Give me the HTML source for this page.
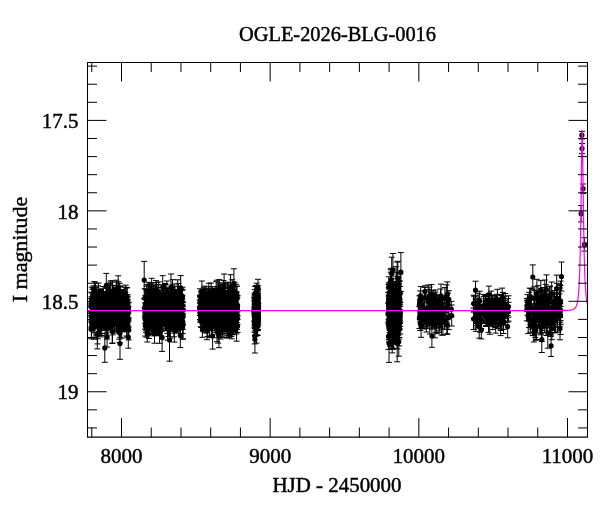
<!DOCTYPE html>
<html><head><meta charset="utf-8"><style>html,body{margin:0;padding:0;background:#fff;}svg{display:block}</style></head>
<body><svg width="600" height="512" viewBox="0 0 600 512">
<rect width="600" height="512" fill="#fff"/>
<g font-family="'Liberation Serif', 'DejaVu Serif', serif" font-size="20.4" fill="#000" stroke="#000" stroke-width="0.45">
<text x="337.5" y="40.6" text-anchor="middle" textLength="197" lengthAdjust="spacingAndGlyphs">OGLE-2026-BLG-0016</text>
<text x="121.5" y="463.1" text-anchor="middle" font-size="21">8000</text><text x="270.2" y="463.1" text-anchor="middle" font-size="21">9000</text><text x="418.8" y="463.1" text-anchor="middle" font-size="21">10000</text><text x="567.5" y="463.1" text-anchor="middle" font-size="21">11000</text>
<text x="78.4" y="128.0" text-anchor="end" font-size="21">17.5</text><text x="78.4" y="218.5" text-anchor="end" font-size="21">18</text><text x="78.4" y="308.9" text-anchor="end" font-size="21">18.5</text><text x="78.4" y="399.4" text-anchor="end" font-size="21">19</text>
<text x="337" y="491.6" text-anchor="middle" textLength="129" lengthAdjust="spacingAndGlyphs">HJD - 2450000</text>
<text transform="translate(26.7 249.5) rotate(-90)" text-anchor="middle" textLength="105.5" lengthAdjust="spacingAndGlyphs">I magnitude</text>
</g>
<defs><clipPath id="c"><rect x="87.5" y="62.5" width="500.0" height="374.5"/></clipPath></defs>
<g clip-path="url(#c)">
<path d="M110.0 303.8V315.8M107.0 303.8h6M107.0 315.8h6M109.1 311.6V325.5M106.1 311.6h6M106.1 325.5h6M98.4 312.5V323.4M95.4 312.5h6M95.4 323.4h6M107.7 301.7V314.5M104.7 301.7h6M104.7 314.5h6M109.9 305.9V314.7M106.9 305.9h6M106.9 314.7h6M118.3 305.7V318.4M115.3 305.7h6M115.3 318.4h6M109.9 292.3V307.3M106.9 292.3h6M106.9 307.3h6M124.1 287.1V305.9M121.1 287.1h6M121.1 305.9h6M98.0 309.7V322.8M95.0 309.7h6M95.0 322.8h6M108.3 300.1V316.1M105.3 300.1h6M105.3 316.1h6M93.8 310.0V323.9M90.8 310.0h6M90.8 323.9h6M128.4 302.2V313.7M125.4 302.2h6M125.4 313.7h6M102.0 294.1V310.4M99.0 294.1h6M99.0 310.4h6M124.7 300.0V313.5M121.7 300.0h6M121.7 313.5h6M114.5 314.7V333.1M111.5 314.7h6M111.5 333.1h6M98.6 316.7V331.8M95.6 316.7h6M95.6 331.8h6M95.1 301.0V322.6M92.1 301.0h6M92.1 322.6h6M118.9 293.2V314.7M115.9 293.2h6M115.9 314.7h6M95.7 296.9V310.8M92.7 296.9h6M92.7 310.8h6M115.5 302.2V319.3M112.5 302.2h6M112.5 319.3h6M100.9 305.9V316.3M97.9 305.9h6M97.9 316.3h6M106.2 296.9V313.8M103.2 296.9h6M103.2 313.8h6M120.5 297.9V312.4M117.5 297.9h6M117.5 312.4h6M114.9 305.5V322.3M111.9 305.5h6M111.9 322.3h6M119.4 294.5V309.4M116.4 294.5h6M116.4 309.4h6M104.0 312.9V326.8M101.0 312.9h6M101.0 326.8h6M111.4 303.5V319.0M108.4 303.5h6M108.4 319.0h6M94.1 314.8V332.7M91.1 314.8h6M91.1 332.7h6M103.1 286.6V306.5M100.1 286.6h6M100.1 306.5h6M106.5 314.3V330.2M103.5 314.3h6M103.5 330.2h6M92.9 287.9V305.1M89.9 287.9h6M89.9 305.1h6M114.0 304.4V320.2M111.0 304.4h6M111.0 320.2h6M128.4 311.3V327.3M125.4 311.3h6M125.4 327.3h6M106.5 303.1V315.8M103.5 303.1h6M103.5 315.8h6M99.9 299.2V316.5M96.9 299.2h6M96.9 316.5h6M91.4 307.0V327.1M88.4 307.0h6M88.4 327.1h6M98.5 294.0V307.9M95.5 294.0h6M95.5 307.9h6M125.7 306.7V322.0M122.7 306.7h6M122.7 322.0h6M118.4 292.8V317.2M115.4 292.8h6M115.4 317.2h6M119.9 291.5V323.2M116.9 291.5h6M116.9 323.2h6M121.6 320.2V338.1M118.6 320.2h6M118.6 338.1h6M121.8 305.5V321.6M118.8 305.5h6M118.8 321.6h6M114.4 294.9V312.9M111.4 294.9h6M111.4 312.9h6M107.4 301.9V315.9M104.4 301.9h6M104.4 315.9h6M127.8 308.8V322.1M124.8 308.8h6M124.8 322.1h6M110.1 312.5V329.4M107.1 312.5h6M107.1 329.4h6M102.3 298.5V310.8M99.3 298.5h6M99.3 310.8h6M91.8 287.1V315.2M88.8 287.1h6M88.8 315.2h6M119.4 305.3V328.9M116.4 305.3h6M116.4 328.9h6M97.7 305.7V322.2M94.7 305.7h6M94.7 322.2h6M112.8 297.8V311.5M109.8 297.8h6M109.8 311.5h6M118.8 300.6V321.2M115.8 300.6h6M115.8 321.2h6M100.0 290.0V306.4M97.0 290.0h6M97.0 306.4h6M110.1 310.9V326.0M107.1 310.9h6M107.1 326.0h6M96.9 299.1V315.5M93.9 299.1h6M93.9 315.5h6M96.3 287.3V300.4M93.3 287.3h6M93.3 300.4h6M115.3 295.2V310.5M112.3 295.2h6M112.3 310.5h6M113.9 289.4V306.6M110.9 289.4h6M110.9 306.6h6M117.2 291.0V311.8M114.2 291.0h6M114.2 311.8h6M105.7 301.3V316.8M102.7 301.3h6M102.7 316.8h6M122.4 307.4V331.1M119.4 307.4h6M119.4 331.1h6M108.2 293.5V309.6M105.2 293.5h6M105.2 309.6h6M104.7 313.0V324.8M101.7 313.0h6M101.7 324.8h6M92.5 298.4V308.6M89.5 298.4h6M89.5 308.6h6M119.9 289.5V305.3M116.9 289.5h6M116.9 305.3h6M105.2 299.9V315.2M102.2 299.9h6M102.2 315.2h6M93.8 285.8V307.7M90.8 285.8h6M90.8 307.7h6M119.2 306.8V322.9M116.2 306.8h6M116.2 322.9h6M106.6 287.5V312.9M103.6 287.5h6M103.6 312.9h6M104.4 295.1V312.2M101.4 295.1h6M101.4 312.2h6M115.8 300.4V314.5M112.8 300.4h6M112.8 314.5h6M115.5 295.4V312.3M112.5 295.4h6M112.5 312.3h6M127.2 302.2V322.2M124.2 302.2h6M124.2 322.2h6M104.7 305.9V320.6M101.7 305.9h6M101.7 320.6h6M121.5 301.9V318.7M118.5 301.9h6M118.5 318.7h6M98.4 316.1V327.5M95.4 316.1h6M95.4 327.5h6M119.7 286.5V304.4M116.7 286.5h6M116.7 304.4h6M109.9 283.7V313.8M106.9 283.7h6M106.9 313.8h6M113.3 285.5V301.8M110.3 285.5h6M110.3 301.8h6M110.1 303.4V322.3M107.1 303.4h6M107.1 322.3h6M117.3 311.4V328.8M114.3 311.4h6M114.3 328.8h6M108.7 298.8V320.6M105.7 298.8h6M105.7 320.6h6M101.1 316.5V328.7M98.1 316.5h6M98.1 328.7h6M105.1 296.1V316.9M102.1 296.1h6M102.1 316.9h6M97.6 315.2V335.8M94.6 315.2h6M94.6 335.8h6M116.3 280.2V298.3M113.3 280.2h6M113.3 298.3h6M121.2 300.9V325.1M118.2 300.9h6M118.2 325.1h6M123.9 307.9V325.6M120.9 307.9h6M120.9 325.6h6M125.7 303.4V327.3M122.7 303.4h6M122.7 327.3h6M127.1 310.5V322.0M124.1 310.5h6M124.1 322.0h6M119.7 283.4V305.0M116.7 283.4h6M116.7 305.0h6M90.9 298.4V313.6M87.9 298.4h6M87.9 313.6h6M119.7 299.5V316.1M116.7 299.5h6M116.7 316.1h6M104.6 299.2V318.1M101.6 299.2h6M101.6 318.1h6M118.2 275.8V298.4M115.2 275.8h6M115.2 298.4h6M121.3 307.5V322.5M118.3 307.5h6M118.3 322.5h6M108.0 296.7V316.2M105.0 296.7h6M105.0 316.2h6M122.6 299.3V319.5M119.6 299.3h6M119.6 319.5h6M102.7 306.2V319.6M99.7 306.2h6M99.7 319.6h6M110.3 302.2V318.3M107.3 302.2h6M107.3 318.3h6M95.4 305.2V318.8M92.4 305.2h6M92.4 318.8h6M92.3 301.0V314.2M89.3 301.0h6M89.3 314.2h6M112.4 303.0V320.8M109.4 303.0h6M109.4 320.8h6M116.7 292.1V307.7M113.7 292.1h6M113.7 307.7h6M97.3 320.3V348.9M94.3 320.3h6M94.3 348.9h6M96.1 297.1V312.2M93.1 297.1h6M93.1 312.2h6M108.4 299.2V316.4M105.4 299.2h6M105.4 316.4h6M110.7 303.4V319.9M107.7 303.4h6M107.7 319.9h6M97.5 305.2V321.5M94.5 305.2h6M94.5 321.5h6M108.9 295.0V307.5M105.9 295.0h6M105.9 307.5h6M104.6 304.4V324.6M101.6 304.4h6M101.6 324.6h6M126.5 309.3V324.8M123.5 309.3h6M123.5 324.8h6M121.0 294.5V313.7M118.0 294.5h6M118.0 313.7h6M93.5 302.8V324.0M90.5 302.8h6M90.5 324.0h6M92.4 299.1V314.8M89.4 299.1h6M89.4 314.8h6M112.8 297.6V310.7M109.8 297.6h6M109.8 310.7h6M115.1 293.8V315.0M112.1 293.8h6M112.1 315.0h6M126.1 301.4V313.8M123.1 301.4h6M123.1 313.8h6M106.4 303.3V322.0M103.4 303.3h6M103.4 322.0h6M107.2 310.8V332.1M104.2 310.8h6M104.2 332.1h6M119.3 296.8V319.8M116.3 296.8h6M116.3 319.8h6M108.5 294.9V306.9M105.5 294.9h6M105.5 306.9h6M103.5 305.2V327.1M100.5 305.2h6M100.5 327.1h6M99.9 313.0V327.5M96.9 313.0h6M96.9 327.5h6M107.7 299.4V317.3M104.7 299.4h6M104.7 317.3h6M115.9 306.1V319.9M112.9 306.1h6M112.9 319.9h6M114.1 295.6V314.0M111.1 295.6h6M111.1 314.0h6M118.6 281.8V302.6M115.6 281.8h6M115.6 302.6h6M123.7 311.6V328.5M120.7 311.6h6M120.7 328.5h6M105.7 298.9V315.4M102.7 298.9h6M102.7 315.4h6M127.1 306.1V329.6M124.1 306.1h6M124.1 329.6h6M92.7 294.7V315.7M89.7 294.7h6M89.7 315.7h6M93.5 303.4V322.3M90.5 303.4h6M90.5 322.3h6M107.5 298.9V315.5M104.5 298.9h6M104.5 315.5h6M98.4 292.2V310.5M95.4 292.2h6M95.4 310.5h6M107.9 293.5V305.9M104.9 293.5h6M104.9 305.9h6M127.6 309.2V324.1M124.6 309.2h6M124.6 324.1h6M118.2 289.7V303.1M115.2 289.7h6M115.2 303.1h6M116.9 312.3V331.4M113.9 312.3h6M113.9 331.4h6M106.9 310.5V329.4M103.9 310.5h6M103.9 329.4h6M91.4 315.6V329.2M88.4 315.6h6M88.4 329.2h6M126.4 307.0V319.7M123.4 307.0h6M123.4 319.7h6M109.0 305.2V328.3M106.0 305.2h6M106.0 328.3h6M125.4 301.8V313.0M122.4 301.8h6M122.4 313.0h6M97.8 306.9V322.1M94.8 306.9h6M94.8 322.1h6M103.8 296.8V318.4M100.8 296.8h6M100.8 318.4h6M121.6 293.2V305.5M118.6 293.2h6M118.6 305.5h6M123.9 300.5V317.3M120.9 300.5h6M120.9 317.3h6M119.7 304.6V328.6M116.7 304.6h6M116.7 328.6h6M115.7 294.4V309.0M112.7 294.4h6M112.7 309.0h6M105.0 303.2V318.3M102.0 303.2h6M102.0 318.3h6M121.1 294.8V310.3M118.1 294.8h6M118.1 310.3h6M110.6 300.7V316.9M107.6 300.7h6M107.6 316.9h6M126.4 310.6V323.9M123.4 310.6h6M123.4 323.9h6M115.1 304.5V321.5M112.1 304.5h6M112.1 321.5h6M119.6 308.0V327.4M116.6 308.0h6M116.6 327.4h6M93.3 296.6V315.3M90.3 296.6h6M90.3 315.3h6M121.7 306.1V318.8M118.7 306.1h6M118.7 318.8h6M117.6 304.7V318.9M114.6 304.7h6M114.6 318.9h6M112.6 306.2V334.9M109.6 306.2h6M109.6 334.9h6M120.0 299.7V315.8M117.0 299.7h6M117.0 315.8h6M102.3 292.5V315.4M99.3 292.5h6M99.3 315.4h6M105.5 300.2V320.6M102.5 300.2h6M102.5 320.6h6M115.9 312.4V325.1M112.9 312.4h6M112.9 325.1h6M124.1 316.9V331.3M121.1 316.9h6M121.1 331.3h6M125.5 303.8V314.9M122.5 303.8h6M122.5 314.9h6M98.3 311.6V328.8M95.3 311.6h6M95.3 328.8h6M107.5 298.4V310.6M104.5 298.4h6M104.5 310.6h6M127.0 287.9V306.8M124.0 287.9h6M124.0 306.8h6M115.6 305.5V318.8M112.6 305.5h6M112.6 318.8h6M107.9 303.2V321.9M104.9 303.2h6M104.9 321.9h6M114.1 306.1V321.7M111.1 306.1h6M111.1 321.7h6M99.3 301.1V322.1M96.3 301.1h6M96.3 322.1h6M98.9 302.1V322.2M95.9 302.1h6M95.9 322.2h6M120.4 297.5V310.4M117.4 297.5h6M117.4 310.4h6M114.2 304.0V318.5M111.2 304.0h6M111.2 318.5h6M117.9 297.0V308.0M114.9 297.0h6M114.9 308.0h6M98.5 300.6V320.7M95.5 300.6h6M95.5 320.7h6M115.0 288.2V300.6M112.0 288.2h6M112.0 300.6h6M101.6 305.9V319.5M98.6 305.9h6M98.6 319.5h6M93.9 311.0V326.5M90.9 311.0h6M90.9 326.5h6M126.5 311.9V336.0M123.5 311.9h6M123.5 336.0h6M101.9 308.4V326.2M98.9 308.4h6M98.9 326.2h6M106.1 308.6V326.6M103.1 308.6h6M103.1 326.6h6M92.5 299.6V312.2M89.5 299.6h6M89.5 312.2h6M103.4 298.5V313.2M100.4 298.5h6M100.4 313.2h6M93.8 308.4V317.4M90.8 308.4h6M90.8 317.4h6M109.4 290.7V311.3M106.4 290.7h6M106.4 311.3h6M104.6 306.6V320.1M101.6 306.6h6M101.6 320.1h6M126.6 303.5V324.0M123.6 303.5h6M123.6 324.0h6M106.0 317.5V333.4M103.0 317.5h6M103.0 333.4h6M121.3 302.9V319.0M118.3 302.9h6M118.3 319.0h6M108.2 287.4V310.1M105.2 287.4h6M105.2 310.1h6M121.4 290.6V303.0M118.4 290.6h6M118.4 303.0h6M99.1 308.9V324.6M96.1 308.9h6M96.1 324.6h6M92.5 289.3V304.9M89.5 289.3h6M89.5 304.9h6M103.8 306.1V319.9M100.8 306.1h6M100.8 319.9h6M102.3 300.2V313.6M99.3 300.2h6M99.3 313.6h6M110.4 293.2V308.4M107.4 293.2h6M107.4 308.4h6M106.6 317.0V329.8M103.6 317.0h6M103.6 329.8h6M108.5 304.0V315.5M105.5 304.0h6M105.5 315.5h6M120.1 300.9V310.6M117.1 300.9h6M117.1 310.6h6M115.7 296.6V316.3M112.7 296.6h6M112.7 316.3h6M99.2 308.2V323.2M96.2 308.2h6M96.2 323.2h6M108.5 301.0V312.1M105.5 301.0h6M105.5 312.1h6M123.5 305.5V317.9M120.5 305.5h6M120.5 317.9h6M100.3 291.3V309.1M97.3 291.3h6M97.3 309.1h6M102.6 301.6V321.3M99.6 301.6h6M99.6 321.3h6M106.7 288.6V306.9M103.7 288.6h6M103.7 306.9h6M125.1 293.9V319.7M122.1 293.9h6M122.1 319.7h6M113.3 297.6V315.5M110.3 297.6h6M110.3 315.5h6M104.9 307.1V324.5M101.9 307.1h6M101.9 324.5h6M110.8 306.4V318.7M107.8 306.4h6M107.8 318.7h6M119.7 305.6V319.1M116.7 305.6h6M116.7 319.1h6M128.2 302.8V322.0M125.2 302.8h6M125.2 322.0h6M103.7 305.2V323.0M100.7 305.2h6M100.7 323.0h6M124.9 310.1V330.0M121.9 310.1h6M121.9 330.0h6M117.5 302.9V317.3M114.5 302.9h6M114.5 317.3h6M92.5 303.1V319.0M89.5 303.1h6M89.5 319.0h6M116.6 303.8V323.6M113.6 303.8h6M113.6 323.6h6M91.8 292.8V308.1M88.8 292.8h6M88.8 308.1h6M102.6 299.9V315.2M99.6 299.9h6M99.6 315.2h6M127.1 313.1V337.2M124.1 313.1h6M124.1 337.2h6M108.8 304.4V321.0M105.8 304.4h6M105.8 321.0h6M115.1 307.6V319.4M112.1 307.6h6M112.1 319.4h6M108.8 307.7V321.9M105.8 307.7h6M105.8 321.9h6M97.7 306.8V318.1M94.7 306.8h6M94.7 318.1h6M119.9 310.0V326.2M116.9 310.0h6M116.9 326.2h6M125.8 287.6V308.7M122.8 287.6h6M122.8 308.7h6M124.3 307.1V323.0M121.3 307.1h6M121.3 323.0h6M119.5 311.4V330.3M116.5 311.4h6M116.5 330.3h6M125.1 315.0V331.7M122.1 315.0h6M122.1 331.7h6M97.5 310.4V334.7M94.5 310.4h6M94.5 334.7h6M98.7 303.5V322.8M95.7 303.5h6M95.7 322.8h6M113.9 285.3V300.0M110.9 285.3h6M110.9 300.0h6M112.7 308.4V324.1M109.7 308.4h6M109.7 324.1h6M94.9 303.2V317.5M91.9 303.2h6M91.9 317.5h6M119.2 300.7V317.7M116.2 300.7h6M116.2 317.7h6M98.7 303.2V320.9M95.7 303.2h6M95.7 320.9h6M108.2 294.6V306.2M105.2 294.6h6M105.2 306.2h6M106.8 300.1V316.0M103.8 300.1h6M103.8 316.0h6M121.7 297.9V311.8M118.7 297.9h6M118.7 311.8h6M98.1 285.9V311.7M95.1 285.9h6M95.1 311.7h6M97.6 325.4V343.9M94.6 325.4h6M94.6 343.9h6M114.9 305.6V323.9M111.9 305.6h6M111.9 323.9h6M116.3 312.9V330.9M113.3 312.9h6M113.3 330.9h6M115.8 288.5V300.7M112.8 288.5h6M112.8 300.7h6M98.4 302.5V313.6M95.4 302.5h6M95.4 313.6h6M103.6 306.7V321.7M100.6 306.7h6M100.6 321.7h6M111.3 295.1V315.2M108.3 295.1h6M108.3 315.2h6M111.0 308.8V322.6M108.0 308.8h6M108.0 322.6h6M97.6 297.5V317.5M94.6 297.5h6M94.6 317.5h6M92.8 292.8V316.0M89.8 292.8h6M89.8 316.0h6M101.5 301.3V317.7M98.5 301.3h6M98.5 317.7h6M120.7 308.7V323.9M117.7 308.7h6M117.7 323.9h6M127.9 296.9V312.8M124.9 296.9h6M124.9 312.8h6M116.3 303.3V317.9M113.3 303.3h6M113.3 317.9h6M97.4 298.0V313.5M94.4 298.0h6M94.4 313.5h6M114.8 306.3V326.6M111.8 306.3h6M111.8 326.6h6M125.4 292.4V316.0M122.4 292.4h6M122.4 316.0h6M103.0 298.9V312.7M100.0 298.9h6M100.0 312.7h6M103.3 301.0V312.4M100.3 301.0h6M100.3 312.4h6M108.2 299.6V311.2M105.2 299.6h6M105.2 311.2h6M96.0 298.7V309.9M93.0 298.7h6M93.0 309.9h6M120.8 300.4V322.6M117.8 300.4h6M117.8 322.6h6M119.6 315.3V333.7M116.6 315.3h6M116.6 333.7h6M120.7 309.1V320.9M117.7 309.1h6M117.7 320.9h6M105.4 301.8V317.0M102.4 301.8h6M102.4 317.0h6M115.4 299.0V313.3M112.4 299.0h6M112.4 313.3h6M116.7 302.7V318.2M113.7 302.7h6M113.7 318.2h6M116.8 306.8V320.7M113.8 306.8h6M113.8 320.7h6M95.2 306.7V326.5M92.2 306.7h6M92.2 326.5h6M106.8 297.9V315.0M103.8 297.9h6M103.8 315.0h6M113.1 308.9V323.8M110.1 308.9h6M110.1 323.8h6M92.3 304.5V321.5M89.3 304.5h6M89.3 321.5h6M112.5 319.8V343.2M109.5 319.8h6M109.5 343.2h6M107.7 292.3V312.7M104.7 292.3h6M104.7 312.7h6M124.9 306.2V329.3M121.9 306.2h6M121.9 329.3h6M94.3 298.0V311.3M91.3 298.0h6M91.3 311.3h6M105.5 308.1V319.2M102.5 308.1h6M102.5 319.2h6M107.7 308.5V322.4M104.7 308.5h6M104.7 322.4h6M112.2 306.9V343.3M109.2 306.9h6M109.2 343.3h6M123.5 291.0V309.0M120.5 291.0h6M120.5 309.0h6M114.6 300.7V319.5M111.6 300.7h6M111.6 319.5h6M91.8 313.0V330.7M88.8 313.0h6M88.8 330.7h6M122.4 293.5V311.7M119.4 293.5h6M119.4 311.7h6M118.5 309.7V323.4M115.5 309.7h6M115.5 323.4h6M112.5 295.9V312.2M109.5 295.9h6M109.5 312.2h6M94.1 293.9V317.4M91.1 293.9h6M91.1 317.4h6M106.3 273.4V297.4M103.3 273.4h6M103.3 297.4h6M117.4 295.8V318.1M114.4 295.8h6M114.4 318.1h6M91.2 292.3V311.5M88.2 292.3h6M88.2 311.5h6M103.0 312.6V329.9M100.0 312.6h6M100.0 329.9h6M101.0 306.8V316.1M98.0 306.8h6M98.0 316.1h6M108.2 295.4V314.6M105.2 295.4h6M105.2 314.6h6M122.2 293.7V309.5M119.2 293.7h6M119.2 309.5h6M106.9 296.4V313.4M103.9 296.4h6M103.9 313.4h6M128.3 326.1V348.2M125.3 326.1h6M125.3 348.2h6M109.7 304.4V319.5M106.7 304.4h6M106.7 319.5h6M96.7 312.3V326.5M93.7 312.3h6M93.7 326.5h6M99.7 298.1V318.1M96.7 298.1h6M96.7 318.1h6M106.1 309.0V327.1M103.1 309.0h6M103.1 327.1h6M109.1 307.6V326.2M106.1 307.6h6M106.1 326.2h6M107.5 302.5V315.4M104.5 302.5h6M104.5 315.4h6M117.1 311.5V323.3M114.1 311.5h6M114.1 323.3h6M96.9 308.2V318.5M93.9 308.2h6M93.9 318.5h6M106.0 296.9V312.0M103.0 296.9h6M103.0 312.0h6M125.0 304.0V315.7M122.0 304.0h6M122.0 315.7h6M98.5 283.0V303.6M95.5 283.0h6M95.5 303.6h6M105.2 298.1V315.3M102.2 298.1h6M102.2 315.3h6M105.2 300.3V317.8M102.2 300.3h6M102.2 317.8h6M109.3 285.6V304.0M106.3 285.6h6M106.3 304.0h6M121.3 315.7V330.0M118.3 315.7h6M118.3 330.0h6M109.8 284.0V307.5M106.8 284.0h6M106.8 307.5h6M105.3 304.3V322.1M102.3 304.3h6M102.3 322.1h6M97.8 298.5V314.4M94.8 298.5h6M94.8 314.4h6M124.8 303.8V316.5M121.8 303.8h6M121.8 316.5h6M104.8 305.2V316.2M101.8 305.2h6M101.8 316.2h6M118.8 300.6V313.4M115.8 300.6h6M115.8 313.4h6M118.4 291.0V307.9M115.4 291.0h6M115.4 307.9h6M127.8 299.7V319.7M124.8 299.7h6M124.8 319.7h6M108.7 304.2V317.3M105.7 304.2h6M105.7 317.3h6M110.6 301.5V321.1M107.6 301.5h6M107.6 321.1h6M117.8 302.4V315.1M114.8 302.4h6M114.8 315.1h6M117.1 296.3V328.9M114.1 296.3h6M114.1 328.9h6M95.9 307.4V319.4M92.9 307.4h6M92.9 319.4h6M102.0 311.2V326.5M99.0 311.2h6M99.0 326.5h6M95.6 293.6V316.4M92.6 293.6h6M92.6 316.4h6M112.7 312.8V330.6M109.7 312.8h6M109.7 330.6h6M106.8 295.3V316.2M103.8 295.3h6M103.8 316.2h6M123.3 298.6V316.7M120.3 298.6h6M120.3 316.7h6M113.8 296.1V311.6M110.8 296.1h6M110.8 311.6h6M108.7 312.4V326.0M105.7 312.4h6M105.7 326.0h6M128.8 320.1V339.9M125.8 320.1h6M125.8 339.9h6M100.8 299.7V315.8M97.8 299.7h6M97.8 315.8h6M103.8 297.7V315.9M100.8 297.7h6M100.8 315.9h6M123.2 305.8V320.3M120.2 305.8h6M120.2 320.3h6M107.6 297.7V313.3M104.6 297.7h6M104.6 313.3h6M97.6 316.8V334.4M94.6 316.8h6M94.6 334.4h6M104.8 310.2V327.9M101.8 310.2h6M101.8 327.9h6M104.7 303.3V315.7M101.7 303.3h6M101.7 315.7h6M104.7 311.2V328.3M101.7 311.2h6M101.7 328.3h6M110.6 310.0V319.1M107.6 310.0h6M107.6 319.1h6M104.4 302.1V315.3M101.4 302.1h6M101.4 315.3h6M107.2 316.7V339.1M104.2 316.7h6M104.2 339.1h6M93.5 292.2V307.3M90.5 292.2h6M90.5 307.3h6M96.3 294.3V307.5M93.3 294.3h6M93.3 307.5h6M115.6 307.3V322.1M112.6 307.3h6M112.6 322.1h6M98.6 300.7V314.7M95.6 300.7h6M95.6 314.7h6M97.8 312.8V338.8M94.8 312.8h6M94.8 338.8h6M110.1 289.3V302.4M107.1 289.3h6M107.1 302.4h6M102.9 291.6V309.0M99.9 291.6h6M99.9 309.0h6M99.9 305.1V324.1M96.9 305.1h6M96.9 324.1h6M94.2 291.7V308.9M91.2 291.7h6M91.2 308.9h6M116.2 292.6V312.5M113.2 292.6h6M113.2 312.5h6M102.7 297.5V320.1M99.7 297.5h6M99.7 320.1h6M124.5 310.2V324.5M121.5 310.2h6M121.5 324.5h6M112.6 302.9V321.9M109.6 302.9h6M109.6 321.9h6M103.1 305.8V320.1M100.1 305.8h6M100.1 320.1h6M117.8 301.9V314.4M114.8 301.9h6M114.8 314.4h6M107.5 295.7V314.2M104.5 295.7h6M104.5 314.2h6M92.6 298.3V314.4M89.6 298.3h6M89.6 314.4h6M125.4 306.8V320.2M122.4 306.8h6M122.4 320.2h6M92.1 311.9V327.5M89.1 311.9h6M89.1 327.5h6M122.5 292.5V315.0M119.5 292.5h6M119.5 315.0h6M113.0 291.1V313.2M110.0 291.1h6M110.0 313.2h6M125.5 297.5V320.0M122.5 297.5h6M122.5 320.0h6M100.9 289.0V303.1M97.9 289.0h6M97.9 303.1h6M128.2 311.0V328.0M125.2 311.0h6M125.2 328.0h6M91.8 301.6V312.9M88.8 301.6h6M88.8 312.9h6M93.4 308.4V320.3M90.4 308.4h6M90.4 320.3h6M119.3 313.6V332.3M116.3 313.6h6M116.3 332.3h6M119.4 309.7V324.3M116.4 309.7h6M116.4 324.3h6M101.0 303.7V323.5M98.0 303.7h6M98.0 323.5h6M107.1 326.1V347.1M104.1 326.1h6M104.1 347.1h6M108.8 312.8V327.8M105.8 312.8h6M105.8 327.8h6M97.3 301.2V318.3M94.3 301.2h6M94.3 318.3h6M126.8 307.5V327.2M123.8 307.5h6M123.8 327.2h6M119.7 323.8V342.5M116.7 323.8h6M116.7 342.5h6M99.9 294.5V311.4M96.9 294.5h6M96.9 311.4h6M116.0 308.0V318.8M113.0 308.0h6M113.0 318.8h6M104.2 300.7V313.6M101.2 300.7h6M101.2 313.6h6M100.0 297.8V333.2M97.0 297.8h6M97.0 333.2h6M110.4 282.2V306.2M107.4 282.2h6M107.4 306.2h6M118.6 295.7V320.3M115.6 295.7h6M115.6 320.3h6M95.0 306.0V321.3M92.0 306.0h6M92.0 321.3h6M93.8 308.7V322.2M90.8 308.7h6M90.8 322.2h6M114.0 302.8V313.5M111.0 302.8h6M111.0 313.5h6M105.8 306.5V321.6M102.8 306.5h6M102.8 321.6h6M111.9 298.0V324.5M108.9 298.0h6M108.9 324.5h6M108.7 290.1V304.1M105.7 290.1h6M105.7 304.1h6M111.6 301.3V312.5M108.6 301.3h6M108.6 312.5h6M99.9 309.4V320.1M96.9 309.4h6M96.9 320.1h6M106.4 292.2V308.1M103.4 292.2h6M103.4 308.1h6M113.7 309.5V320.1M110.7 309.5h6M110.7 320.1h6M112.3 309.1V320.0M109.3 309.1h6M109.3 320.0h6M125.7 285.1V310.5M122.7 285.1h6M122.7 310.5h6M94.4 281.6V305.3M91.4 281.6h6M91.4 305.3h6M102.0 304.6V324.6M99.0 304.6h6M99.0 324.6h6M112.7 300.3V310.8M109.7 300.3h6M109.7 310.8h6M125.0 304.0V322.0M122.0 304.0h6M122.0 322.0h6M93.2 311.2V326.7M90.2 311.2h6M90.2 326.7h6M94.7 291.3V309.2M91.7 291.3h6M91.7 309.2h6M121.7 311.8V327.5M118.7 311.8h6M118.7 327.5h6M104.8 311.2V327.7M101.8 311.2h6M101.8 327.7h6M102.7 305.7V325.4M99.7 305.7h6M99.7 325.4h6M120.2 311.2V337.3M117.2 311.2h6M117.2 337.3h6M121.9 310.8V325.5M118.9 310.8h6M118.9 325.5h6M127.1 287.4V310.3M124.1 287.4h6M124.1 310.3h6M98.5 296.2V309.6M95.5 296.2h6M95.5 309.6h6M124.4 300.9V325.6M121.4 300.9h6M121.4 325.6h6M123.9 304.0V315.2M120.9 304.0h6M120.9 315.2h6M100.9 311.6V336.9M97.9 311.6h6M97.9 336.9h6M105.3 292.6V305.4M102.3 292.6h6M102.3 305.4h6M112.9 296.3V311.5M109.9 296.3h6M109.9 311.5h6M114.1 299.5V321.3M111.1 299.5h6M111.1 321.3h6M101.6 305.6V317.8M98.6 305.6h6M98.6 317.8h6M105.2 292.6V314.8M102.2 292.6h6M102.2 314.8h6M102.6 292.1V313.6M99.6 292.1h6M99.6 313.6h6M102.4 303.5V318.0M99.4 303.5h6M99.4 318.0h6M93.9 303.5V325.8M90.9 303.5h6M90.9 325.8h6M91.1 303.9V321.2M88.1 303.9h6M88.1 321.2h6M100.2 316.9V335.3M97.2 316.9h6M97.2 335.3h6M106.5 306.6V325.8M103.5 306.6h6M103.5 325.8h6M102.2 302.1V312.7M99.2 302.1h6M99.2 312.7h6M107.2 303.6V318.3M104.2 303.6h6M104.2 318.3h6M127.5 295.9V306.1M124.5 295.9h6M124.5 306.1h6M102.9 302.1V315.7M99.9 302.1h6M99.9 315.7h6M118.0 290.4V308.1M115.0 290.4h6M115.0 308.1h6M100.7 312.9V330.5M97.7 312.9h6M97.7 330.5h6M102.9 302.5V317.9M99.9 302.5h6M99.9 317.9h6M118.8 305.0V319.2M115.8 305.0h6M115.8 319.2h6M119.9 298.2V312.1M116.9 298.2h6M116.9 312.1h6M110.6 309.7V329.8M107.6 309.7h6M107.6 329.8h6M93.9 302.4V315.0M90.9 302.4h6M90.9 315.0h6M94.8 305.1V322.0M91.8 305.1h6M91.8 322.0h6M127.5 310.7V325.9M124.5 310.7h6M124.5 325.9h6M117.9 297.7V310.5M114.9 297.7h6M114.9 310.5h6M103.1 295.9V307.5M100.1 295.9h6M100.1 307.5h6M125.0 306.2V321.5M122.0 306.2h6M122.0 321.5h6M102.5 306.7V317.5M99.5 306.7h6M99.5 317.5h6M107.6 302.9V324.0M104.6 302.9h6M104.6 324.0h6M95.4 283.0V302.1M92.4 283.0h6M92.4 302.1h6M111.5 303.1V322.6M108.5 303.1h6M108.5 322.6h6M108.0 304.1V323.4M105.0 304.1h6M105.0 323.4h6M94.0 315.4V339.2M91.0 315.4h6M91.0 339.2h6M101.0 290.5V307.6M98.0 290.5h6M98.0 307.6h6M115.0 307.4V324.3M112.0 307.4h6M112.0 324.3h6M91.3 319.7V338.8M88.3 319.7h6M88.3 338.8h6M125.4 305.2V331.7M122.4 305.2h6M122.4 331.7h6M92.9 297.3V314.7M89.9 297.3h6M89.9 314.7h6M101.0 289.0V308.0M98.0 289.0h6M98.0 308.0h6M110.5 295.0V311.6M107.5 295.0h6M107.5 311.6h6M126.8 300.9V317.0M123.8 300.9h6M123.8 317.0h6M95.9 304.6V322.7M92.9 304.6h6M92.9 322.7h6M116.8 291.3V308.6M113.8 291.3h6M113.8 308.6h6M109.2 304.0V321.7M106.2 304.0h6M106.2 321.7h6M113.4 298.2V312.4M110.4 298.2h6M110.4 312.4h6M128.5 306.7V317.7M125.5 306.7h6M125.5 317.7h6M118.7 298.0V311.2M115.7 298.0h6M115.7 311.2h6M116.6 305.1V322.9M113.6 305.1h6M113.6 322.9h6M125.9 305.0V323.5M122.9 305.0h6M122.9 323.5h6M127.3 294.5V312.4M124.3 294.5h6M124.3 312.4h6M120.2 303.3V319.3M117.2 303.3h6M117.2 319.3h6M121.1 301.4V316.2M118.1 301.4h6M118.1 316.2h6M94.2 308.9V324.8M91.2 308.9h6M91.2 324.8h6M117.8 301.1V320.2M114.8 301.1h6M114.8 320.2h6M97.6 289.9V310.5M94.6 289.9h6M94.6 310.5h6M108.4 291.0V306.9M105.4 291.0h6M105.4 306.9h6M108.8 299.6V319.3M105.8 299.6h6M105.8 319.3h6M120.2 299.1V310.3M117.2 299.1h6M117.2 310.3h6M119.0 306.2V328.1M116.0 306.2h6M116.0 328.1h6M114.3 298.6V315.6M111.3 298.6h6M111.3 315.6h6M102.8 307.6V320.9M99.8 307.6h6M99.8 320.9h6M91.5 296.8V316.7M88.5 296.8h6M88.5 316.7h6M93.3 302.4V315.2M90.3 302.4h6M90.3 315.2h6M94.8 306.1V320.5M91.8 306.1h6M91.8 320.5h6M119.1 297.0V312.5M116.1 297.0h6M116.1 312.5h6M99.6 304.1V316.7M96.6 304.1h6M96.6 316.7h6M121.7 294.1V310.2M118.7 294.1h6M118.7 310.2h6M107.3 300.0V318.6M104.3 300.0h6M104.3 318.6h6M118.2 306.9V324.9M115.2 306.9h6M115.2 324.9h6M108.6 289.6V306.0M105.6 289.6h6M105.6 306.0h6M96.2 310.3V326.6M93.2 310.3h6M93.2 326.6h6M98.8 310.5V331.8M95.8 310.5h6M95.8 331.8h6M109.1 308.6V321.7M106.1 308.6h6M106.1 321.7h6M101.0 307.5V317.8M98.0 307.5h6M98.0 317.8h6M117.9 297.4V313.3M114.9 297.4h6M114.9 313.3h6M109.3 306.7V326.0M106.3 306.7h6M106.3 326.0h6M91.6 315.5V337.7M88.6 315.5h6M88.6 337.7h6M93.8 296.3V313.2M90.8 296.3h6M90.8 313.2h6M121.4 311.4V329.6M118.4 311.4h6M118.4 329.6h6M100.5 289.7V307.6M97.5 289.7h6M97.5 307.6h6M117.1 289.5V313.5M114.1 289.5h6M114.1 313.5h6M124.8 297.8V311.3M121.8 297.8h6M121.8 311.3h6M120.3 298.8V313.8M117.3 298.8h6M117.3 313.8h6M110.2 311.6V328.6M107.2 311.6h6M107.2 328.6h6M94.1 288.6V304.2M91.1 288.6h6M91.1 304.2h6M92.6 302.9V316.2M89.6 302.9h6M89.6 316.2h6M118.0 297.2V320.5M115.0 297.2h6M115.0 320.5h6M120.0 327.9V359.3M117.0 327.9h6M117.0 359.3h6M111.1 293.4V305.1M108.1 293.4h6M108.1 305.1h6M94.2 295.9V312.0M91.2 295.9h6M91.2 312.0h6M102.8 305.0V323.3M99.8 305.0h6M99.8 323.3h6M126.2 303.9V324.5M123.2 303.9h6M123.2 324.5h6M122.5 305.4V326.1M119.5 305.4h6M119.5 326.1h6M119.3 323.3V339.2M116.3 323.3h6M116.3 339.2h6M111.2 298.7V315.0M108.2 298.7h6M108.2 315.0h6M115.7 293.8V313.5M112.7 293.8h6M112.7 313.5h6M122.5 289.5V316.8M119.5 289.5h6M119.5 316.8h6M116.4 282.2V303.4M113.4 282.2h6M113.4 303.4h6M114.8 307.1V325.3M111.8 307.1h6M111.8 325.3h6M124.6 306.2V323.6M121.6 306.2h6M121.6 323.6h6M95.0 293.4V309.6M92.0 293.4h6M92.0 309.6h6M112.5 281.0V303.5M109.5 281.0h6M109.5 303.5h6M93.0 309.9V330.1M90.0 309.9h6M90.0 330.1h6M103.2 305.5V316.5M100.2 305.5h6M100.2 316.5h6M110.1 305.4V316.7M107.1 305.4h6M107.1 316.7h6M104.7 294.1V307.3M101.7 294.1h6M101.7 307.3h6M115.5 290.4V316.6M112.5 290.4h6M112.5 316.6h6M108.2 305.4V321.2M105.2 305.4h6M105.2 321.2h6M100.8 293.3V313.9M97.8 293.3h6M97.8 313.9h6M115.2 303.8V325.2M112.2 303.8h6M112.2 325.2h6M112.9 306.2V320.8M109.9 306.2h6M109.9 320.8h6M93.8 287.3V306.3M90.8 287.3h6M90.8 306.3h6M110.8 280.8V309.3M107.8 280.8h6M107.8 309.3h6M121.4 294.0V310.5M118.4 294.0h6M118.4 310.5h6M112.7 300.0V312.9M109.7 300.0h6M109.7 312.9h6M120.5 285.9V319.1M117.5 285.9h6M117.5 319.1h6M112.8 307.0V327.9M109.8 307.0h6M109.8 327.9h6M128.4 302.7V318.3M125.4 302.7h6M125.4 318.3h6M106.0 303.3V321.4M103.0 303.3h6M103.0 321.4h6M102.9 304.3V314.4M99.9 304.3h6M99.9 314.4h6M104.8 333.5V362.3M101.8 333.5h6M101.8 362.3h6M114.8 298.8V319.8M111.8 298.8h6M111.8 319.8h6M117.3 299.5V317.3M114.3 299.5h6M114.3 317.3h6M115.0 312.2V325.9M112.0 312.2h6M112.0 325.9h6M102.2 299.6V318.3M99.2 299.6h6M99.2 318.3h6M101.3 311.0V335.4M98.3 311.0h6M98.3 335.4h6M124.0 291.9V308.9M121.0 291.9h6M121.0 308.9h6M149.6 314.0V327.9M146.6 314.0h6M146.6 327.9h6M166.0 300.4V315.8M163.0 300.4h6M163.0 315.8h6M182.7 313.8V339.2M179.7 313.8h6M179.7 339.2h6M151.5 307.0V324.8M148.5 307.0h6M148.5 324.8h6M168.8 305.4V322.9M165.8 305.4h6M165.8 322.9h6M144.7 299.0V315.9M141.7 299.0h6M141.7 315.9h6M165.4 284.5V322.7M162.4 284.5h6M162.4 322.7h6M168.7 308.3V323.3M165.7 308.3h6M165.7 323.3h6M151.4 299.7V317.9M148.4 299.7h6M148.4 317.9h6M166.7 309.3V325.8M163.7 309.3h6M163.7 325.8h6M151.9 292.9V310.9M148.9 292.9h6M148.9 310.9h6M160.4 293.0V308.9M157.4 293.0h6M157.4 308.9h6M150.8 300.7V313.0M147.8 300.7h6M147.8 313.0h6M177.4 299.3V315.1M174.4 299.3h6M174.4 315.1h6M170.9 311.3V327.0M167.9 311.3h6M167.9 327.0h6M182.5 289.8V302.5M179.5 289.8h6M179.5 302.5h6M172.8 306.8V321.6M169.8 306.8h6M169.8 321.6h6M158.0 292.7V310.1M155.0 292.7h6M155.0 310.1h6M151.6 316.6V332.1M148.6 316.6h6M148.6 332.1h6M152.6 308.8V322.5M149.6 308.8h6M149.6 322.5h6M179.5 295.7V316.8M176.5 295.7h6M176.5 316.8h6M181.7 296.2V324.4M178.7 296.2h6M178.7 324.4h6M153.1 285.1V308.6M150.1 285.1h6M150.1 308.6h6M174.0 314.5V333.1M171.0 314.5h6M171.0 333.1h6M175.7 297.0V316.5M172.7 297.0h6M172.7 316.5h6M173.5 302.7V315.2M170.5 302.7h6M170.5 315.2h6M177.0 308.4V321.2M174.0 308.4h6M174.0 321.2h6M169.7 299.9V318.8M166.7 299.9h6M166.7 318.8h6M162.8 290.5V311.8M159.8 290.5h6M159.8 311.8h6M179.3 305.0V317.8M176.3 305.0h6M176.3 317.8h6M156.9 295.2V312.1M153.9 295.2h6M153.9 312.1h6M149.8 283.1V302.3M146.8 283.1h6M146.8 302.3h6M175.7 299.8V313.8M172.7 299.8h6M172.7 313.8h6M168.7 307.7V320.7M165.7 307.7h6M165.7 320.7h6M159.9 295.6V310.8M156.9 295.6h6M156.9 310.8h6M160.5 299.0V314.7M157.5 299.0h6M157.5 314.7h6M152.4 313.7V328.3M149.4 313.7h6M149.4 328.3h6M148.5 315.6V331.1M145.5 315.6h6M145.5 331.1h6M168.0 298.6V314.4M165.0 298.6h6M165.0 314.4h6M178.2 303.8V324.6M175.2 303.8h6M175.2 324.6h6M151.6 311.2V328.7M148.6 311.2h6M148.6 328.7h6M172.2 311.8V326.7M169.2 311.8h6M169.2 326.7h6M179.2 313.9V326.8M176.2 313.9h6M176.2 326.8h6M177.4 306.1V326.7M174.4 306.1h6M174.4 326.7h6M165.0 306.8V319.6M162.0 306.8h6M162.0 319.6h6M167.9 316.0V327.7M164.9 316.0h6M164.9 327.7h6M167.5 301.5V319.0M164.5 301.5h6M164.5 319.0h6M160.2 299.3V314.3M157.2 299.3h6M157.2 314.3h6M180.4 295.0V305.6M177.4 295.0h6M177.4 305.6h6M164.3 311.5V324.6M161.3 311.5h6M161.3 324.6h6M176.1 297.6V313.3M173.1 297.6h6M173.1 313.3h6M174.9 286.2V315.6M171.9 286.2h6M171.9 315.6h6M151.4 284.2V301.6M148.4 284.2h6M148.4 301.6h6M164.3 306.7V322.9M161.3 306.7h6M161.3 322.9h6M167.8 310.9V325.7M164.8 310.9h6M164.8 325.7h6M156.1 311.1V324.1M153.1 311.1h6M153.1 324.1h6M149.3 308.8V322.5M146.3 308.8h6M146.3 322.5h6M173.7 302.7V317.3M170.7 302.7h6M170.7 317.3h6M155.3 307.6V325.5M152.3 307.6h6M152.3 325.5h6M150.0 296.8V315.5M147.0 296.8h6M147.0 315.5h6M144.7 288.7V307.9M141.7 288.7h6M141.7 307.9h6M160.4 306.1V317.1M157.4 306.1h6M157.4 317.1h6M149.9 285.8V301.3M146.9 285.8h6M146.9 301.3h6M161.5 305.6V318.8M158.5 305.6h6M158.5 318.8h6M157.8 295.6V320.3M154.8 295.6h6M154.8 320.3h6M178.2 310.2V329.1M175.2 310.2h6M175.2 329.1h6M181.3 290.4V309.1M178.3 290.4h6M178.3 309.1h6M150.3 306.0V319.1M147.3 306.0h6M147.3 319.1h6M155.8 301.5V313.5M152.8 301.5h6M152.8 313.5h6M163.4 303.9V321.0M160.4 303.9h6M160.4 321.0h6M180.5 304.5V319.4M177.5 304.5h6M177.5 319.4h6M179.6 302.5V319.9M176.6 302.5h6M176.6 319.9h6M182.8 316.2V333.6M179.8 316.2h6M179.8 333.6h6M175.7 304.6V318.7M172.7 304.6h6M172.7 318.7h6M176.4 294.1V314.3M173.4 294.1h6M173.4 314.3h6M169.6 303.9V320.7M166.6 303.9h6M166.6 320.7h6M177.6 299.7V315.4M174.6 299.7h6M174.6 315.4h6M150.4 286.3V310.0M147.4 286.3h6M147.4 310.0h6M157.0 304.3V325.7M154.0 304.3h6M154.0 325.7h6M147.4 307.9V322.2M144.4 307.9h6M144.4 322.2h6M174.9 308.9V326.1M171.9 308.9h6M171.9 326.1h6M177.2 312.3V332.0M174.2 312.3h6M174.2 332.0h6M159.6 302.0V322.2M156.6 302.0h6M156.6 322.2h6M170.0 293.3V313.3M167.0 293.3h6M167.0 313.3h6M152.4 301.8V319.1M149.4 301.8h6M149.4 319.1h6M151.5 288.9V314.6M148.5 288.9h6M148.5 314.6h6M153.4 301.1V320.9M150.4 301.1h6M150.4 320.9h6M174.0 302.8V330.6M171.0 302.8h6M171.0 330.6h6M173.0 314.7V327.1M170.0 314.7h6M170.0 327.1h6M156.2 313.8V331.0M153.2 313.8h6M153.2 331.0h6M165.6 306.9V321.5M162.6 306.9h6M162.6 321.5h6M146.9 284.7V312.6M143.9 284.7h6M143.9 312.6h6M151.4 299.0V317.6M148.4 299.0h6M148.4 317.6h6M145.8 289.7V317.7M142.8 289.7h6M142.8 317.7h6M149.4 300.9V321.1M146.4 300.9h6M146.4 321.1h6M149.5 309.3V319.7M146.5 309.3h6M146.5 319.7h6M157.2 302.3V316.9M154.2 302.3h6M154.2 316.9h6M154.5 304.8V323.1M151.5 304.8h6M151.5 323.1h6M159.1 292.0V307.0M156.1 292.0h6M156.1 307.0h6M166.0 303.4V321.2M163.0 303.4h6M163.0 321.2h6M160.0 314.6V332.1M157.0 314.6h6M157.0 332.1h6M170.0 300.9V316.4M167.0 300.9h6M167.0 316.4h6M163.7 288.1V301.9M160.7 288.1h6M160.7 301.9h6M167.7 298.2V316.8M164.7 298.2h6M164.7 316.8h6M173.1 295.1V315.4M170.1 295.1h6M170.1 315.4h6M162.9 303.9V319.5M159.9 303.9h6M159.9 319.5h6M180.0 300.3V311.4M177.0 300.3h6M177.0 311.4h6M178.5 283.5V299.9M175.5 283.5h6M175.5 299.9h6M155.9 317.6V331.3M152.9 317.6h6M152.9 331.3h6M155.7 297.4V330.6M152.7 297.4h6M152.7 330.6h6M157.5 292.6V314.0M154.5 292.6h6M154.5 314.0h6M170.9 307.3V321.9M167.9 307.3h6M167.9 321.9h6M166.1 305.0V317.1M163.1 305.0h6M163.1 317.1h6M169.3 300.0V316.0M166.3 300.0h6M166.3 316.0h6M166.4 304.1V317.8M163.4 304.1h6M163.4 317.8h6M148.2 317.0V333.7M145.2 317.0h6M145.2 333.7h6M177.9 291.8V305.9M174.9 291.8h6M174.9 305.9h6M180.4 298.7V307.2M177.4 298.7h6M177.4 307.2h6M148.6 299.9V318.7M145.6 299.9h6M145.6 318.7h6M151.9 312.2V330.0M148.9 312.2h6M148.9 330.0h6M155.0 293.7V310.4M152.0 293.7h6M152.0 310.4h6M176.6 301.1V320.2M173.6 301.1h6M173.6 320.2h6M158.3 309.8V323.0M155.3 309.8h6M155.3 323.0h6M177.1 304.4V320.0M174.1 304.4h6M174.1 320.0h6M162.0 303.7V317.6M159.0 303.7h6M159.0 317.6h6M158.5 310.2V321.4M155.5 310.2h6M155.5 321.4h6M170.9 302.5V317.9M167.9 302.5h6M167.9 317.9h6M145.3 314.8V336.1M142.3 314.8h6M142.3 336.1h6M167.9 308.9V320.9M164.9 308.9h6M164.9 320.9h6M149.6 290.3V311.0M146.6 290.3h6M146.6 311.0h6M171.0 304.3V316.5M168.0 304.3h6M168.0 316.5h6M170.9 302.5V324.6M167.9 302.5h6M167.9 324.6h6M181.7 299.0V320.1M178.7 299.0h6M178.7 320.1h6M172.9 301.2V314.6M169.9 301.2h6M169.9 314.6h6M180.4 301.9V333.3M177.4 301.9h6M177.4 333.3h6M172.6 279.7V302.0M169.6 279.7h6M169.6 302.0h6M182.5 287.2V305.9M179.5 287.2h6M179.5 305.9h6M154.0 297.4V316.4M151.0 297.4h6M151.0 316.4h6M161.7 302.9V319.9M158.7 302.9h6M158.7 319.9h6M153.8 305.5V325.5M150.8 305.5h6M150.8 325.5h6M176.1 311.6V322.3M173.1 311.6h6M173.1 322.3h6M146.2 315.7V332.4M143.2 315.7h6M143.2 332.4h6M167.6 305.3V323.1M164.6 305.3h6M164.6 323.1h6M162.1 305.4V324.3M159.1 305.4h6M159.1 324.3h6M145.4 295.4V313.4M142.4 295.4h6M142.4 313.4h6M154.6 294.3V324.0M151.6 294.3h6M151.6 324.0h6M176.6 303.3V318.6M173.6 303.3h6M173.6 318.6h6M157.7 306.1V322.7M154.7 306.1h6M154.7 322.7h6M183.0 309.0V338.9M180.0 309.0h6M180.0 338.9h6M149.7 309.3V323.3M146.7 309.3h6M146.7 323.3h6M145.0 308.5V329.2M142.0 308.5h6M142.0 329.2h6M164.6 301.3V318.1M161.6 301.3h6M161.6 318.1h6M165.3 302.1V317.9M162.3 302.1h6M162.3 317.9h6M170.3 308.7V317.8M167.3 308.7h6M167.3 317.8h6M148.3 310.0V333.5M145.3 310.0h6M145.3 333.5h6M178.8 307.3V324.2M175.8 307.3h6M175.8 324.2h6M172.9 302.0V318.3M169.9 302.0h6M169.9 318.3h6M179.0 291.8V313.0M176.0 291.8h6M176.0 313.0h6M177.0 298.7V317.2M174.0 298.7h6M174.0 317.2h6M180.4 296.1V312.3M177.4 296.1h6M177.4 312.3h6M182.1 311.3V321.9M179.1 311.3h6M179.1 321.9h6M161.0 319.0V335.9M158.0 319.0h6M158.0 335.9h6M166.8 297.0V309.8M163.8 297.0h6M163.8 309.8h6M147.8 296.5V312.5M144.8 296.5h6M144.8 312.5h6M164.0 302.1V312.7M161.0 302.1h6M161.0 312.7h6M172.0 292.0V310.5M169.0 292.0h6M169.0 310.5h6M181.7 304.6V318.5M178.7 304.6h6M178.7 318.5h6M176.2 314.2V332.8M173.2 314.2h6M173.2 332.8h6M149.5 295.0V314.3M146.5 295.0h6M146.5 314.3h6M149.9 304.3V316.5M146.9 304.3h6M146.9 316.5h6M152.1 312.8V327.6M149.1 312.8h6M149.1 327.6h6M182.3 289.9V306.2M179.3 289.9h6M179.3 306.2h6M175.5 301.8V317.9M172.5 301.8h6M172.5 317.9h6M150.3 292.7V306.1M147.3 292.7h6M147.3 306.1h6M171.2 295.4V310.5M168.2 295.4h6M168.2 310.5h6M161.2 298.4V319.0M158.2 298.4h6M158.2 319.0h6M166.3 305.8V326.4M163.3 305.8h6M163.3 326.4h6M162.8 304.1V321.7M159.8 304.1h6M159.8 321.7h6M174.7 310.0V328.1M171.7 310.0h6M171.7 328.1h6M171.2 297.2V316.5M168.2 297.2h6M168.2 316.5h6M157.4 308.5V325.7M154.4 308.5h6M154.4 325.7h6M155.5 314.5V328.7M152.5 314.5h6M152.5 328.7h6M155.2 286.1V307.7M152.2 286.1h6M152.2 307.7h6M180.7 275.6V300.2M177.7 275.6h6M177.7 300.2h6M149.0 311.9V328.6M146.0 311.9h6M146.0 328.6h6M153.3 291.8V316.2M150.3 291.8h6M150.3 316.2h6M167.6 311.4V330.3M164.6 311.4h6M164.6 330.3h6M166.6 305.0V316.3M163.6 305.0h6M163.6 316.3h6M156.1 298.3V317.3M153.1 298.3h6M153.1 317.3h6M155.6 297.4V314.1M152.6 297.4h6M152.6 314.1h6M178.7 300.2V322.5M175.7 300.2h6M175.7 322.5h6M171.6 309.5V330.2M168.6 309.5h6M168.6 330.2h6M171.7 309.8V324.7M168.7 309.8h6M168.7 324.7h6M166.4 298.7V322.4M163.4 298.7h6M163.4 322.4h6M147.5 298.6V311.5M144.5 298.6h6M144.5 311.5h6M174.2 306.9V323.7M171.2 306.9h6M171.2 323.7h6M177.5 305.9V319.2M174.5 305.9h6M174.5 319.2h6M161.5 292.5V309.5M158.5 292.5h6M158.5 309.5h6M167.0 304.9V322.5M164.0 304.9h6M164.0 322.5h6M182.7 306.3V324.7M179.7 306.3h6M179.7 324.7h6M170.0 305.0V320.2M167.0 305.0h6M167.0 320.2h6M153.4 285.4V302.8M150.4 285.4h6M150.4 302.8h6M176.3 307.6V322.7M173.3 307.6h6M173.3 322.7h6M166.8 288.2V317.7M163.8 288.2h6M163.8 317.7h6M151.9 307.8V323.6M148.9 307.8h6M148.9 323.6h6M179.8 315.9V329.3M176.8 315.9h6M176.8 329.3h6M168.7 288.9V305.3M165.7 288.9h6M165.7 305.3h6M168.1 304.8V318.0M165.1 304.8h6M165.1 318.0h6M160.3 299.5V314.5M157.3 299.5h6M157.3 314.5h6M179.8 305.7V327.5M176.8 305.7h6M176.8 327.5h6M180.1 304.6V317.9M177.1 304.6h6M177.1 317.9h6M170.4 313.1V330.4M167.4 313.1h6M167.4 330.4h6M154.7 305.3V317.1M151.7 305.3h6M151.7 317.1h6M161.7 302.5V315.7M158.7 302.5h6M158.7 315.7h6M160.1 303.0V319.3M157.1 303.0h6M157.1 319.3h6M173.6 301.8V313.3M170.6 301.8h6M170.6 313.3h6M156.9 298.9V315.2M153.9 298.9h6M153.9 315.2h6M175.5 307.7V323.7M172.5 307.7h6M172.5 323.7h6M168.5 318.2V336.5M165.5 318.2h6M165.5 336.5h6M153.2 282.8V299.5M150.2 282.8h6M150.2 299.5h6M162.0 310.6V330.0M159.0 310.6h6M159.0 330.0h6M158.5 296.8V312.3M155.5 296.8h6M155.5 312.3h6M148.9 300.1V313.8M145.9 300.1h6M145.9 313.8h6M169.9 288.0V304.3M166.9 288.0h6M166.9 304.3h6M164.0 303.1V316.6M161.0 303.1h6M161.0 316.6h6M146.8 290.9V306.7M143.8 290.9h6M143.8 306.7h6M164.5 293.7V308.8M161.5 293.7h6M161.5 308.8h6M181.9 301.1V317.5M178.9 301.1h6M178.9 317.5h6M166.4 306.6V322.3M163.4 306.6h6M163.4 322.3h6M165.3 306.6V320.0M162.3 306.6h6M162.3 320.0h6M146.9 300.1V314.7M143.9 300.1h6M143.9 314.7h6M146.8 296.6V314.4M143.8 296.6h6M143.8 314.4h6M169.2 314.7V327.9M166.2 314.7h6M166.2 327.9h6M181.2 295.6V312.9M178.2 295.6h6M178.2 312.9h6M168.2 302.1V320.8M165.2 302.1h6M165.2 320.8h6M172.8 308.4V325.1M169.8 308.4h6M169.8 325.1h6M165.8 303.3V314.8M162.8 303.3h6M162.8 314.8h6M153.9 308.9V326.9M150.9 308.9h6M150.9 326.9h6M147.6 295.8V310.6M144.6 295.8h6M144.6 310.6h6M151.4 298.7V309.4M148.4 298.7h6M148.4 309.4h6M171.5 298.9V316.6M168.5 298.9h6M168.5 316.6h6M177.5 300.1V314.3M174.5 300.1h6M174.5 314.3h6M171.0 303.0V313.9M168.0 303.0h6M168.0 313.9h6M178.4 298.3V312.7M175.4 298.3h6M175.4 312.7h6M153.6 292.4V305.9M150.6 292.4h6M150.6 305.9h6M149.9 294.9V311.9M146.9 294.9h6M146.9 311.9h6M153.8 292.7V308.9M150.8 292.7h6M150.8 308.9h6M154.5 321.6V343.2M151.5 321.6h6M151.5 343.2h6M180.2 299.7V317.9M177.2 299.7h6M177.2 317.9h6M156.6 306.9V328.0M153.6 306.9h6M153.6 328.0h6M152.1 291.4V334.4M149.1 291.4h6M149.1 334.4h6M182.0 311.0V328.8M179.0 311.0h6M179.0 328.8h6M175.6 293.4V315.5M172.6 293.4h6M172.6 315.5h6M150.7 299.7V317.0M147.7 299.7h6M147.7 317.0h6M179.7 305.3V320.5M176.7 305.3h6M176.7 320.5h6M175.8 307.7V322.6M172.8 307.7h6M172.8 322.6h6M167.0 302.4V315.4M164.0 302.4h6M164.0 315.4h6M156.0 302.1V316.8M153.0 302.1h6M153.0 316.8h6M147.6 296.1V311.6M144.6 296.1h6M144.6 311.6h6M171.4 294.2V306.8M168.4 294.2h6M168.4 306.8h6M151.1 308.7V324.7M148.1 308.7h6M148.1 324.7h6M149.5 296.2V320.7M146.5 296.2h6M146.5 320.7h6M173.9 312.9V336.8M170.9 312.9h6M170.9 336.8h6M178.2 310.8V325.2M175.2 310.8h6M175.2 325.2h6M177.9 300.1V315.1M174.9 300.1h6M174.9 315.1h6M159.6 293.8V308.9M156.6 293.8h6M156.6 308.9h6M156.1 303.5V320.4M153.1 303.5h6M153.1 320.4h6M153.8 306.3V317.9M150.8 306.3h6M150.8 317.9h6M162.9 306.8V325.8M159.9 306.8h6M159.9 325.8h6M147.0 289.4V310.6M144.0 289.4h6M144.0 310.6h6M146.6 286.2V307.5M143.6 286.2h6M143.6 307.5h6M158.9 297.9V316.7M155.9 297.9h6M155.9 316.7h6M182.3 296.0V314.1M179.3 296.0h6M179.3 314.1h6M172.9 299.3V317.6M169.9 299.3h6M169.9 317.6h6M164.9 298.5V314.8M161.9 298.5h6M161.9 314.8h6M173.7 298.3V310.7M170.7 298.3h6M170.7 310.7h6M154.0 303.0V332.7M151.0 303.0h6M151.0 332.7h6M173.6 305.1V321.4M170.6 305.1h6M170.6 321.4h6M159.7 294.2V310.5M156.7 294.2h6M156.7 310.5h6M171.3 291.1V314.0M168.3 291.1h6M168.3 314.0h6M154.5 299.7V319.3M151.5 299.7h6M151.5 319.3h6M164.7 292.6V310.1M161.7 292.6h6M161.7 310.1h6M167.9 297.9V317.5M164.9 297.9h6M164.9 317.5h6M167.3 298.6V313.6M164.3 298.6h6M164.3 313.6h6M161.1 294.3V311.9M158.1 294.3h6M158.1 311.9h6M171.7 287.5V306.5M168.7 287.5h6M168.7 306.5h6M148.0 307.5V319.6M145.0 307.5h6M145.0 319.6h6M147.8 293.0V308.0M144.8 293.0h6M144.8 308.0h6M163.6 303.4V313.5M160.6 303.4h6M160.6 313.5h6M157.0 305.4V321.5M154.0 305.4h6M154.0 321.5h6M160.0 298.2V312.1M157.0 298.2h6M157.0 312.1h6M180.8 297.3V312.7M177.8 297.3h6M177.8 312.7h6M161.8 297.9V315.1M158.8 297.9h6M158.8 315.1h6M151.7 296.0V313.9M148.7 296.0h6M148.7 313.9h6M173.4 304.1V318.0M170.4 304.1h6M170.4 318.0h6M182.8 314.2V329.4M179.8 314.2h6M179.8 329.4h6M157.2 293.7V313.1M154.2 293.7h6M154.2 313.1h6M172.4 305.6V321.0M169.4 305.6h6M169.4 321.0h6M175.4 304.5V317.4M172.4 304.5h6M172.4 317.4h6M170.6 301.1V316.6M167.6 301.1h6M167.6 316.6h6M148.6 298.2V317.3M145.6 298.2h6M145.6 317.3h6M148.9 314.2V338.5M145.9 314.2h6M145.9 338.5h6M182.3 299.0V311.8M179.3 299.0h6M179.3 311.8h6M176.8 312.7V331.2M173.8 312.7h6M173.8 331.2h6M168.4 309.1V322.7M165.4 309.1h6M165.4 322.7h6M149.7 316.2V334.1M146.7 316.2h6M146.7 334.1h6M155.1 296.8V313.0M152.1 296.8h6M152.1 313.0h6M149.1 306.5V320.3M146.1 306.5h6M146.1 320.3h6M172.4 301.2V319.4M169.4 301.2h6M169.4 319.4h6M164.7 292.3V308.0M161.7 292.3h6M161.7 308.0h6M172.5 295.3V316.9M169.5 295.3h6M169.5 316.9h6M158.0 308.0V324.2M155.0 308.0h6M155.0 324.2h6M150.9 309.2V325.2M147.9 309.2h6M147.9 325.2h6M149.2 306.1V317.4M146.2 306.1h6M146.2 317.4h6M151.9 314.5V328.2M148.9 314.5h6M148.9 328.2h6M166.3 297.8V316.5M163.3 297.8h6M163.3 316.5h6M174.8 317.0V331.6M171.8 317.0h6M171.8 331.6h6M146.1 308.6V324.7M143.1 308.6h6M143.1 324.7h6M162.1 304.0V324.6M159.1 304.0h6M159.1 324.6h6M170.4 293.0V311.0M167.4 293.0h6M167.4 311.0h6M159.6 323.8V343.3M156.6 323.8h6M156.6 343.3h6M167.6 305.6V327.1M164.6 305.6h6M164.6 327.1h6M149.8 306.8V323.7M146.8 306.8h6M146.8 323.7h6M165.8 289.0V303.9M162.8 289.0h6M162.8 303.9h6M155.6 309.4V326.7M152.6 309.4h6M152.6 326.7h6M156.5 282.5V301.1M153.5 282.5h6M153.5 301.1h6M175.7 292.4V305.6M172.7 292.4h6M172.7 305.6h6M163.7 301.7V313.2M160.7 301.7h6M160.7 313.2h6M155.9 310.1V326.0M152.9 310.1h6M152.9 326.0h6M168.0 309.4V325.9M165.0 309.4h6M165.0 325.9h6M158.8 296.0V311.4M155.8 296.0h6M155.8 311.4h6M177.7 291.3V312.4M174.7 291.3h6M174.7 312.4h6M162.0 297.1V309.2M159.0 297.1h6M159.0 309.2h6M157.4 315.7V331.8M154.4 315.7h6M154.4 331.8h6M168.5 308.4V324.3M165.5 308.4h6M165.5 324.3h6M158.3 313.4V330.6M155.3 313.4h6M155.3 330.6h6M178.2 304.1V321.6M175.2 304.1h6M175.2 321.6h6M173.2 289.8V306.2M170.2 289.8h6M170.2 306.2h6M182.6 301.9V317.7M179.6 301.9h6M179.6 317.7h6M174.7 298.9V313.9M171.7 298.9h6M171.7 313.9h6M149.3 284.3V304.3M146.3 284.3h6M146.3 304.3h6M179.7 300.1V317.5M176.7 300.1h6M176.7 317.5h6M176.9 302.3V317.3M173.9 302.3h6M173.9 317.3h6M144.9 302.9V317.5M141.9 302.9h6M141.9 317.5h6M152.8 304.0V319.3M149.8 304.0h6M149.8 319.3h6M164.4 309.9V325.3M161.4 309.9h6M161.4 325.3h6M171.7 292.0V305.0M168.7 292.0h6M168.7 305.0h6M146.0 298.1V310.4M143.0 298.1h6M143.0 310.4h6M149.7 286.5V305.3M146.7 286.5h6M146.7 305.3h6M171.0 274.0V299.6M168.0 274.0h6M168.0 299.6h6M163.9 299.4V315.5M160.9 299.4h6M160.9 315.5h6M152.2 301.7V321.5M149.2 301.7h6M149.2 321.5h6M167.3 300.9V315.7M164.3 300.9h6M164.3 315.7h6M169.6 302.1V323.5M166.6 302.1h6M166.6 323.5h6M151.5 299.8V318.0M148.5 299.8h6M148.5 318.0h6M152.3 305.4V319.8M149.3 305.4h6M149.3 319.8h6M160.5 299.0V315.0M157.5 299.0h6M157.5 315.0h6M175.7 300.0V318.3M172.7 300.0h6M172.7 318.3h6M146.0 299.2V328.0M143.0 299.2h6M143.0 328.0h6M154.6 292.5V308.3M151.6 292.5h6M151.6 308.3h6M165.6 305.5V321.5M162.6 305.5h6M162.6 321.5h6M181.8 305.5V317.6M178.8 305.5h6M178.8 317.6h6M160.8 304.3V318.6M157.8 304.3h6M157.8 318.6h6M173.1 300.3V311.3M170.1 300.3h6M170.1 311.3h6M152.0 302.0V320.5M149.0 302.0h6M149.0 320.5h6M173.7 302.9V318.6M170.7 302.9h6M170.7 318.6h6M151.6 295.9V313.3M148.6 295.9h6M148.6 313.3h6M174.2 284.0V302.4M171.2 284.0h6M171.2 302.4h6M182.5 309.7V325.0M179.5 309.7h6M179.5 325.0h6M181.2 288.2V308.4M178.2 288.2h6M178.2 308.4h6M159.6 299.7V314.7M156.6 299.7h6M156.6 314.7h6M168.4 291.5V304.5M165.4 291.5h6M165.4 304.5h6M158.0 300.2V325.8M155.0 300.2h6M155.0 325.8h6M171.6 311.3V323.3M168.6 311.3h6M168.6 323.3h6M156.2 287.3V302.3M153.2 287.3h6M153.2 302.3h6M163.9 304.4V323.6M160.9 304.4h6M160.9 323.6h6M180.3 313.0V327.8M177.3 313.0h6M177.3 327.8h6M156.2 294.7V311.3M153.2 294.7h6M153.2 311.3h6M180.8 310.2V328.2M177.8 310.2h6M177.8 328.2h6M158.8 281.9V301.8M155.8 281.9h6M155.8 301.8h6M180.0 290.9V312.1M177.0 290.9h6M177.0 312.1h6M157.5 297.5V311.3M154.5 297.5h6M154.5 311.3h6M161.6 301.4V313.2M158.6 301.4h6M158.6 313.2h6M180.3 323.4V347.6M177.3 323.4h6M177.3 347.6h6M152.0 310.9V328.7M149.0 310.9h6M149.0 328.7h6M178.3 318.4V328.4M175.3 318.4h6M175.3 328.4h6M147.9 290.2V319.1M144.9 290.2h6M144.9 319.1h6M182.1 301.2V316.3M179.1 301.2h6M179.1 316.3h6M146.5 319.8V337.2M143.5 319.8h6M143.5 337.2h6M151.5 297.9V315.0M148.5 297.9h6M148.5 315.0h6M156.7 295.3V317.4M153.7 295.3h6M153.7 317.4h6M154.4 314.7V328.1M151.4 314.7h6M151.4 328.1h6M160.6 301.0V317.6M157.6 301.0h6M157.6 317.6h6M166.8 281.0V299.7M163.8 281.0h6M163.8 299.7h6M156.1 288.6V308.7M153.1 288.6h6M153.1 308.7h6M156.0 280.6V300.3M153.0 280.6h6M153.0 300.3h6M149.1 299.0V316.6M146.1 299.0h6M146.1 316.6h6M148.1 311.3V322.3M145.1 311.3h6M145.1 322.3h6M148.0 299.2V318.0M145.0 299.2h6M145.0 318.0h6M172.3 302.3V317.0M169.3 302.3h6M169.3 317.0h6M176.3 308.2V318.4M173.3 308.2h6M173.3 318.4h6M153.6 289.6V307.8M150.6 289.6h6M150.6 307.8h6M177.8 296.0V317.4M174.8 296.0h6M174.8 317.4h6M156.1 306.3V319.9M153.1 306.3h6M153.1 319.9h6M159.2 306.1V334.4M156.2 306.1h6M156.2 334.4h6M174.1 292.5V309.7M171.1 292.5h6M171.1 309.7h6M159.3 298.3V321.4M156.3 298.3h6M156.3 321.4h6M147.3 324.1V342.0M144.3 324.1h6M144.3 342.0h6M148.5 319.6V335.7M145.5 319.6h6M145.5 335.7h6M151.9 308.1V321.8M148.9 308.1h6M148.9 321.8h6M176.1 304.0V321.7M173.1 304.0h6M173.1 321.7h6M168.6 301.0V316.3M165.6 301.0h6M165.6 316.3h6M165.3 302.4V312.2M162.3 302.4h6M162.3 312.2h6M175.8 304.4V322.1M172.8 304.4h6M172.8 322.1h6M153.6 300.0V316.3M150.6 300.0h6M150.6 316.3h6M177.4 300.6V314.9M174.4 300.6h6M174.4 314.9h6M148.8 282.3V316.1M145.8 282.3h6M145.8 316.1h6M175.2 305.6V321.3M172.2 305.6h6M172.2 321.3h6M170.0 295.5V317.3M167.0 295.5h6M167.0 317.3h6M151.3 301.2V313.7M148.3 301.2h6M148.3 313.7h6M162.7 275.7V298.0M159.7 275.7h6M159.7 298.0h6M180.3 297.7V315.3M177.3 297.7h6M177.3 315.3h6M151.3 311.1V328.9M148.3 311.1h6M148.3 328.9h6M163.4 299.7V325.0M160.4 299.7h6M160.4 325.0h6M148.4 286.3V327.1M145.4 286.3h6M145.4 327.1h6M178.6 312.4V330.3M175.6 312.4h6M175.6 330.3h6M156.6 299.4V316.9M153.6 299.4h6M153.6 316.9h6M155.2 298.2V318.5M152.2 298.2h6M152.2 318.5h6M158.4 284.5V303.7M155.4 284.5h6M155.4 303.7h6M175.1 294.1V308.5M172.1 294.1h6M172.1 308.5h6M178.4 312.4V327.2M175.4 312.4h6M175.4 327.2h6M148.7 308.6V325.8M145.7 308.6h6M145.7 325.8h6M170.0 301.6V314.8M167.0 301.6h6M167.0 314.8h6M179.3 309.4V324.0M176.3 309.4h6M176.3 324.0h6M168.5 308.0V322.6M165.5 308.0h6M165.5 322.6h6M161.5 296.8V310.0M158.5 296.8h6M158.5 310.0h6M175.0 301.3V321.2M172.0 301.3h6M172.0 321.2h6M155.6 313.3V329.3M152.6 313.3h6M152.6 329.3h6M151.4 292.3V310.5M148.4 292.3h6M148.4 310.5h6M149.3 313.7V330.2M146.3 313.7h6M146.3 330.2h6M147.0 292.9V306.7M144.0 292.9h6M144.0 306.7h6M155.2 320.1V335.5M152.2 320.1h6M152.2 335.5h6M146.4 302.4V321.2M143.4 302.4h6M143.4 321.2h6M170.6 299.8V316.8M167.6 299.8h6M167.6 316.8h6M165.3 283.5V324.7M162.3 283.5h6M162.3 324.7h6M181.0 295.6V312.1M178.0 295.6h6M178.0 312.1h6M177.5 304.7V315.3M174.5 304.7h6M174.5 315.3h6M172.1 315.1V328.5M169.1 315.1h6M169.1 328.5h6M149.1 302.4V327.0M146.1 302.4h6M146.1 327.0h6M146.1 310.9V330.7M143.1 310.9h6M143.1 330.7h6M166.2 297.4V313.8M163.2 297.4h6M163.2 313.8h6M172.9 300.4V314.7M169.9 300.4h6M169.9 314.7h6M155.7 300.9V314.2M152.7 300.9h6M152.7 314.2h6M150.8 300.7V316.4M147.8 300.7h6M147.8 316.4h6M150.6 310.3V326.1M147.6 310.3h6M147.6 326.1h6M145.9 307.5V326.8M142.9 307.5h6M142.9 326.8h6M169.2 311.3V327.8M166.2 311.3h6M166.2 327.8h6M158.6 304.7V322.9M155.6 304.7h6M155.6 322.9h6M170.1 303.6V315.5M167.1 303.6h6M167.1 315.5h6M180.6 302.6V316.2M177.6 302.6h6M177.6 316.2h6M179.2 286.8V305.9M176.2 286.8h6M176.2 305.9h6M154.1 309.4V326.7M151.1 309.4h6M151.1 326.7h6M159.2 297.9V316.0M156.2 297.9h6M156.2 316.0h6M172.7 308.9V323.8M169.7 308.9h6M169.7 323.8h6M162.0 313.7V330.2M159.0 313.7h6M159.0 330.2h6M152.7 308.4V329.3M149.7 308.4h6M149.7 329.3h6M150.5 296.8V312.5M147.5 296.8h6M147.5 312.5h6M145.2 312.2V323.1M142.2 312.2h6M142.2 323.1h6M177.7 279.8V302.4M174.7 279.8h6M174.7 302.4h6M176.5 312.9V329.2M173.5 312.9h6M173.5 329.2h6M147.8 303.3V317.2M144.8 303.3h6M144.8 317.2h6M167.9 296.7V315.7M164.9 296.7h6M164.9 315.7h6M149.1 301.3V314.2M146.1 301.3h6M146.1 314.2h6M176.1 303.9V316.3M173.1 303.9h6M173.1 316.3h6M173.3 293.9V310.5M170.3 293.9h6M170.3 310.5h6M159.1 316.3V328.0M156.1 316.3h6M156.1 328.0h6M158.5 316.2V335.2M155.5 316.2h6M155.5 335.2h6M176.0 298.6V316.3M173.0 298.6h6M173.0 316.3h6M170.4 316.3V338.1M167.4 316.3h6M167.4 338.1h6M149.2 307.9V321.0M146.2 307.9h6M146.2 321.0h6M178.3 306.0V327.0M175.3 306.0h6M175.3 327.0h6M151.7 278.3V301.7M148.7 278.3h6M148.7 301.7h6M150.5 289.8V312.4M147.5 289.8h6M147.5 312.4h6M174.1 302.3V319.8M171.1 302.3h6M171.1 319.8h6M161.7 317.0V331.5M158.7 317.0h6M158.7 331.5h6M165.4 295.1V313.9M162.4 295.1h6M162.4 313.9h6M170.4 304.9V320.8M167.4 304.9h6M167.4 320.8h6M175.2 307.6V323.8M172.2 307.6h6M172.2 323.8h6M165.8 309.6V325.9M162.8 309.6h6M162.8 325.9h6M167.4 309.5V333.4M164.4 309.5h6M164.4 333.4h6M175.9 292.6V309.8M172.9 292.6h6M172.9 309.8h6M172.4 287.9V311.2M169.4 287.9h6M169.4 311.2h6M177.9 309.0V327.1M174.9 309.0h6M174.9 327.1h6M167.5 317.9V340.1M164.5 317.9h6M164.5 340.1h6M174.6 318.3V329.2M171.6 318.3h6M171.6 329.2h6M173.6 299.5V312.0M170.6 299.5h6M170.6 312.0h6M145.6 305.8V322.9M142.6 305.8h6M142.6 322.9h6M176.3 299.0V313.9M173.3 299.0h6M173.3 313.9h6M154.6 301.9V316.4M151.6 301.9h6M151.6 316.4h6M154.1 290.3V314.7M151.1 290.3h6M151.1 314.7h6M183.0 302.4V316.9M180.0 302.4h6M180.0 316.9h6M177.7 289.8V308.2M174.7 289.8h6M174.7 308.2h6M158.6 287.6V310.5M155.6 287.6h6M155.6 310.5h6M161.5 309.4V322.3M158.5 309.4h6M158.5 322.3h6M162.1 308.9V328.7M159.1 308.9h6M159.1 328.7h6M175.1 312.4V325.1M172.1 312.4h6M172.1 325.1h6M154.4 320.8V335.9M151.4 320.8h6M151.4 335.9h6M167.2 297.7V327.6M164.2 297.7h6M164.2 327.6h6M160.1 304.0V323.2M157.1 304.0h6M157.1 323.2h6M160.1 300.2V322.2M157.1 300.2h6M157.1 322.2h6M159.9 312.9V332.1M156.9 312.9h6M156.9 332.1h6M173.4 311.6V324.0M170.4 311.6h6M170.4 324.0h6M169.6 304.7V320.1M166.6 304.7h6M166.6 320.1h6M169.6 310.6V331.1M166.6 310.6h6M166.6 331.1h6M171.8 306.8V324.0M168.8 306.8h6M168.8 324.0h6M175.7 315.1V328.3M172.7 315.1h6M172.7 328.3h6M162.8 305.2V322.6M159.8 305.2h6M159.8 322.6h6M172.1 296.8V310.5M169.1 296.8h6M169.1 310.5h6M153.8 305.1V316.2M150.8 305.1h6M150.8 316.2h6M174.4 318.2V342.1M171.4 318.2h6M171.4 342.1h6M151.0 310.1V322.2M148.0 310.1h6M148.0 322.2h6M181.0 301.8V315.2M178.0 301.8h6M178.0 315.2h6M175.0 311.0V331.0M172.0 311.0h6M172.0 331.0h6M159.7 309.9V325.4M156.7 309.9h6M156.7 325.4h6M152.1 313.9V327.5M149.1 313.9h6M149.1 327.5h6M162.1 323.8V351.4M159.1 323.8h6M159.1 351.4h6M179.7 299.2V312.5M176.7 299.2h6M176.7 312.5h6M176.2 312.7V325.2M173.2 312.7h6M173.2 325.2h6M166.1 300.2V315.7M163.1 300.2h6M163.1 315.7h6M147.6 308.9V329.3M144.6 308.9h6M144.6 329.3h6M163.6 289.6V306.9M160.6 289.6h6M160.6 306.9h6M157.3 307.6V322.5M154.3 307.6h6M154.3 322.5h6M174.1 299.8V313.1M171.1 299.8h6M171.1 313.1h6M180.1 289.4V316.2M177.1 289.4h6M177.1 316.2h6M176.3 305.3V319.9M173.3 305.3h6M173.3 319.9h6M173.8 313.0V329.5M170.8 313.0h6M170.8 329.5h6M182.7 305.0V325.0M179.7 305.0h6M179.7 325.0h6M174.2 300.3V312.3M171.2 300.3h6M171.2 312.3h6M152.2 301.2V317.3M149.2 301.2h6M149.2 317.3h6M174.5 316.6V328.7M171.5 316.6h6M171.5 328.7h6M205.2 300.4V311.0M202.2 300.4h6M202.2 311.0h6M220.7 318.5V331.1M217.7 318.5h6M217.7 331.1h6M237.2 298.1V314.8M234.2 298.1h6M234.2 314.8h6M207.0 303.2V318.8M204.0 303.2h6M204.0 318.8h6M223.4 310.2V327.1M220.4 310.2h6M220.4 327.1h6M200.0 296.9V308.3M197.0 296.9h6M197.0 308.3h6M220.2 303.5V317.0M217.2 303.5h6M217.2 317.0h6M223.3 291.9V307.7M220.3 291.9h6M220.3 307.7h6M207.2 313.6V326.1M204.2 313.6h6M204.2 326.1h6M221.3 300.1V315.9M218.3 300.1h6M218.3 315.9h6M207.7 313.4V336.4M204.7 313.4h6M204.7 336.4h6M215.5 307.1V324.4M212.5 307.1h6M212.5 324.4h6M206.3 305.9V321.5M203.3 305.9h6M203.3 321.5h6M231.5 297.6V316.6M228.5 297.6h6M228.5 316.6h6M225.2 284.0V322.3M222.2 284.0h6M222.2 322.3h6M236.7 308.0V325.4M233.7 308.0h6M233.7 325.4h6M227.0 298.9V318.5M224.0 298.9h6M224.0 318.5h6M213.3 309.4V325.0M210.3 309.4h6M210.3 325.0h6M207.0 294.8V310.8M204.0 294.8h6M204.0 310.8h6M208.1 294.7V309.1M205.1 294.7h6M205.1 309.1h6M233.7 299.4V313.4M230.7 299.4h6M230.7 313.4h6M235.8 297.5V315.9M232.8 297.5h6M232.8 315.9h6M208.6 311.2V325.5M205.6 311.2h6M205.6 325.5h6M228.3 287.9V301.8M225.3 287.9h6M225.3 301.8h6M229.9 306.4V322.7M226.9 306.4h6M226.9 322.7h6M227.7 291.2V310.1M224.7 291.2h6M224.7 310.1h6M231.4 317.3V334.7M228.4 317.3h6M228.4 334.7h6M224.0 308.7V323.0M221.0 308.7h6M221.0 323.0h6M217.7 295.8V316.7M214.7 295.8h6M214.7 316.7h6M233.4 294.3V326.3M230.4 294.3h6M230.4 326.3h6M212.3 286.6V308.7M209.3 286.6h6M209.3 308.7h6M205.4 314.0V330.4M202.4 314.0h6M202.4 330.4h6M229.9 295.6V317.1M226.9 295.6h6M226.9 317.1h6M223.2 302.3V315.3M220.2 302.3h6M220.2 315.3h6M215.4 308.5V320.9M212.4 308.5h6M212.4 320.9h6M215.6 300.2V318.6M212.6 300.2h6M212.6 318.6h6M207.9 292.4V311.7M204.9 292.4h6M204.9 311.7h6M204.1 305.7V316.8M201.1 305.7h6M201.1 316.8h6M222.6 294.7V312.1M219.6 294.7h6M219.6 312.1h6M232.2 279.7V301.2M229.2 279.7h6M229.2 301.2h6M207.0 300.9V313.4M204.0 300.9h6M204.0 313.4h6M226.6 307.5V321.4M223.6 307.5h6M223.6 321.4h6M233.2 293.6V310.9M230.2 293.6h6M230.2 310.9h6M231.5 297.7V315.2M228.5 297.7h6M228.5 315.2h6M219.8 313.7V328.5M216.8 313.7h6M216.8 328.5h6M222.5 315.8V331.8M219.5 315.8h6M219.5 331.8h6M222.1 298.2V314.5M219.1 298.2h6M219.1 314.5h6M215.3 304.0V324.1M212.3 304.0h6M212.3 324.1h6M234.6 311.3V331.4M231.6 311.3h6M231.6 331.4h6M219.1 311.9V326.8M216.1 311.9h6M216.1 326.8h6M230.4 314.3V328.5M227.4 314.3h6M227.4 328.5h6M229.0 305.7V328.3M226.0 305.7h6M226.0 328.3h6M207.2 307.2V318.7M204.2 307.2h6M204.2 318.7h6M219.2 316.0V327.8M216.2 316.0h6M216.2 327.8h6M222.4 301.1V319.3M219.4 301.1h6M219.4 319.3h6M211.3 300.1V314.0M208.3 300.1h6M208.3 314.0h6M205.1 297.0V306.2M202.1 297.0h6M202.1 306.2h6M227.9 311.6V325.8M224.9 311.6h6M224.9 325.8h6M210.7 298.5V313.1M207.7 298.5h6M207.7 313.1h6M205.9 289.1V315.0M202.9 289.1h6M202.9 315.0h6M199.9 288.8V303.2M196.9 288.8h6M196.9 303.2h6M215.6 306.8V322.5M212.6 306.8h6M212.6 322.5h6M205.4 310.8V323.8M202.4 310.8h6M202.4 323.8h6M216.5 311.1V323.8M213.5 311.1h6M213.5 323.8h6M213.1 308.8V321.9M210.1 308.8h6M210.1 321.9h6M232.4 301.7V318.2M229.4 301.7h6M229.4 318.2h6M235.6 307.1V327.8M232.6 307.1h6M232.6 327.8h6M205.8 298.4V314.9M202.8 298.4h6M202.8 314.9h6M211.1 290.3V308.1M208.1 290.3h6M208.1 308.1h6M218.3 306.1V317.1M215.3 306.1h6M215.3 317.1h6M234.6 282.2V299.9M231.6 282.2h6M231.6 299.9h6M233.7 304.9V319.9M230.7 304.9h6M230.7 319.9h6M237.3 297.4V317.6M234.3 297.4h6M234.3 317.6h6M229.9 310.1V331.1M226.9 310.1h6M226.9 331.1h6M230.5 288.2V309.0M227.5 288.2h6M227.5 309.0h6M224.0 305.8V319.5M221.0 305.8h6M221.0 319.5h6M231.8 300.4V313.8M228.8 300.4h6M228.8 313.8h6M205.9 304.7V319.8M202.9 304.7h6M202.9 319.8h6M212.4 304.9V318.9M209.4 304.9h6M209.4 318.9h6M203.1 303.6V318.6M200.1 303.6h6M200.1 318.6h6M229.2 316.8V335.9M226.2 316.8h6M226.2 335.9h6M231.0 303.9V319.6M228.0 303.9h6M228.0 319.6h6M214.7 294.7V314.2M211.7 294.7h6M211.7 314.2h6M224.4 303.5V321.3M221.4 303.5h6M221.4 321.3h6M207.8 300.8V314.9M204.8 300.8h6M204.8 314.9h6M207.1 288.9V310.1M204.1 288.9h6M204.1 310.1h6M209.1 304.8V324.4M206.1 304.8h6M206.1 324.4h6M228.1 307.7V323.2M225.1 307.7h6M225.1 323.2h6M227.4 308.8V327.4M224.4 308.8h6M224.4 327.4h6M211.5 312.1V330.6M208.5 312.1h6M208.5 330.6h6M220.3 301.9V322.4M217.3 301.9h6M217.3 322.4h6M202.4 295.9V312.9M199.4 295.9h6M199.4 312.9h6M206.9 302.8V318.2M203.9 302.8h6M203.9 318.2h6M201.3 292.3V314.0M198.3 292.3h6M198.3 314.0h6M204.8 302.3V319.6M201.8 302.3h6M201.8 319.6h6M205.0 303.8V328.1M202.0 303.8h6M202.0 328.1h6M212.5 314.5V326.1M209.5 314.5h6M209.5 326.1h6M209.9 313.5V329.3M206.9 313.5h6M206.9 329.3h6M214.2 307.0V321.1M211.2 307.0h6M211.2 321.1h6M220.8 284.2V312.7M217.8 284.2h6M217.8 312.7h6M215.1 299.4V317.3M212.1 299.4h6M212.1 317.3h6M224.5 288.6V318.1M221.5 288.6h6M221.5 318.1h6M218.6 300.9V321.1M215.6 300.9h6M215.6 321.1h6M222.1 309.3V320.0M219.1 309.3h6M219.1 320.0h6M227.2 301.7V317.4M224.2 301.7h6M224.2 317.4h6M217.8 304.8V323.0M214.8 304.8h6M214.8 323.0h6M234.1 289.4V306.5M231.1 289.4h6M231.1 306.5h6M232.6 302.4V322.6M229.6 302.4h6M229.6 322.6h6M211.2 314.4V330.6M208.2 314.4h6M208.2 330.6h6M211.1 301.5V316.0M208.1 301.5h6M208.1 316.0h6M212.8 289.3V302.4M209.8 289.3h6M209.8 302.4h6M225.3 297.5V317.2M222.3 297.5h6M222.3 317.2h6M220.7 294.8V315.5M217.7 294.8h6M217.7 315.5h6M223.7 303.6V319.9M220.7 303.6h6M220.7 319.9h6M221.1 300.1V311.4M218.1 300.1h6M218.1 311.4h6M203.8 287.2V301.4M200.8 287.2h6M200.8 301.4h6M231.8 318.4V333.8M228.8 318.4h6M228.8 333.8h6M234.2 297.9V331.1M231.2 297.9h6M231.2 331.1h6M204.4 294.9V313.5M201.4 294.9h6M201.4 313.5h6M207.8 307.6V320.8M204.8 307.6h6M204.8 320.8h6M210.4 305.4V316.6M207.4 305.4h6M207.4 316.6h6M230.5 298.8V316.6M227.5 298.8h6M227.5 316.6h6M213.5 304.4V317.5M210.5 304.4h6M210.5 317.5h6M231.3 317.7V336.4M228.3 317.7h6M228.3 336.4h6M216.9 292.0V305.9M213.9 292.0h6M213.9 305.9h6M213.8 299.2V307.4M210.8 299.2h6M210.8 307.4h6M225.3 299.2V319.2M222.3 299.2h6M222.3 319.2h6M200.7 311.9V326.8M197.7 311.9h6M197.7 326.8h6M222.4 293.1V310.3M219.4 293.1h6M219.4 310.3h6M205.3 302.3V319.0M202.3 302.3h6M202.3 319.0h6M225.4 309.7V323.8M222.4 309.7h6M222.4 323.8h6M225.0 304.1V320.5M222.0 304.1h6M222.0 320.5h6M236.1 302.6V318.7M233.1 302.6h6M233.1 318.7h6M227.0 310.2V322.2M224.0 310.2h6M224.0 322.2h6M234.7 301.3V319.0M231.7 301.3h6M231.7 319.0h6M227.0 315.2V338.1M224.0 315.2h6M224.0 338.1h6M236.9 308.6V322.6M233.9 308.6h6M233.9 322.6h6M209.5 292.0V310.9M206.5 292.0h6M206.5 310.9h6M216.6 304.4V316.4M213.6 304.4h6M213.6 316.4h6M209.5 303.2V323.4M206.5 303.2h6M206.5 323.4h6M230.4 297.8V321.1M227.4 297.8h6M227.4 321.1h6M201.6 302.7V314.0M198.6 302.7h6M198.6 314.0h6M222.2 302.1V333.5M219.2 302.1h6M219.2 333.5h6M217.1 280.2V302.1M214.1 280.2h6M214.1 302.1h6M200.8 291.1V306.7M197.8 291.1h6M197.8 306.7h6M210.2 298.4V316.0M207.2 298.4h6M207.2 316.0h6M230.8 302.0V320.9M227.8 302.0h6M227.8 320.9h6M213.0 305.8V324.8M210.0 305.8h6M210.0 324.8h6M237.5 311.8V324.3M234.5 311.8h6M234.5 324.3h6M205.9 315.1V329.9M202.9 315.1h6M202.9 329.9h6M200.3 306.2V321.0M197.3 306.2h6M197.3 321.0h6M219.4 305.4V324.4M216.4 305.4h6M216.4 324.4h6M220.0 295.2V313.5M217.0 295.2h6M217.0 313.5h6M224.8 293.4V324.8M221.8 293.4h6M221.8 324.8h6M203.8 304.3V317.5M200.8 304.3h6M200.8 317.5h6M232.9 305.6V324.3M229.9 305.6h6M229.9 324.3h6M226.9 316.1V333.8M223.9 316.1h6M223.9 333.8h6M233.0 309.2V325.0M230.0 309.2h6M230.0 325.0h6M231.3 308.3V331.4M228.3 308.3h6M228.3 331.4h6M234.6 300.0V319.2M231.6 300.0h6M231.6 319.2h6M236.3 300.7V319.2M233.3 300.7h6M233.3 319.2h6M216.0 308.7V317.6M213.0 308.7h6M213.0 317.6h6M221.5 310.0V334.1M218.5 310.0h6M218.5 334.1h6M203.3 307.7V322.3M200.3 307.7h6M200.3 322.3h6M218.8 302.0V318.4M215.8 302.0h6M215.8 318.4h6M226.4 290.5V313.2M223.4 290.5h6M223.4 313.2h6M235.8 296.8V318.3M232.8 296.8h6M232.8 318.3h6M230.2 294.5V312.5M227.2 294.5h6M227.2 312.5h6M205.2 311.2V320.5M202.2 311.2h6M202.2 320.5h6M205.5 318.0V332.9M202.5 318.0h6M202.5 332.9h6M208.0 298.3V309.9M205.0 298.3h6M205.0 309.9h6M236.5 294.2V312.8M233.5 294.2h6M233.5 312.8h6M229.8 301.3V313.0M226.8 301.3h6M226.8 313.0h6M206.0 294.1V310.5M203.0 294.1h6M203.0 310.5h6M225.7 304.2V319.0M222.7 304.2h6M222.7 319.0h6M216.2 314.1V332.4M213.2 314.1h6M213.2 332.4h6M221.0 294.7V314.4M218.0 294.7h6M218.0 314.4h6M217.7 304.3V316.4M214.7 304.3h6M214.7 316.4h6M228.8 313.0V329.2M225.8 313.0h6M225.8 329.2h6M236.4 286.5V305.5M233.4 286.5h6M233.4 305.5h6M218.4 301.8V317.9M215.4 301.8h6M215.4 317.9h6M221.8 292.2V306.0M218.8 292.2h6M218.8 306.0h6M230.8 293.7V310.5M227.8 293.7h6M227.8 310.5h6M207.5 299.6V318.2M204.5 299.6h6M204.5 318.2h6M221.9 305.7V326.9M218.9 305.7h6M218.9 326.9h6M227.4 303.6V322.6M224.4 303.6h6M224.4 322.6h6M229.4 309.9V329.9M226.4 309.9h6M226.4 329.9h6M208.3 298.5V315.9M205.3 298.5h6M205.3 315.9h6M224.9 308.4V326.5M221.9 308.4h6M221.9 326.5h6M219.5 314.5V328.8M216.5 314.5h6M216.5 328.8h6M220.5 285.7V307.6M217.5 285.7h6M217.5 307.6h6M201.9 281.0V301.8M198.9 281.0h6M198.9 301.8h6M215.2 311.9V328.1M212.2 311.9h6M212.2 328.1h6M217.6 292.0V316.1M214.6 292.0h6M214.6 316.1h6M226.7 311.5V331.8M223.7 311.5h6M223.7 331.8h6M217.1 305.1V316.2M214.1 305.1h6M214.1 316.2h6M224.3 297.6V317.7M221.3 297.6h6M221.3 317.7h6M202.3 299.4V313.6M199.3 299.4h6M199.3 313.6h6M222.1 299.9V322.9M219.1 299.9h6M219.1 322.9h6M208.4 309.6V328.4M205.4 309.6h6M205.4 328.4h6M200.6 309.9V322.4M197.6 309.9h6M197.6 322.4h6M231.4 297.3V323.8M228.4 297.3h6M228.4 323.8h6M204.0 300.2V311.4M201.0 300.2h6M201.0 311.4h6M205.8 307.3V322.2M202.8 307.3h6M202.8 322.2h6M234.0 305.3V320.4M231.0 305.3h6M231.0 320.4h6M221.5 292.0V309.5M218.5 292.0h6M218.5 309.5h6M210.8 305.3V321.6M207.8 305.3h6M207.8 321.6h6M210.7 306.6V323.7M207.7 306.6h6M207.7 323.7h6M203.9 305.7V318.9M200.9 305.7h6M200.9 318.9h6M222.6 284.4V302.5M219.6 284.4h6M219.6 302.5h6M202.7 308.0V320.9M199.7 308.0h6M199.7 320.9h6M204.1 289.2V318.7M201.1 289.2h6M201.1 318.7h6M228.1 307.5V324.7M225.1 307.5h6M225.1 324.7h6M223.3 316.2V330.1M220.3 316.2h6M220.3 330.1h6M206.8 291.3V305.9M203.8 291.3h6M203.8 305.9h6M220.5 304.7V318.1M217.5 304.7h6M217.5 318.1h6M220.4 299.3V314.6M217.4 299.3h6M217.4 314.6h6M216.4 305.8V327.2M213.4 305.8h6M213.4 327.2h6M208.0 305.2V317.2M205.0 305.2h6M205.0 317.2h6M216.5 313.1V330.0M213.5 313.1h6M213.5 330.0h6M226.0 304.9V317.6M223.0 304.9h6M223.0 317.6h6M230.5 301.6V316.3M227.5 301.6h6M227.5 316.3h6M224.8 302.6V319.8M221.8 302.6h6M221.8 319.8h6M219.5 301.8V313.4M216.5 301.8h6M216.5 313.4h6M209.3 299.9V314.8M206.3 299.9h6M206.3 314.8h6M235.9 307.3V325.8M232.9 307.3h6M232.9 325.8h6M222.5 318.5V337.4M219.5 318.5h6M219.5 337.4h6M218.5 282.8V299.5M215.5 282.8h6M215.5 299.5h6M202.1 310.6V327.0M199.1 310.6h6M199.1 327.0h6M213.0 297.5V312.2M210.0 297.5h6M210.0 312.2h6M231.4 298.9V314.1M228.4 298.9h6M228.4 314.1h6M236.2 284.3V303.2M233.2 284.3h6M233.2 303.2h6M212.8 303.5V316.3M209.8 303.5h6M209.8 316.3h6M215.8 291.4V306.8M212.8 291.4h6M212.8 306.8h6M202.9 296.2V309.0M199.9 296.2h6M199.9 309.0h6M206.4 302.2V316.7M203.4 302.2h6M203.4 316.7h6M216.8 306.6V322.2M213.8 306.6h6M213.8 322.2h6M212.6 306.8V319.5M209.6 306.8h6M209.6 319.5h6M236.9 298.3V315.4M233.9 298.3h6M233.9 315.4h6M232.3 294.9V314.9M229.3 294.9h6M229.3 314.9h6M205.8 314.2V325.9M202.8 314.2h6M202.8 325.9h6M215.4 296.1V312.8M212.4 296.1h6M212.4 312.8h6M204.7 303.1V319.5M201.7 303.1h6M201.7 319.5h6M206.5 308.6V323.5M203.5 308.6h6M203.5 323.5h6M223.5 303.0V315.0M220.5 303.0h6M220.5 315.0h6M229.2 308.7V328.5M226.2 308.7h6M226.2 328.5h6M228.6 294.5V310.6M225.6 294.5h6M225.6 310.6h6M226.1 297.9V309.3M223.1 297.9h6M223.1 309.3h6M217.5 299.1V316.5M214.5 299.1h6M214.5 316.5h6M206.0 301.3V313.8M203.0 301.3h6M203.0 313.8h6M226.9 302.4V314.1M223.9 302.4h6M223.9 314.1h6M228.3 297.2V312.9M225.3 297.2h6M225.3 312.9h6M200.1 295.5V306.7M197.1 295.5h6M197.1 306.7h6M221.4 294.5V311.9M218.4 294.5h6M218.4 311.9h6M223.6 291.9V308.8M220.6 291.9h6M220.6 308.8h6M207.0 320.4V339.7M204.0 320.4h6M204.0 339.7h6M205.5 301.0V317.0M202.5 301.0h6M202.5 317.0h6M222.8 306.8V328.7M219.8 306.8h6M219.8 328.7h6M232.8 291.7V334.7M229.8 291.7h6M229.8 334.7h6M220.6 311.0V329.2M217.6 311.0h6M217.6 329.2h6M226.8 292.1V315.9M223.8 292.1h6M223.8 315.9h6M228.0 298.7V317.5M225.0 298.7h6M225.0 317.5h6M218.8 305.3V320.5M215.8 305.3h6M215.8 320.5h6M214.8 307.8V322.2M211.8 307.8h6M211.8 322.2h6M202.3 303.6V314.7M199.3 303.6h6M199.3 314.7h6M216.2 302.3V316.7M213.2 302.3h6M213.2 316.7h6M215.4 296.6V311.6M212.4 296.6h6M212.4 311.6h6M236.3 291.5V306.2M233.3 291.5h6M233.3 306.2h6M214.3 308.8V324.2M211.3 308.8h6M211.3 324.2h6M222.4 296.1V320.6M219.4 296.1h6M219.4 320.6h6M236.6 313.2V341.2M233.6 313.2h6M233.6 341.2h6M228.0 310.8V326.5M225.0 310.8h6M225.0 326.5h6M211.9 300.7V314.8M208.9 300.7h6M208.9 314.8h6M202.1 296.4V309.2M199.1 296.4h6M199.1 309.2h6M216.4 303.6V320.2M213.4 303.6h6M213.4 320.2h6M207.5 306.8V317.2M204.5 306.8h6M204.5 317.2h6M212.6 307.0V324.9M209.6 307.0h6M209.6 324.9h6M228.7 287.4V310.6M225.7 287.4h6M225.7 310.6h6M206.0 289.0V307.8M203.0 289.0h6M203.0 307.8h6M199.7 300.1V315.6M196.7 300.1h6M196.7 315.6h6M225.7 295.0V314.3M222.7 295.0h6M222.7 314.3h6M209.9 300.2V317.0M206.9 300.2h6M206.9 317.0h6M219.5 298.4V314.8M216.5 298.4h6M216.5 314.8h6M222.4 297.9V310.7M219.4 297.9h6M219.4 310.7h6M221.9 302.8V333.4M218.9 302.8h6M218.9 333.4h6M216.1 305.2V321.1M213.1 305.2h6M213.1 321.1h6M226.1 293.0V310.5M223.1 293.0h6M223.1 310.5h6M203.7 293.7V313.5M200.7 293.7h6M200.7 313.5h6M203.3 301.2V318.1M200.3 301.2h6M200.3 318.1h6M218.5 292.6V310.1M215.5 292.6h6M215.5 310.1h6M212.3 298.7V317.1M209.3 298.7h6M209.3 317.1h6M215.1 299.0V313.5M212.1 299.0h6M212.1 313.5h6M235.2 291.8V312.1M232.2 291.8h6M232.2 312.1h6M216.8 287.9V306.6M213.8 287.9h6M213.8 306.6h6M207.4 307.8V318.6M204.4 307.8h6M204.4 318.6h6M227.7 291.5V307.8M224.7 291.5h6M224.7 307.8h6M223.0 303.2V313.6M220.0 303.2h6M220.0 313.6h6M199.9 306.3V319.6M196.9 306.3h6M196.9 319.6h6M228.6 297.1V312.3M225.6 297.1h6M225.6 312.3h6M202.4 299.3V312.3M199.4 299.3h6M199.4 312.3h6M217.0 298.1V315.1M214.0 298.1h6M214.0 315.1h6M227.6 294.8V314.2M224.6 294.8h6M224.6 314.2h6M226.1 303.7V318.5M223.1 303.7h6M223.1 318.5h6M221.1 314.3V329.9M218.1 314.3h6M218.1 329.9h6M201.2 296.4V312.7M198.2 296.4h6M198.2 312.7h6M215.0 305.7V320.7M212.0 305.7h6M212.0 320.7h6M225.3 304.2V317.8M222.3 304.2h6M222.3 317.8h6M218.2 301.1V316.5M215.2 301.1h6M215.2 316.5h6M233.9 296.4V318.2M230.9 296.4h6M230.9 318.2h6M220.7 314.3V339.0M217.7 314.3h6M217.7 339.0h6M207.0 300.2V311.7M204.0 300.2h6M204.0 311.7h6M215.3 312.6V330.6M212.3 312.6h6M212.3 330.6h6M227.3 308.9V323.7M224.3 308.9h6M224.3 323.7h6M217.7 316.2V333.9M214.7 316.2h6M214.7 333.9h6M228.9 295.5V313.3M225.9 295.5h6M225.9 313.3h6M235.1 305.9V321.7M232.1 305.9h6M232.1 321.7h6M222.2 300.9V319.7M219.2 300.9h6M219.2 319.7h6M213.2 293.3V308.1M210.2 293.3h6M210.2 308.1h6M235.6 292.9V317.9M232.6 292.9h6M232.6 317.9h6M209.4 308.2V323.0M206.4 308.2h6M206.4 323.0h6M215.0 309.2V324.7M212.0 309.2h6M212.0 324.7h6M221.1 306.0V317.6M218.1 306.0h6M218.1 317.6h6M223.4 314.6V329.0M220.4 314.6h6M220.4 329.0h6M215.0 298.2V316.3M212.0 298.2h6M212.0 316.3h6M227.9 317.5V333.4M224.9 317.5h6M224.9 333.4h6M216.8 308.6V324.5M213.8 308.6h6M213.8 324.5h6M234.5 303.1V326.6M231.5 303.1h6M231.5 326.6h6M208.1 294.7V311.0M205.1 294.7h6M205.1 311.0h6M218.1 323.7V343.1M215.1 323.7h6M215.1 343.1h6M213.7 305.8V326.4M210.7 305.8h6M210.7 326.4h6M225.8 306.5V324.5M222.8 306.5h6M222.8 324.5h6M222.2 288.3V303.7M219.2 288.3h6M219.2 303.7h6M212.8 309.5V325.8M209.8 309.5h6M209.8 325.8h6M204.7 286.1V302.3M201.7 286.1h6M201.7 302.3h6M223.8 291.5V305.4M220.8 291.5h6M220.8 305.4h6M219.0 301.6V313.2M216.0 301.6h6M216.0 313.2h6M221.0 310.1V326.4M218.0 310.1h6M218.0 326.4h6M223.3 309.3V326.5M220.3 309.3h6M220.3 326.5h6M216.6 296.3V311.4M213.6 296.3h6M213.6 311.4h6M201.0 294.5V312.1M198.0 294.5h6M198.0 312.1h6M200.5 299.4V309.4M197.5 299.4h6M197.5 309.4h6M229.8 316.2V334.0M226.8 316.2h6M226.8 334.0h6M214.1 308.5V323.7M211.1 308.5h6M211.1 323.7h6M201.1 312.9V327.3M198.1 312.9h6M198.1 327.3h6M233.9 303.2V323.1M230.9 303.2h6M230.9 323.1h6M234.4 286.8V305.6M231.4 286.8h6M231.4 305.6h6M233.4 300.8V318.7M230.4 300.8h6M230.4 318.7h6M207.5 300.1V313.5M204.5 300.1h6M204.5 313.5h6M227.3 282.2V303.8M224.3 282.2h6M224.3 303.8h6M229.8 299.0V318.2M226.8 299.0h6M226.8 318.2h6M223.6 301.9V317.6M220.6 301.9h6M220.6 317.6h6M219.9 302.8V317.6M216.9 302.8h6M216.9 317.6h6M224.4 303.7V319.8M221.4 303.7h6M221.4 319.8h6M215.9 309.9V325.0M212.9 309.9h6M212.9 325.0h6M211.3 293.2V305.4M208.3 293.2h6M208.3 305.4h6M233.0 296.5V310.4M230.0 296.5h6M230.0 310.4h6M220.1 286.2V305.2M217.1 286.2h6M217.1 305.2h6M233.9 268.8V298.1M230.9 268.8h6M230.9 298.1h6M209.2 300.3V315.1M206.2 300.3h6M206.2 315.1h6M233.7 300.4V323.0M230.7 300.4h6M230.7 323.0h6M224.2 300.4V316.0M221.2 300.4h6M221.2 316.0h6M222.6 301.8V324.0M219.6 301.8h6M219.6 324.0h6M206.2 301.0V317.1M203.2 301.0h6M203.2 317.1h6M201.2 306.2V318.3M198.2 306.2h6M198.2 318.3h6M224.4 298.4V315.3M221.4 298.4h6M221.4 315.3h6M222.1 299.6V318.5M219.1 299.6h6M219.1 318.5h6M215.9 299.5V327.6M212.9 299.5h6M212.9 327.6h6M230.0 290.6V308.1M227.0 290.6h6M227.0 308.1h6M215.7 305.6V321.2M212.7 305.6h6M212.7 321.2h6M202.6 306.2V316.6M199.6 306.2h6M199.6 316.6h6M201.8 305.2V317.3M198.8 305.2h6M198.8 317.3h6M202.1 301.8V311.2M199.1 301.8h6M199.1 311.2h6M224.9 301.5V321.1M221.9 301.5h6M221.9 321.1h6M218.8 302.9V318.6M215.8 302.9h6M215.8 318.6h6M216.4 296.2V313.2M213.4 296.2h6M213.4 313.2h6M223.3 282.9V302.0M220.3 282.9h6M220.3 302.0h6M218.6 309.7V325.0M215.6 309.7h6M215.6 325.0h6M221.0 287.7V308.4M218.0 287.7h6M218.0 308.4h6M202.2 301.3V314.1M199.2 301.3h6M199.2 314.1h6M213.2 292.5V304.8M210.2 292.5h6M210.2 304.8h6M204.5 301.6V323.8M201.5 301.6h6M201.5 323.8h6M215.6 311.3V323.0M212.6 311.3h6M212.6 323.0h6M211.7 288.8V302.8M208.7 288.8h6M208.7 302.8h6M221.1 304.2V323.9M218.1 304.2h6M218.1 323.9h6M231.7 313.3V329.9M228.7 313.3h6M228.7 329.9h6M202.3 297.1V311.2M199.3 297.1h6M199.3 311.2h6M211.4 310.2V327.1M208.4 310.2h6M208.4 327.1h6M223.5 280.6V301.4M220.5 280.6h6M220.5 301.4h6M212.8 292.0V312.0M209.8 292.0h6M209.8 312.0h6M217.1 297.6V311.3M214.1 297.6h6M214.1 311.3h6M224.7 300.9V313.3M221.7 300.9h6M221.7 313.3h6M219.0 323.5V347.7M216.0 323.5h6M216.0 347.7h6M212.1 310.9V327.6M209.1 310.9h6M209.1 327.6h6M209.8 317.7V326.9M206.8 317.7h6M206.8 326.9h6M215.7 290.8V318.9M212.7 290.8h6M212.7 318.9h6M221.4 300.9V316.4M218.4 300.9h6M218.4 316.4h6M211.4 319.2V335.5M208.4 319.2h6M208.4 335.5h6M237.6 295.6V315.8M234.6 295.6h6M234.6 315.8h6M236.7 292.8V318.6M233.7 292.8h6M233.7 318.6h6M211.7 314.4V327.0M208.7 314.4h6M208.7 327.0h6M236.5 299.4V318.8M233.5 299.4h6M233.5 318.8h6M211.2 283.0V300.4M208.2 283.0h6M208.2 300.4h6M209.8 290.3V308.8M206.8 290.3h6M206.8 308.8h6M216.2 281.3V300.5M213.2 281.3h6M213.2 300.5h6M215.3 299.3V316.4M212.3 299.3h6M212.3 316.4h6M211.9 311.3V321.5M208.9 311.3h6M208.9 321.5h6M234.8 297.5V319.2M231.8 297.5h6M231.8 319.2h6M202.2 303.6V316.0M199.2 303.6h6M199.2 316.0h6M215.4 308.3V318.2M212.4 308.3h6M212.4 318.2h6M233.7 286.7V307.4M230.7 286.7h6M230.7 307.4h6M234.5 293.9V318.4M231.5 293.9h6M231.5 318.4h6M229.4 305.9V320.8M226.4 305.9h6M226.4 320.8h6M219.1 306.2V334.5M216.1 306.2h6M216.1 334.5h6M212.1 293.6V309.8M209.1 293.6h6M209.1 309.8h6M224.8 297.6V322.0M221.8 297.6h6M221.8 322.0h6M202.4 322.1V337.3M199.4 322.1h6M199.4 337.3h6M231.8 320.8V338.8M228.8 320.8h6M228.8 338.8h6M204.7 308.4V320.3M201.7 308.4h6M201.7 320.3h6M224.2 303.7V322.3M221.2 303.7h6M221.2 322.3h6M220.1 300.8V316.4M217.1 300.8h6M217.1 316.4h6M206.4 303.3V312.0M203.4 303.3h6M203.4 312.0h6M225.1 304.1V322.8M222.1 304.1h6M222.1 322.8h6M235.6 298.3V317.2M232.6 298.3h6M232.6 317.2h6M219.8 300.5V314.9M216.8 300.5h6M216.8 314.9h6M208.8 283.3V317.2M205.8 283.3h6M205.8 317.2h6M223.2 305.3V321.8M220.2 305.3h6M220.2 321.8h6M216.2 295.8V317.2M213.2 295.8h6M213.2 317.2h6M222.0 300.9V313.8M219.0 300.9h6M219.0 313.8h6M224.1 274.0V297.4M221.1 274.0h6M221.1 297.4h6M219.8 297.6V315.3M216.8 297.6h6M216.8 315.3h6M205.0 311.1V326.6M202.0 311.1h6M202.0 326.6h6M234.5 298.1V327.1M231.5 298.1h6M231.5 327.1h6M217.9 286.4V327.1M214.9 286.4h6M214.9 327.1h6M220.6 312.4V330.7M217.6 312.4h6M217.6 330.7h6M215.1 299.7V316.7M212.1 299.7h6M212.1 316.7h6M207.2 299.5V317.7M204.2 299.5h6M204.2 317.7h6M208.6 286.9V304.3M205.6 286.9h6M205.6 304.3h6M206.2 296.0V308.7M203.2 296.0h6M203.2 308.7h6M217.5 312.4V327.0M214.5 312.4h6M214.5 327.0h6M215.7 308.7V325.4M212.7 308.7h6M212.7 325.4h6M226.8 300.9V315.2M223.8 300.9h6M223.8 315.2h6M234.9 309.2V326.0M231.9 309.2h6M231.9 326.0h6M231.6 307.8V324.0M228.6 307.8h6M228.6 324.0h6M227.1 295.7V310.0M224.1 295.7h6M224.1 310.0h6M235.1 299.9V322.9M232.1 299.9h6M232.1 322.9h6M229.6 313.5V331.2M226.6 313.5h6M226.6 331.2h6M210.2 293.7V310.5M207.2 293.7h6M207.2 310.5h6M210.8 313.5V328.8M207.8 313.5h6M207.8 328.8h6M204.1 295.3V307.2M201.1 295.3h6M201.1 307.2h6M206.6 319.1V332.8M203.6 319.1h6M203.6 332.8h6M222.0 302.2V321.6M219.0 302.2h6M219.0 321.6h6M236.3 298.0V317.8M233.3 298.0h6M233.3 317.8h6M228.0 282.9V324.1M225.0 282.9h6M225.0 324.1h6M209.6 296.8V312.0M206.6 296.8h6M206.6 312.0h6M222.6 304.5V315.5M219.6 304.5h6M219.6 315.5h6M227.6 315.5V330.0M224.6 315.5h6M224.6 330.0h6M223.7 302.1V327.8M220.7 302.1h6M220.7 327.8h6M236.4 311.0V334.0M233.4 311.0h6M233.4 334.0h6M223.2 296.8V313.9M220.2 296.8h6M220.2 313.9h6M221.3 300.2V314.8M218.3 300.2h6M218.3 314.8h6M215.7 301.2V314.1M212.7 301.2h6M212.7 314.1h6M209.0 301.6V315.9M206.0 301.6h6M206.0 315.9h6M202.0 310.3V323.8M199.0 310.3h6M199.0 323.8h6M214.6 307.6V326.2M211.6 307.6h6M211.6 326.2h6M213.7 311.3V327.0M210.7 311.3h6M210.7 327.0h6M223.6 304.5V323.5M220.6 304.5h6M220.6 323.5h6M229.4 303.0V316.0M226.4 303.0h6M226.4 316.0h6M210.4 303.2V315.8M207.4 303.2h6M207.4 315.8h6M231.0 284.1V305.3M228.0 284.1h6M228.0 305.3h6M237.0 309.3V329.4M234.0 309.3h6M234.0 329.4h6M225.0 297.1V316.3M222.0 297.1h6M222.0 316.3h6M201.0 309.2V321.6M198.0 309.2h6M198.0 321.6h6M233.5 314.1V332.9M230.5 314.1h6M230.5 332.9h6M210.1 308.6V327.8M207.1 308.6h6M207.1 327.8h6M229.9 295.4V312.7M226.9 295.4h6M226.9 312.7h6M223.3 312.2V323.7M220.3 312.2h6M220.3 323.7h6M219.3 279.6V302.3M216.3 279.6h6M216.3 302.3h6M217.5 312.8V329.0M214.5 312.8h6M214.5 329.0h6M208.0 304.0V316.6M205.0 304.0h6M205.0 316.6h6M217.8 296.8V315.7M214.8 296.8h6M214.8 315.7h6M208.9 302.1V313.9M205.9 302.1h6M205.9 313.9h6M222.3 303.7V316.5M219.3 303.7h6M219.3 316.5h6M214.1 294.6V310.5M211.1 294.6h6M211.1 310.5h6M222.4 316.5V328.6M219.4 316.5h6M219.4 328.6h6M228.3 316.7V337.4M225.3 316.7h6M225.3 337.4h6M219.2 298.5V316.3M216.2 298.5h6M216.2 316.3h6M217.6 316.3V337.8M214.6 316.3h6M214.6 337.8h6M207.1 308.2V319.9M204.1 308.2h6M204.1 319.9h6M230.3 305.5V328.8M227.3 305.5h6M227.3 328.8h6M230.6 274.7V300.7M227.6 274.7h6M227.6 300.7h6M208.0 291.8V312.2M205.0 291.8h6M205.0 312.2h6M221.9 302.0V320.1M218.9 302.0h6M218.9 320.1h6M230.1 317.6V333.7M227.1 317.6h6M227.1 333.7h6M226.8 293.9V314.2M223.8 293.9h6M223.8 314.2h6M232.0 304.1V322.0M229.0 304.1h6M229.0 322.0h6M222.1 307.5V324.2M219.1 307.5h6M219.1 324.2h6M228.7 309.5V327.3M225.7 309.5h6M225.7 327.3h6M227.8 309.4V335.4M224.8 309.4h6M224.8 335.4h6M201.3 295.5V309.9M198.3 295.5h6M198.3 309.9h6M230.4 285.4V311.2M227.4 285.4h6M227.4 311.2h6M210.2 309.1V325.8M207.2 309.1h6M207.2 325.8h6M209.6 317.3V337.6M206.6 317.3h6M206.6 337.6h6M237.6 319.6V332.5M234.6 319.6h6M234.6 332.5h6M231.8 298.1V312.2M228.8 298.1h6M228.8 312.2h6M213.9 306.0V322.3M210.9 306.0h6M210.9 322.3h6M216.5 299.3V313.8M213.5 299.3h6M213.5 313.8h6M217.0 302.1V316.3M214.0 302.1h6M214.0 316.3h6M229.2 288.3V315.1M226.2 288.3h6M226.2 315.1h6M209.8 303.0V316.4M206.8 303.0h6M206.8 316.4h6M221.6 289.2V308.2M218.6 289.2h6M218.6 308.2h6M215.2 288.4V310.5M212.2 288.4h6M212.2 310.5h6M215.2 309.4V321.9M212.2 309.4h6M212.2 321.9h6M215.1 308.9V328.1M212.1 308.9h6M212.1 328.1h6M227.7 312.6V326.3M224.7 312.6h6M224.7 326.3h6M224.0 321.3V337.2M221.0 321.3h6M221.0 337.2h6M224.1 297.1V328.5M221.1 297.1h6M221.1 328.5h6M226.2 303.5V324.1M223.2 303.5h6M223.2 324.1h6M229.8 299.1V323.4M226.8 299.1h6M226.8 323.4h6M217.8 312.9V331.9M214.8 312.9h6M214.8 331.9h6M226.5 311.7V325.0M223.5 311.7h6M223.5 325.0h6M209.5 305.2V319.3M206.5 305.2h6M206.5 319.3h6M228.8 310.6V333.1M225.8 310.6h6M225.8 333.1h6M206.7 307.2V322.5M203.7 307.2h6M203.7 322.5h6M235.3 315.8V331.1M232.3 315.8h6M232.3 331.1h6M229.3 304.6V323.8M226.3 304.6h6M226.3 323.8h6M214.8 297.2V310.5M211.8 297.2h6M211.8 310.5h6M207.8 305.7V315.7M204.8 305.7h6M204.8 315.7h6M217.0 318.1V341.7M214.0 318.1h6M214.0 341.7h6M233.6 310.0V323.8M230.6 310.0h6M230.6 323.8h6M230.4 300.8V315.7M227.4 300.8h6M227.4 315.7h6M220.8 311.0V331.4M217.8 311.0h6M217.8 331.4h6M203.4 310.0V323.4M200.4 310.0h6M200.4 323.4h6M218.5 313.9V327.5M215.5 313.9h6M215.5 327.5h6M212.6 323.0V349.1M209.6 323.0h6M209.6 349.1h6M228.3 298.1V312.7M225.3 298.1h6M225.3 312.7h6M234.4 313.0V327.3M231.4 313.0h6M231.4 327.3h6M230.5 299.1V316.3M227.5 299.1h6M227.5 316.3h6M228.1 308.8V331.0M225.1 308.8h6M225.1 331.0h6M237.0 286.1V306.2M234.0 286.1h6M234.0 306.2h6M228.5 307.3V323.6M225.5 307.3h6M225.5 323.6h6M254.4 300.8V313.6M251.4 300.8h6M251.4 313.6h6M254.9 325.6V353.0M251.9 325.6h6M251.9 353.0h6M254.9 315.3V328.2M251.9 315.3h6M251.9 328.2h6M255.8 294.8V309.7M252.8 294.8h6M252.8 309.7h6M256.8 299.6V312.8M253.8 299.6h6M253.8 312.8h6M257.6 306.5V321.3M254.6 306.5h6M254.6 321.3h6M254.9 289.6V312.0M251.9 289.6h6M251.9 312.0h6M256.5 305.5V317.5M253.5 305.5h6M253.5 317.5h6M255.4 303.7V318.9M252.4 303.7h6M252.4 318.9h6M257.5 315.3V330.6M254.5 315.3h6M254.5 330.6h6M256.8 298.7V312.1M253.8 298.7h6M253.8 312.1h6M255.2 310.0V325.9M252.2 310.0h6M252.2 325.9h6M254.6 297.9V310.0M251.6 297.9h6M251.6 310.0h6M256.3 302.9V315.9M253.3 302.9h6M253.3 315.9h6M255.6 309.7V328.6M252.6 309.7h6M252.6 328.6h6M258.1 303.8V318.9M255.1 303.8h6M255.1 318.9h6M257.4 306.6V315.5M254.4 306.6h6M254.4 315.5h6M257.3 303.0V329.7M254.3 303.0h6M254.3 329.7h6M258.2 307.5V322.6M255.2 307.5h6M255.2 322.6h6M257.3 299.9V313.1M254.3 299.9h6M254.3 313.1h6M257.3 299.7V311.5M254.3 299.7h6M254.3 311.5h6M256.3 292.0V304.8M253.3 292.0h6M253.3 304.8h6M255.9 300.9V323.5M252.9 300.9h6M252.9 323.5h6M254.7 311.6V325.9M251.7 311.6h6M251.7 325.9h6M254.5 306.3V321.1M251.5 306.3h6M251.5 321.1h6M257.4 287.8V303.1M254.4 287.8h6M254.4 303.1h6M257.0 304.0V312.7M254.0 304.0h6M254.0 312.7h6M256.1 316.4V335.9M253.1 316.4h6M253.1 335.9h6M255.2 302.5V320.4M252.2 302.5h6M252.2 320.4h6M257.4 301.5V318.2M254.4 301.5h6M254.4 318.2h6M254.9 304.0V319.5M251.9 304.0h6M251.9 319.5h6M258.0 299.9V308.6M255.0 299.9h6M255.0 308.6h6M257.5 312.6V330.0M254.5 312.6h6M254.5 330.0h6M256.7 297.3V311.1M253.7 297.3h6M253.7 311.1h6M255.7 295.7V316.1M252.7 295.7h6M252.7 316.1h6M256.0 316.9V328.7M253.0 316.9h6M253.0 328.7h6M254.5 309.9V320.9M251.5 309.9h6M251.5 320.9h6M257.7 306.9V325.6M254.7 306.9h6M254.7 325.6h6M257.2 294.9V313.2M254.2 294.9h6M254.2 313.2h6M254.8 313.7V327.8M251.8 313.7h6M251.8 327.8h6M256.4 305.1V316.9M253.4 305.1h6M253.4 316.9h6M255.7 309.9V330.9M252.7 309.9h6M252.7 330.9h6M256.4 301.9V313.8M253.4 301.9h6M253.4 313.8h6M256.7 297.2V318.3M253.7 297.2h6M253.7 318.3h6M256.2 296.2V321.7M253.2 296.2h6M253.2 321.7h6M257.4 305.8V324.4M254.4 305.8h6M254.4 324.4h6M256.6 286.3V305.4M253.6 286.3h6M253.6 305.4h6M256.6 307.8V317.7M253.6 307.8h6M253.6 317.7h6M257.0 308.4V322.9M254.0 308.4h6M254.0 322.9h6M257.3 285.3V308.1M254.3 285.3h6M254.3 308.1h6M255.9 312.6V327.6M252.9 312.6h6M252.9 327.6h6M255.6 302.8V317.6M252.6 302.8h6M252.6 317.6h6M256.7 309.0V322.4M253.7 309.0h6M253.7 322.4h6M257.6 306.6V322.1M254.6 306.6h6M254.6 322.1h6M257.6 293.7V312.5M254.6 293.7h6M254.6 312.5h6M258.1 316.3V324.9M255.1 316.3h6M255.1 324.9h6M255.8 308.4V320.8M252.8 308.4h6M252.8 320.8h6M258.1 305.5V316.8M255.1 305.5h6M255.1 316.8h6M256.6 302.1V324.3M253.6 302.1h6M253.6 324.3h6M254.4 296.1V308.9M251.4 296.1h6M251.4 308.9h6M255.5 306.6V319.7M252.5 306.6h6M252.5 319.7h6M256.1 305.5V318.1M253.1 305.5h6M253.1 318.1h6M256.5 299.5V311.6M253.5 299.5h6M253.5 311.6h6M257.4 304.4V317.5M254.4 304.4h6M254.4 317.5h6M258.1 298.5V320.2M255.1 298.5h6M255.1 320.2h6M256.9 309.4V329.8M253.9 309.4h6M253.9 329.8h6M254.7 293.1V310.9M251.7 293.1h6M251.7 310.9h6M256.2 314.7V324.0M253.2 314.7h6M253.2 324.0h6M255.8 303.6V319.4M252.8 303.6h6M252.8 319.4h6M256.5 305.3V318.8M253.5 305.3h6M253.5 318.8h6M256.4 310.5V326.9M253.4 310.5h6M253.4 326.9h6M255.7 311.9V328.6M252.7 311.9h6M252.7 328.6h6M254.4 297.6V311.5M251.4 297.6h6M251.4 311.5h6M257.1 316.0V334.8M254.1 316.0h6M254.1 334.8h6M256.4 313.7V343.1M253.4 313.7h6M253.4 343.1h6M258.0 279.3V297.9M255.0 279.3h6M255.0 297.9h6M258.0 307.7V320.2M255.0 307.7h6M255.0 320.2h6M257.6 302.5V318.9M254.6 302.5h6M254.6 318.9h6M255.4 306.7V324.7M252.4 306.7h6M252.4 324.7h6M255.2 305.9V319.4M252.2 305.9h6M252.2 319.4h6M255.2 312.3V323.2M252.2 312.3h6M252.2 323.2h6M256.4 308.6V322.3M253.4 308.6h6M253.4 322.3h6M258.0 302.5V322.3M255.0 302.5h6M255.0 322.3h6M256.2 295.1V319.1M253.2 295.1h6M253.2 319.1h6M254.9 299.8V311.7M251.9 299.8h6M251.9 311.7h6M256.5 305.1V324.4M253.5 305.1h6M253.5 324.4h6M256.4 302.5V316.4M253.4 302.5h6M253.4 316.4h6M255.2 310.9V335.5M252.2 310.9h6M252.2 335.5h6M255.8 296.3V312.5M252.8 296.3h6M252.8 312.5h6M254.6 300.3V312.6M251.6 300.3h6M251.6 312.6h6M257.7 297.2V318.2M254.7 297.2h6M254.7 318.2h6M258.1 285.8V305.5M255.1 285.8h6M255.1 305.5h6M254.5 314.1V332.3M251.5 314.1h6M251.5 332.3h6M257.8 293.4V307.4M254.8 293.4h6M254.8 307.4h6M254.9 302.6V324.9M251.9 302.6h6M251.9 324.9h6M258.1 309.8V329.9M255.1 309.8h6M255.1 329.9h6M256.1 307.7V323.6M253.1 307.7h6M253.1 323.6h6M257.7 308.9V318.1M254.7 308.9h6M254.7 318.1h6M256.5 297.7V313.1M253.5 297.7h6M253.5 313.1h6M256.1 308.9V326.7M253.1 308.9h6M253.1 326.7h6M254.8 312.3V324.4M251.8 312.3h6M251.8 324.4h6M258.1 291.0V313.4M255.1 291.0h6M255.1 313.4h6M255.5 300.5V312.2M252.5 300.5h6M252.5 312.2h6M257.6 295.6V312.1M254.6 295.6h6M254.6 312.1h6M255.1 286.4V300.9M252.1 286.4h6M252.1 300.9h6M254.7 327.7V343.9M251.7 327.7h6M251.7 343.9h6M256.6 299.4V317.9M253.6 299.4h6M253.6 317.9h6M255.1 313.5V332.1M252.1 313.5h6M252.1 332.1h6M256.6 296.1V323.7M253.6 296.1h6M253.6 323.7h6M256.6 300.9V321.6M253.6 300.9h6M253.6 321.6h6M257.2 299.0V316.2M254.2 299.0h6M254.2 316.2h6M255.4 305.9V319.1M252.4 305.9h6M252.4 319.1h6M257.4 289.1V304.4M254.4 289.1h6M254.4 304.4h6M254.7 294.9V311.5M251.7 294.9h6M251.7 311.5h6M257.5 301.7V326.9M254.5 301.7h6M254.5 326.9h6M256.2 285.5V314.0M253.2 285.5h6M253.2 314.0h6M256.7 283.2V298.6M253.7 283.2h6M253.7 298.6h6M258.2 289.5V303.5M255.2 289.5h6M255.2 303.5h6M256.4 298.3V314.9M253.4 298.3h6M253.4 314.9h6M255.5 299.2V311.6M252.5 299.2h6M252.5 311.6h6M256.1 301.0V315.7M253.1 301.0h6M253.1 315.7h6M255.1 307.2V320.4M252.1 307.2h6M252.1 320.4h6M257.8 302.9V319.7M254.8 302.9h6M254.8 319.7h6M256.3 299.4V312.4M253.3 299.4h6M253.3 312.4h6M256.8 306.5V329.8M253.8 306.5h6M253.8 329.8h6M254.6 298.4V315.9M251.6 298.4h6M251.6 315.9h6M255.6 309.5V326.3M252.6 309.5h6M252.6 326.3h6M258.0 292.0V313.4M255.0 292.0h6M255.0 313.4h6M255.6 307.3V315.4M252.6 307.3h6M252.6 315.4h6M257.2 312.1V325.0M254.2 312.1h6M254.2 325.0h6M255.4 318.4V336.2M252.4 318.4h6M252.4 336.2h6M257.2 309.2V327.3M254.2 309.2h6M254.2 327.3h6M255.7 300.8V321.0M252.7 300.8h6M252.7 321.0h6M256.7 286.1V310.3M253.7 286.1h6M253.7 310.3h6M256.7 292.1V311.4M253.7 292.1h6M253.7 311.4h6M256.5 300.2V316.2M253.5 300.2h6M253.5 316.2h6M256.0 309.3V325.5M253.0 309.3h6M253.0 325.5h6M254.8 304.4V317.2M251.8 304.4h6M251.8 317.2h6M257.7 309.5V329.5M254.7 309.5h6M254.7 329.5h6M256.0 294.1V312.9M253.0 294.1h6M253.0 312.9h6M257.1 313.7V330.1M254.1 313.7h6M254.1 330.1h6M255.5 301.9V328.9M252.5 301.9h6M252.5 328.9h6M256.2 293.3V310.3M253.2 293.3h6M253.2 310.3h6M256.0 296.8V309.5M253.0 296.8h6M253.0 309.5h6M256.1 302.7V322.4M253.1 302.7h6M253.1 322.4h6M254.8 294.3V307.0M251.8 294.3h6M251.8 307.0h6M254.9 303.6V322.4M251.9 303.6h6M251.9 322.4h6M255.1 303.9V316.7M252.1 303.9h6M252.1 316.7h6M257.6 317.3V335.4M254.6 317.3h6M254.6 335.4h6M255.4 299.7V317.1M252.4 299.7h6M252.4 317.1h6M254.8 310.6V328.4M251.8 310.6h6M251.8 328.4h6M257.2 308.7V325.4M254.2 308.7h6M254.2 325.4h6M254.6 307.7V321.8M251.6 307.7h6M251.6 321.8h6M258.1 311.0V323.9M255.1 311.0h6M255.1 323.9h6M257.1 288.8V304.6M254.1 288.8h6M254.1 304.6h6M257.5 295.0V314.2M254.5 295.0h6M254.5 314.2h6M256.3 286.2V310.2M253.3 286.2h6M253.3 310.2h6M255.5 304.8V315.5M252.5 304.8h6M252.5 315.5h6M257.2 303.5V324.2M254.2 303.5h6M254.2 324.2h6M255.6 315.8V330.4M252.6 315.8h6M252.6 330.4h6M393.0 296.3V313.3M390.0 296.3h6M390.0 313.3h6M394.1 304.3V320.3M391.1 304.3h6M391.1 320.3h6M392.2 324.3V352.9M389.2 324.3h6M389.2 352.9h6M390.4 322.3V346.6M387.4 322.3h6M387.4 346.6h6M392.8 303.6V330.5M389.8 303.6h6M389.8 330.5h6M397.0 283.7V310.9M394.0 283.7h6M394.0 310.9h6M399.0 310.4V329.3M396.0 310.4h6M396.0 329.3h6M394.7 298.8V318.8M391.7 298.8h6M391.7 318.8h6M388.5 323.4V349.4M385.5 323.4h6M385.5 349.4h6M390.3 291.1V316.4M387.3 291.1h6M387.3 316.4h6M399.1 300.3V321.5M396.1 300.3h6M396.1 321.5h6M397.4 283.8V315.4M394.4 283.8h6M394.4 315.4h6M391.4 299.1V322.8M388.4 299.1h6M388.4 322.8h6M398.8 327.4V356.2M395.8 327.4h6M395.8 356.2h6M393.1 296.3V316.5M390.1 296.3h6M390.1 316.5h6M392.9 320.9V349.4M389.9 320.9h6M389.9 349.4h6M389.9 287.3V327.5M386.9 287.3h6M386.9 327.5h6M397.3 311.1V339.7M394.3 311.1h6M394.3 339.7h6M395.2 302.2V343.7M392.2 302.2h6M392.2 343.7h6M389.0 295.2V314.8M386.0 295.2h6M386.0 314.8h6M389.0 314.6V339.4M386.0 314.6h6M386.0 339.4h6M390.8 269.7V299.4M387.8 269.7h6M387.8 299.4h6M390.6 306.5V328.7M387.6 306.5h6M387.6 328.7h6M393.5 298.0V325.3M390.5 298.0h6M390.5 325.3h6M400.2 306.4V334.0M397.2 306.4h6M397.2 334.0h6M396.3 301.8V326.1M393.3 301.8h6M393.3 326.1h6M389.2 289.2V308.9M386.2 289.2h6M386.2 308.9h6M389.6 288.5V320.1M386.6 288.5h6M386.6 320.1h6M392.4 296.3V332.6M389.4 296.3h6M389.4 332.6h6M394.6 297.5V316.3M391.6 297.5h6M391.6 316.3h6M396.1 307.7V332.2M393.1 307.7h6M393.1 332.2h6M398.6 308.9V334.9M395.6 308.9h6M395.6 334.9h6M391.2 312.1V335.2M388.2 312.1h6M388.2 335.2h6M389.1 282.7V311.6M386.1 282.7h6M386.1 311.6h6M394.7 306.7V323.7M391.7 306.7h6M391.7 323.7h6M396.8 310.0V328.4M393.8 310.0h6M393.8 328.4h6M389.0 324.9V362.4M386.0 324.9h6M386.0 362.4h6M399.3 281.4V309.7M396.3 281.4h6M396.3 309.7h6M390.5 304.1V325.8M387.5 304.1h6M387.5 325.8h6M399.6 280.8V309.9M396.6 280.8h6M396.6 309.9h6M389.4 301.9V325.4M386.4 301.9h6M386.4 325.4h6M395.5 296.9V319.6M392.5 296.9h6M392.5 319.6h6M397.7 316.1V340.4M394.7 316.1h6M394.7 340.4h6M392.2 314.6V341.4M389.2 314.6h6M389.2 341.4h6M389.7 287.7V320.8M386.7 287.7h6M386.7 320.8h6M398.4 277.5V299.8M395.4 277.5h6M395.4 299.8h6M393.2 299.2V324.9M390.2 299.2h6M390.2 324.9h6M388.7 292.4V321.3M385.7 292.4h6M385.7 321.3h6M398.0 295.6V314.8M395.0 295.6h6M395.0 314.8h6M388.8 276.8V296.4M385.8 276.8h6M385.8 296.4h6M390.1 293.7V333.1M387.1 293.7h6M387.1 333.1h6M395.0 305.3V343.8M392.0 305.3h6M392.0 343.8h6M392.4 283.7V304.5M389.4 283.7h6M389.4 304.5h6M389.9 307.6V334.3M386.9 307.6h6M386.9 334.3h6M389.9 298.0V324.6M386.9 298.0h6M386.9 324.6h6M391.2 302.4V328.5M388.2 302.4h6M388.2 328.5h6M397.5 286.2V314.4M394.5 286.2h6M394.5 314.4h6M389.5 305.6V342.1M386.5 305.6h6M386.5 342.1h6M397.0 292.7V315.0M394.0 292.7h6M394.0 315.0h6M397.8 300.3V327.6M394.8 300.3h6M394.8 327.6h6M392.0 304.0V329.5M389.0 304.0h6M389.0 329.5h6M395.2 303.7V325.4M392.2 303.7h6M392.2 325.4h6M391.6 289.1V308.9M388.6 289.1h6M388.6 308.9h6M394.8 292.6V317.8M391.8 292.6h6M391.8 317.8h6M396.4 310.4V340.1M393.4 310.4h6M393.4 340.1h6M391.0 268.3V293.5M388.0 268.3h6M388.0 293.5h6M392.9 253.5V286.0M389.9 253.5h6M389.9 286.0h6M390.0 286.9V313.3M387.0 286.9h6M387.0 313.3h6M392.4 304.7V323.1M389.4 304.7h6M389.4 323.1h6M396.2 283.2V305.0M393.2 283.2h6M393.2 305.0h6M394.1 297.8V316.4M391.1 297.8h6M391.1 316.4h6M390.9 289.4V314.3M387.9 289.4h6M387.9 314.3h6M400.2 302.6V326.4M397.2 302.6h6M397.2 326.4h6M389.7 291.6V312.3M386.7 291.6h6M386.7 312.3h6M395.8 308.3V330.7M392.8 308.3h6M392.8 330.7h6M395.0 308.2V335.1M392.0 308.2h6M392.0 335.1h6M396.5 307.2V331.7M393.5 307.2h6M393.5 331.7h6M395.0 285.5V305.0M392.0 285.5h6M392.0 305.0h6M394.0 290.0V301.4M391.0 290.0h6M391.0 301.4h6M390.7 285.3V303.4M387.7 285.3h6M387.7 303.4h6M389.0 287.1V304.2M386.0 287.1h6M386.0 304.2h6M392.2 296.1V316.2M389.2 296.1h6M389.2 316.2h6M393.9 302.8V335.5M390.9 302.8h6M390.9 335.5h6M392.1 289.7V313.4M389.1 289.7h6M389.1 313.4h6M398.3 299.3V319.3M395.3 299.3h6M395.3 319.3h6M393.4 303.6V324.8M390.4 303.6h6M390.4 324.8h6M397.5 315.9V341.6M394.5 315.9h6M394.5 341.6h6M391.5 311.4V337.5M388.5 311.4h6M388.5 337.5h6M394.2 293.0V311.3M391.2 293.0h6M391.2 311.3h6M394.7 308.1V321.3M391.7 308.1h6M391.7 321.3h6M395.1 294.6V318.8M392.1 294.6h6M392.1 318.8h6M396.7 315.2V342.2M393.7 315.2h6M393.7 342.2h6M396.7 300.2V322.7M393.7 300.2h6M393.7 322.7h6M399.2 310.7V330.7M396.2 310.7h6M396.2 330.7h6M396.8 321.4V340.7M393.8 321.4h6M393.8 340.7h6M393.0 282.1V313.9M390.0 282.1h6M390.0 313.9h6M395.2 281.5V300.3M392.2 281.5h6M392.2 300.3h6M388.5 292.7V314.6M385.5 292.7h6M385.5 314.6h6M388.8 312.9V325.3M385.8 312.9h6M385.8 325.3h6M393.0 302.1V318.4M390.0 302.1h6M390.0 318.4h6M390.3 299.3V317.9M387.3 299.3h6M387.3 317.9h6M388.7 287.9V315.5M385.7 287.9h6M385.7 315.5h6M397.5 300.7V319.6M394.5 300.7h6M394.5 319.6h6M392.0 297.5V334.3M389.0 297.5h6M389.0 334.3h6M396.5 307.7V331.6M393.5 307.7h6M393.5 331.6h6M396.1 295.5V323.8M393.1 295.5h6M393.1 323.8h6M397.2 262.1V313.7M394.2 262.1h6M394.2 313.7h6M392.1 293.6V319.9M389.1 293.6h6M389.1 319.9h6M394.4 293.5V323.6M391.4 293.5h6M391.4 323.6h6M399.1 284.0V310.4M396.1 284.0h6M396.1 310.4h6M391.9 291.6V321.1M388.9 291.6h6M388.9 321.1h6M391.5 290.4V311.6M388.5 290.4h6M388.5 311.6h6M391.9 278.7V300.4M388.9 278.7h6M388.9 300.4h6M396.2 284.7V306.0M393.2 284.7h6M393.2 306.0h6M391.7 257.2V289.6M388.7 257.2h6M388.7 289.6h6M391.0 293.9V323.6M388.0 293.9h6M388.0 323.6h6M396.3 298.2V319.4M393.3 298.2h6M393.3 319.4h6M394.1 304.8V327.3M391.1 304.8h6M391.1 327.3h6M391.4 303.8V327.7M388.4 303.8h6M388.4 327.7h6M398.7 301.9V325.3M395.7 301.9h6M395.7 325.3h6M392.0 316.9V348.7M389.0 316.9h6M389.0 348.7h6M399.4 309.2V337.5M396.4 309.2h6M396.4 337.5h6M389.7 302.1V326.7M386.7 302.1h6M386.7 326.7h6M393.0 292.5V314.4M390.0 292.5h6M390.0 314.4h6M397.2 325.0V361.8M394.2 325.0h6M394.2 361.8h6M389.8 291.8V316.1M386.8 291.8h6M386.8 316.1h6M392.7 309.0V331.2M389.7 309.0h6M389.7 331.2h6M391.7 301.5V321.1M388.7 301.5h6M388.7 321.1h6M395.3 299.0V315.8M392.3 299.0h6M392.3 315.8h6M400.1 302.4V322.3M397.1 302.4h6M397.1 322.3h6M397.2 305.2V321.9M394.2 305.2h6M394.2 321.9h6M400.2 304.2V329.0M397.2 304.2h6M397.2 329.0h6M394.0 294.9V330.0M391.0 294.9h6M391.0 330.0h6M399.7 293.5V317.8M396.7 293.5h6M396.7 317.8h6M396.1 266.6V303.5M393.1 266.6h6M393.1 303.5h6M392.8 312.5V341.5M389.8 312.5h6M389.8 341.5h6M398.6 281.0V300.2M395.6 281.0h6M395.6 300.2h6M397.5 307.4V348.9M394.5 307.4h6M394.5 348.9h6M398.6 300.5V322.7M395.6 300.5h6M395.6 322.7h6M395.8 302.6V319.1M392.8 302.6h6M392.8 319.1h6M390.6 296.2V319.5M387.6 296.2h6M387.6 319.5h6M394.1 301.8V320.5M391.1 301.8h6M391.1 320.5h6M388.5 284.2V313.5M385.5 284.2h6M385.5 313.5h6M399.2 310.9V345.9M396.2 310.9h6M396.2 345.9h6M390.5 300.1V328.8M387.5 300.1h6M387.5 328.8h6M388.3 303.5V322.4M385.3 303.5h6M385.3 322.4h6M397.8 295.4V326.7M394.8 295.4h6M394.8 326.7h6M397.1 309.8V327.8M394.1 309.8h6M394.1 327.8h6M399.1 297.5V339.0M396.1 297.5h6M396.1 339.0h6M391.6 318.8V347.0M388.6 318.8h6M388.6 347.0h6M390.8 272.2V301.3M387.8 272.2h6M387.8 301.3h6M399.9 286.5V312.1M396.9 286.5h6M396.9 312.1h6M396.7 276.3V305.5M393.7 276.3h6M393.7 305.5h6M391.5 307.5V319.1M388.5 307.5h6M388.5 319.1h6M398.1 288.8V306.3M395.1 288.8h6M395.1 306.3h6M393.6 305.3V318.5M390.6 305.3h6M390.6 318.5h6M390.1 305.6V327.0M387.1 305.6h6M387.1 327.0h6M397.4 295.1V316.6M394.4 295.1h6M394.4 316.6h6M390.2 282.1V309.1M387.2 282.1h6M387.2 309.1h6M394.3 304.8V341.6M391.3 304.8h6M391.3 341.6h6M399.4 293.0V316.0M396.4 293.0h6M396.4 316.0h6M394.2 303.0V333.3M391.2 303.0h6M391.2 333.3h6M391.8 306.6V328.7M388.8 306.6h6M388.8 328.7h6M393.6 320.7V348.2M390.6 320.7h6M390.6 348.2h6M397.6 304.1V324.6M394.6 304.1h6M394.6 324.6h6M398.5 295.8V316.8M395.5 295.8h6M395.5 316.8h6M398.2 313.3V332.4M395.2 313.3h6M395.2 332.4h6M392.7 297.7V327.5M389.7 297.7h6M389.7 327.5h6M398.3 285.6V324.3M395.3 285.6h6M395.3 324.3h6M394.7 306.2V333.8M391.7 306.2h6M391.7 333.8h6M396.0 283.5V308.1M393.0 283.5h6M393.0 308.1h6M397.6 318.0V333.9M394.6 318.0h6M394.6 333.9h6M391.1 293.1V328.9M388.1 293.1h6M388.1 328.9h6M397.1 285.7V313.4M394.1 285.7h6M394.1 313.4h6M391.9 307.6V333.2M388.9 307.6h6M388.9 333.2h6M391.5 289.4V304.7M388.5 289.4h6M388.5 304.7h6M389.7 284.0V313.6M386.7 284.0h6M386.7 313.6h6M395.3 289.4V312.9M392.3 289.4h6M392.3 312.9h6M396.8 315.2V340.8M393.8 315.2h6M393.8 340.8h6M398.0 298.0V322.8M395.0 298.0h6M395.0 322.8h6M393.9 294.0V321.8M390.9 294.0h6M390.9 321.8h6M390.9 292.7V323.1M387.9 292.7h6M387.9 323.1h6M391.5 291.1V316.1M388.5 291.1h6M388.5 316.1h6M391.2 279.8V319.7M388.2 279.8h6M388.2 319.7h6M388.8 314.8V339.8M385.8 314.8h6M385.8 339.8h6M388.5 302.1V319.6M385.5 302.1h6M385.5 319.6h6M397.8 261.3V295.8M394.8 261.3h6M394.8 295.8h6M392.3 318.9V339.7M389.3 318.9h6M389.3 339.7h6M393.5 283.4V311.8M390.5 283.4h6M390.5 311.8h6M400.1 302.0V323.7M397.1 302.0h6M397.1 323.7h6M390.0 298.0V319.1M387.0 298.0h6M387.0 319.1h6M395.6 292.1V309.1M392.6 292.1h6M392.6 309.1h6M389.0 284.4V305.6M386.0 284.4h6M386.0 305.6h6M389.2 316.1V341.8M386.2 316.1h6M386.2 341.8h6M394.3 308.0V328.4M391.3 308.0h6M391.3 328.4h6M390.6 307.7V324.5M387.6 307.7h6M387.6 324.5h6M392.0 301.6V327.0M389.0 301.6h6M389.0 327.0h6M397.3 298.1V313.9M394.3 298.1h6M394.3 313.9h6M399.4 292.2V311.0M396.4 292.2h6M396.4 311.0h6M389.8 311.7V332.6M386.8 311.7h6M386.8 332.6h6M398.8 301.5V318.0M395.8 301.5h6M395.8 318.0h6M389.6 299.9V320.3M386.6 299.9h6M386.6 320.3h6M389.9 300.2V332.6M386.9 300.2h6M386.9 332.6h6M396.0 316.6V344.0M393.0 316.6h6M393.0 344.0h6M397.8 281.5V311.0M394.8 281.5h6M394.8 311.0h6M392.7 297.0V320.6M389.7 297.0h6M389.7 320.6h6M400.2 274.0V313.0M397.2 274.0h6M397.2 313.0h6M398.3 284.0V306.0M395.3 284.0h6M395.3 306.0h6M391.9 294.2V315.2M388.9 294.2h6M388.9 315.2h6M397.9 298.2V318.7M394.9 298.2h6M394.9 318.7h6M391.5 274.1V300.5M388.5 274.1h6M388.5 300.5h6M394.7 295.5V318.5M391.7 295.5h6M391.7 318.5h6M397.9 305.4V335.8M394.9 305.4h6M394.9 335.8h6M392.3 292.1V317.8M389.3 292.1h6M389.3 317.8h6M395.0 297.8V323.3M392.0 297.8h6M392.0 323.3h6M388.8 295.6V324.7M385.8 295.6h6M385.8 324.7h6M389.8 304.7V329.4M386.8 304.7h6M386.8 329.4h6M396.8 272.3V301.9M393.8 272.3h6M393.8 301.9h6M395.6 303.6V325.9M392.6 303.6h6M392.6 325.9h6M398.6 294.6V324.6M395.6 294.6h6M395.6 324.6h6M448.8 305.3V329.6M445.8 305.3h6M445.8 329.6h6M419.8 304.6V319.5M416.8 304.6h6M416.8 319.5h6M420.7 286.6V305.3M417.7 286.6h6M417.7 305.3h6M419.7 295.3V305.9M416.7 295.3h6M416.7 305.9h6M424.2 312.7V324.3M421.2 312.7h6M421.2 324.3h6M421.6 309.6V328.0M418.6 309.6h6M418.6 328.0h6M420.7 300.3V314.5M417.7 300.3h6M417.7 314.5h6M432.9 304.0V318.0M429.9 304.0h6M429.9 318.0h6M447.3 281.9V306.9M444.3 281.9h6M444.3 306.9h6M427.1 311.5V321.0M424.1 311.5h6M424.1 321.0h6M444.5 311.2V329.2M441.5 311.2h6M441.5 329.2h6M421.3 312.4V325.0M418.3 312.4h6M418.3 325.0h6M434.4 299.9V322.8M431.4 299.9h6M431.4 322.8h6M436.2 309.3V325.3M433.2 309.3h6M433.2 325.3h6M430.0 303.0V312.4M427.0 303.0h6M427.0 312.4h6M440.6 308.4V326.8M437.6 308.4h6M437.6 326.8h6M431.8 307.1V319.0M428.8 307.1h6M428.8 319.0h6M428.9 289.6V312.7M425.9 289.6h6M425.9 312.7h6M421.4 312.1V328.0M418.4 312.1h6M418.4 328.0h6M435.4 297.9V309.8M432.4 297.9h6M432.4 309.8h6M440.4 295.5V314.8M437.4 295.5h6M437.4 314.8h6M427.8 314.3V328.3M424.8 314.3h6M424.8 328.3h6M426.3 302.6V319.4M423.3 302.6h6M423.3 319.4h6M434.7 307.8V324.6M431.7 307.8h6M431.7 324.6h6M448.0 293.1V314.0M445.0 293.1h6M445.0 314.0h6M426.5 312.1V332.0M423.5 312.1h6M423.5 332.0h6M448.8 290.7V308.0M445.8 290.7h6M445.8 308.0h6M433.0 290.3V310.9M430.0 290.3h6M430.0 310.9h6M441.5 303.8V318.6M438.5 303.8h6M438.5 318.6h6M439.0 302.3V323.7M436.0 302.3h6M436.0 323.7h6M431.0 304.1V315.8M428.0 304.1h6M428.0 315.8h6M420.5 299.5V318.9M417.5 299.5h6M417.5 318.9h6M433.5 304.9V320.3M430.5 304.9h6M430.5 320.3h6M429.6 287.1V309.7M426.6 287.1h6M426.6 309.7h6M419.4 306.7V328.6M416.4 306.7h6M416.4 328.6h6M434.3 293.3V313.4M431.3 293.3h6M431.3 313.4h6M437.7 304.4V319.6M434.7 304.4h6M434.7 319.6h6M444.2 298.8V321.1M441.2 298.8h6M441.2 321.1h6M429.8 309.8V334.0M426.8 309.8h6M426.8 334.0h6M433.7 293.6V316.9M430.7 293.6h6M430.7 316.9h6M427.9 294.8V307.5M424.9 294.8h6M424.9 307.5h6M436.7 312.7V333.7M433.7 312.7h6M433.7 333.7h6M432.6 307.0V327.8M429.6 307.0h6M429.6 327.8h6M446.4 284.8V312.4M443.4 284.8h6M443.4 312.4h6M430.6 301.5V318.5M427.6 301.5h6M427.6 318.5h6M423.8 298.8V318.6M420.8 298.8h6M420.8 318.6h6M431.0 297.0V312.7M428.0 297.0h6M428.0 312.7h6M435.3 290.0V301.9M432.3 290.0h6M432.3 301.9h6M444.9 287.6V307.9M441.9 287.6h6M441.9 307.9h6M438.6 294.9V311.6M435.6 294.9h6M435.6 311.6h6M437.3 313.3V323.1M434.3 313.3h6M434.3 323.1h6M447.4 315.9V333.8M444.4 315.9h6M444.4 333.8h6M440.6 289.0V311.2M437.6 289.0h6M437.6 311.2h6M451.3 301.4V317.0M448.3 301.4h6M448.3 317.0h6M435.5 304.1V324.3M432.5 304.1h6M432.5 324.3h6M428.2 285.0V310.3M425.2 285.0h6M425.2 310.3h6M426.7 308.1V326.6M423.7 308.1h6M423.7 326.6h6M443.4 302.2V323.9M440.4 302.2h6M440.4 323.9h6M421.8 309.3V325.4M418.8 309.3h6M418.8 325.4h6M421.1 313.4V337.3M418.1 313.4h6M418.1 337.3h6M421.8 306.7V318.4M418.8 306.7h6M418.8 318.4h6M439.0 309.5V330.8M436.0 309.5h6M436.0 330.8h6M430.5 307.4V324.9M427.5 307.4h6M427.5 324.9h6M429.1 306.4V323.0M426.1 306.4h6M426.1 323.0h6M431.5 284.6V303.1M428.5 284.6h6M428.5 303.1h6M422.8 299.4V313.2M419.8 299.4h6M419.8 313.2h6M422.4 299.8V313.5M419.4 299.8h6M419.4 313.5h6M420.2 315.7V330.5M417.2 315.7h6M417.2 330.5h6M421.9 308.0V322.1M418.9 308.0h6M418.9 322.1h6M424.9 285.8V297.3M421.9 285.8h6M421.9 297.3h6M424.7 287.4V307.5M421.7 287.4h6M421.7 307.5h6M435.1 308.0V323.8M432.1 308.0h6M432.1 323.8h6M421.6 303.6V314.5M418.6 303.6h6M418.6 314.5h6M435.8 310.9V332.4M432.8 310.9h6M432.8 332.4h6M443.1 309.7V324.2M440.1 309.7h6M440.1 324.2h6M446.0 297.0V318.9M443.0 297.0h6M443.0 318.9h6M423.2 310.0V329.0M420.2 310.0h6M420.2 329.0h6M434.8 304.1V328.1M431.8 304.1h6M431.8 328.1h6M436.0 307.3V319.6M433.0 307.3h6M433.0 319.6h6M426.8 308.7V322.8M423.8 308.7h6M423.8 322.8h6M446.8 315.7V334.4M443.8 315.7h6M443.8 334.4h6M420.1 305.6V321.1M417.1 305.6h6M417.1 321.1h6M434.2 295.7V314.0M431.2 295.7h6M431.2 314.0h6M441.5 307.9V335.0M438.5 307.9h6M438.5 335.0h6M432.4 293.8V313.6M429.4 293.8h6M429.4 313.6h6M430.2 313.2V325.8M427.2 313.2h6M427.2 325.8h6M433.3 302.1V322.0M430.3 302.1h6M430.3 322.0h6M438.7 315.8V327.6M435.7 315.8h6M435.7 327.6h6M442.5 300.3V329.2M439.5 300.3h6M439.5 329.2h6M434.9 311.7V337.8M431.9 311.7h6M431.9 337.8h6M428.1 308.2V319.9M425.1 308.2h6M425.1 319.9h6M419.6 296.0V310.3M416.6 296.0h6M416.6 310.3h6M429.8 295.7V308.7M426.8 295.7h6M426.8 308.7h6M441.0 284.1V307.5M438.0 284.1h6M438.0 307.5h6M425.1 306.7V328.3M422.1 306.7h6M422.1 328.3h6M442.9 307.4V335.1M439.9 307.4h6M439.9 335.1h6M420.2 290.9V307.0M417.2 290.9h6M417.2 307.0h6M432.8 299.5V322.9M429.8 299.5h6M429.8 322.9h6M431.9 324.7V347.3M428.9 324.7h6M428.9 347.3h6M438.2 308.0V328.1M435.2 308.0h6M435.2 328.1h6M433.0 304.4V317.6M430.0 304.4h6M430.0 317.6h6M435.7 292.1V306.0M432.7 292.1h6M432.7 306.0h6M433.8 310.1V320.3M430.8 310.1h6M430.8 320.3h6M431.6 297.7V315.2M428.6 297.7h6M428.6 315.2h6M439.2 314.7V332.5M436.2 314.7h6M436.2 332.5h6M422.5 307.2V316.8M419.5 307.2h6M419.5 316.8h6M432.5 307.3V320.9M429.5 307.3h6M429.5 320.9h6M451.7 305.0V326.0M448.7 305.0h6M448.7 326.0h6M433.7 306.2V319.1M430.7 306.2h6M430.7 319.1h6M431.7 304.3V329.2M428.7 304.3h6M428.7 329.2h6M478.1 293.3V312.2M475.1 293.3h6M475.1 312.2h6M473.5 308.1V329.5M470.5 308.1h6M470.5 329.5h6M500.9 300.5V309.7M497.9 300.5h6M497.9 309.7h6M483.6 294.5V316.7M480.6 294.5h6M480.6 316.7h6M481.9 306.1V321.5M478.9 306.1h6M478.9 321.5h6M486.9 301.1V320.7M483.9 301.1h6M483.9 320.7h6M481.3 320.7V338.9M478.3 320.7h6M478.3 338.9h6M492.2 308.9V323.9M489.2 308.9h6M489.2 323.9h6M487.1 305.5V322.3M484.1 305.5h6M484.1 322.3h6M486.9 296.4V314.8M483.9 296.4h6M483.9 314.8h6M501.4 299.1V314.8M498.4 299.1h6M498.4 314.8h6M487.7 301.4V320.1M484.7 301.4h6M484.7 320.1h6M474.2 296.3V311.6M471.2 296.3h6M471.2 311.6h6M495.4 298.7V313.3M492.4 298.7h6M492.4 313.3h6M505.3 293.5V316.5M502.3 293.5h6M502.3 316.5h6M497.7 308.8V328.5M494.7 308.8h6M494.7 328.5h6M486.0 309.8V323.2M483.0 309.8h6M483.0 323.2h6M492.3 303.9V321.0M489.3 303.9h6M489.3 321.0h6M495.6 302.0V313.4M492.6 302.0h6M492.6 313.4h6M490.5 306.5V325.8M487.5 306.5h6M487.5 325.8h6M476.8 303.5V322.4M473.8 303.5h6M473.8 322.4h6M493.1 300.7V316.5M490.1 300.7h6M490.1 316.5h6M488.7 293.5V306.9M485.7 293.5h6M485.7 306.9h6M498.6 302.0V315.6M495.6 302.0h6M495.6 315.6h6M498.2 307.2V318.0M495.2 307.2h6M495.2 318.0h6M488.9 286.1V303.1M485.9 286.1h6M485.9 303.1h6M479.2 307.1V324.3M476.2 307.1h6M476.2 324.3h6M491.8 304.0V325.8M488.8 304.0h6M488.8 325.8h6M492.8 312.1V329.6M489.8 312.1h6M489.8 329.6h6M508.5 302.3V321.1M505.5 302.3h6M505.5 321.1h6M507.7 315.6V337.8M504.7 315.6h6M504.7 337.8h6M503.5 313.4V329.4M500.5 313.4h6M500.5 329.4h6M504.3 303.9V322.4M501.3 303.9h6M501.3 322.4h6M481.2 312.0V328.5M478.2 312.0h6M478.2 328.5h6M508.5 295.8V317.1M505.5 295.8h6M505.5 317.1h6M492.6 295.0V309.1M489.6 295.0h6M489.6 309.1h6M503.6 312.5V333.5M500.6 312.5h6M500.6 333.5h6M485.4 295.5V310.4M482.4 295.5h6M482.4 310.4h6M490.6 298.0V319.5M487.6 298.0h6M487.6 319.5h6M504.3 296.7V313.0M501.3 296.7h6M501.3 313.0h6M480.0 313.7V332.2M477.0 313.7h6M477.0 332.2h6M500.8 312.1V330.5M497.8 312.1h6M497.8 330.5h6M504.2 300.4V314.5M501.2 300.4h6M501.2 314.5h6M483.8 301.2V323.4M480.8 301.2h6M480.8 323.4h6M493.6 303.2V322.3M490.6 303.2h6M490.6 322.3h6M491.3 291.1V318.8M488.3 291.1h6M488.3 318.8h6M501.2 294.5V328.0M498.2 294.5h6M498.2 328.0h6M497.8 298.2V313.4M494.8 298.2h6M494.8 313.4h6M493.1 301.3V310.3M490.1 301.3h6M490.1 310.3h6M493.6 306.2V324.0M490.6 306.2h6M490.6 324.0h6M476.2 308.5V328.0M473.2 308.5h6M473.2 328.0h6M496.7 299.2V326.5M493.7 299.2h6M493.7 326.5h6M486.7 310.9V325.5M483.7 310.9h6M483.7 325.5h6M497.2 297.9V318.3M494.2 297.9h6M494.2 318.3h6M502.2 288.1V306.8M499.2 288.1h6M499.2 306.8h6M506.2 302.3V318.7M503.2 302.3h6M503.2 318.7h6M486.0 300.3V326.5M483.0 300.3h6M483.0 326.5h6M497.4 289.3V311.1M494.4 289.3h6M494.4 311.1h6M503.5 308.9V324.8M500.5 308.9h6M500.5 324.8h6M490.5 306.7V320.5M487.5 306.7h6M487.5 320.5h6M479.2 309.7V325.8M476.2 309.7h6M476.2 325.8h6M475.5 281.2V299.1M472.5 281.2h6M472.5 299.1h6M495.4 311.4V326.8M492.4 311.4h6M492.4 326.8h6M501.6 295.4V314.5M498.6 295.4h6M498.6 314.5h6M493.7 303.3V326.6M490.7 303.3h6M490.7 326.6h6M489.7 311.6V334.3M486.7 311.6h6M486.7 334.3h6M476.7 304.2V321.2M473.7 304.2h6M473.7 321.2h6M488.5 314.7V332.4M485.5 314.7h6M485.5 332.4h6M486.3 307.2V325.4M483.3 307.2h6M483.3 325.4h6M483.9 296.6V318.2M480.9 296.6h6M480.9 318.2h6M475.6 295.8V310.0M472.6 295.8h6M472.6 310.0h6M503.4 305.5V322.5M500.4 305.5h6M500.4 322.5h6M480.2 304.3V321.7M477.2 304.3h6M477.2 321.7h6M489.6 295.4V312.8M486.6 295.4h6M486.6 312.8h6M494.2 300.0V313.8M491.2 300.0h6M491.2 313.8h6M486.6 303.0V322.6M483.6 303.0h6M483.6 322.6h6M476.0 304.6V325.7M473.0 304.6h6M473.0 325.7h6M502.4 302.8V321.9M499.4 302.8h6M499.4 321.9h6M495.7 295.6V333.1M492.7 295.6h6M492.7 333.1h6M495.5 314.6V327.4M492.5 314.6h6M492.5 327.4h6M473.6 295.2V312.1M470.6 295.2h6M470.6 312.1h6M507.8 298.6V322.1M504.8 298.6h6M504.8 322.1h6M475.9 312.0V331.3M472.9 312.0h6M472.9 331.3h6M494.8 296.8V310.7M491.8 296.8h6M491.8 310.7h6M488.2 299.1V314.1M485.2 299.1h6M485.2 314.1h6M500.6 313.4V335.6M497.6 313.4h6M497.6 335.6h6M479.2 315.6V338.1M476.2 315.6h6M476.2 338.1h6M502.9 292.4V313.9M499.9 292.4h6M499.9 313.9h6M493.6 298.7V318.5M490.6 298.7h6M490.6 318.5h6M479.6 291.2V310.7M476.6 291.2h6M476.6 310.7h6M499.1 299.9V315.8M496.1 299.9h6M496.1 315.8h6M499.7 300.5V316.2M496.7 300.5h6M496.7 316.2h6M497.0 303.5V322.8M494.0 303.5h6M494.0 322.8h6M478.9 298.2V315.0M475.9 298.2h6M475.9 315.0h6M496.7 294.3V312.8M493.7 294.3h6M493.7 312.8h6M500.4 303.7V329.1M497.4 303.7h6M497.4 329.1h6M499.5 310.4V323.0M496.5 310.4h6M496.5 323.0h6M477.8 300.1V315.9M474.8 300.1h6M474.8 315.9h6M495.6 302.1V324.4M492.6 302.1h6M492.6 324.4h6M485.4 298.8V311.4M482.4 298.8h6M482.4 311.4h6M529.2 292.3V309.8M526.2 292.3h6M526.2 309.8h6M554.2 290.6V314.8M551.2 290.6h6M551.2 314.8h6M560.0 317.3V339.8M557.0 317.3h6M557.0 339.8h6M550.4 310.8V334.2M547.4 310.8h6M547.4 334.2h6M553.7 317.0V330.1M550.7 317.0h6M550.7 330.1h6M532.8 264.9V289.2M529.8 264.9h6M529.8 289.2h6M553.4 303.0V320.8M550.4 303.0h6M550.4 320.8h6M534.9 299.6V319.1M531.9 299.6h6M531.9 319.1h6M553.2 301.2V321.4M550.2 301.2h6M550.2 321.4h6M549.4 307.6V324.0M546.4 307.6h6M546.4 324.0h6M560.6 281.1V320.8M557.6 281.1h6M557.6 320.8h6M554.3 292.9V312.6M551.3 292.9h6M551.3 312.6h6M534.4 290.6V306.3M531.4 290.6h6M531.4 306.3h6M535.2 315.7V337.6M532.2 315.7h6M532.2 337.6h6M540.8 280.7V299.4M537.8 280.7h6M537.8 299.4h6M557.5 300.6V319.2M554.5 300.6h6M554.5 319.2h6M560.2 303.5V322.8M557.2 303.5h6M557.2 322.8h6M553.0 296.7V322.1M550.0 296.7h6M550.0 322.1h6M542.3 295.0V322.3M539.3 295.0h6M539.3 322.3h6M537.6 302.2V321.3M534.6 302.2h6M534.6 321.3h6M545.6 310.8V322.8M542.6 310.8h6M542.6 322.8h6M550.1 286.1V303.6M547.1 286.1h6M547.1 303.6h6M542.3 291.2V318.7M539.3 291.2h6M539.3 318.7h6M551.7 282.0V305.2M548.7 282.0h6M548.7 305.2h6M542.3 301.3V315.3M539.3 301.3h6M539.3 315.3h6M531.8 309.0V329.1M528.8 309.0h6M528.8 329.1h6M538.0 285.7V310.4M535.0 285.7h6M535.0 310.4h6M560.6 306.6V324.7M557.6 306.6h6M557.6 324.7h6M546.5 298.7V335.5M543.5 298.7h6M543.5 335.5h6M535.8 320.4V340.3M532.8 320.4h6M532.8 340.3h6M543.0 287.5V310.8M540.0 287.5h6M540.0 310.8h6M529.4 303.1V318.0M526.4 303.1h6M526.4 318.0h6M527.5 302.3V315.2M524.5 302.3h6M524.5 315.2h6M540.8 289.4V308.3M537.8 289.4h6M537.8 308.3h6M546.8 295.1V325.6M543.8 295.1h6M543.8 325.6h6M532.6 312.9V335.3M529.6 312.9h6M529.6 335.3h6M535.0 303.8V325.9M532.0 303.8h6M532.0 325.9h6M528.6 298.1V311.6M525.6 298.1h6M525.6 311.6h6M540.5 318.7V334.8M537.5 318.7h6M537.5 334.8h6M556.9 294.1V316.6M553.9 294.1h6M553.9 316.6h6M529.7 288.1V311.2M526.7 288.1h6M526.7 311.2h6M534.0 298.2V318.5M531.0 298.2h6M531.0 318.5h6M545.1 303.9V328.2M542.1 303.9h6M542.1 328.2h6M540.3 306.2V322.7M537.3 306.2h6M537.3 322.7h6M534.2 286.8V310.2M531.2 286.8h6M531.2 310.2h6M528.2 298.6V333.6M525.2 298.6h6M525.2 333.6h6M545.2 312.1V326.0M542.2 312.1h6M542.2 326.0h6M538.6 311.6V325.4M535.6 311.6h6M535.6 325.4h6M541.0 300.6V312.9M538.0 300.6h6M538.0 312.9h6M536.8 298.1V316.5M533.8 298.1h6M533.8 316.5h6M549.5 312.5V334.4M546.5 312.5h6M546.5 334.4h6M540.9 301.2V322.7M537.9 301.2h6M537.9 322.7h6M538.9 294.9V314.6M535.9 294.9h6M535.9 314.6h6M529.0 310.4V327.6M526.0 310.4h6M526.0 327.6h6M546.1 290.9V313.5M543.1 290.9h6M543.1 313.5h6M544.7 312.9V332.5M541.7 312.9h6M541.7 332.5h6M530.7 297.3V320.5M527.7 297.3h6M527.7 320.5h6M536.9 279.3V308.0M533.9 279.3h6M533.9 308.0h6M534.1 304.1V318.8M531.1 304.1h6M531.1 318.8h6M539.1 292.1V308.7M536.1 292.1h6M536.1 308.7h6M536.6 312.5V339.5M533.6 312.5h6M533.6 339.5h6M557.4 300.7V332.1M554.4 300.7h6M554.4 332.1h6M530.4 316.9V332.2M527.4 316.9h6M527.4 332.2h6M554.5 309.1V332.8M551.5 309.1h6M551.5 332.8h6M543.0 295.5V320.5M540.0 295.5h6M540.0 320.5h6M550.6 305.7V325.9M547.6 305.7h6M547.6 325.9h6M529.2 306.6V320.4M526.2 306.6h6M526.2 320.4h6M560.2 288.0V317.5M557.2 288.0h6M557.2 317.5h6M529.9 299.5V312.6M526.9 299.5h6M526.9 312.6h6M557.0 283.3V312.8M554.0 283.3h6M554.0 312.8h6M557.1 287.9V313.5M554.1 287.9h6M554.1 313.5h6M541.1 309.3V324.9M538.1 309.3h6M538.1 324.9h6M547.8 317.8V348.2M544.8 317.8h6M544.8 348.2h6M557.3 292.4V318.9M554.3 292.4h6M554.3 318.9h6M533.3 310.4V335.6M530.3 310.4h6M530.3 335.6h6M547.9 296.9V324.9M544.9 296.9h6M544.9 324.9h6M540.0 300.0V322.0M537.0 300.0h6M537.0 322.0h6M541.2 291.7V314.5M538.2 291.7h6M538.2 314.5h6M536.2 309.0V328.2M533.2 309.0h6M533.2 328.2h6M544.8 280.0V309.5M541.8 280.0h6M541.8 309.5h6M559.8 284.7V326.7M556.8 284.7h6M556.8 326.7h6M551.9 318.0V339.7M548.9 318.0h6M548.9 339.7h6M555.5 297.6V332.7M552.5 297.6h6M552.5 332.7h6M530.7 288.6V305.0M527.7 288.6h6M527.7 305.0h6M537.4 304.6V315.3M534.4 304.6h6M534.4 315.3h6M533.9 322.5V342.0M530.9 322.5h6M530.9 342.0h6M542.1 300.7V320.9M539.1 300.7h6M539.1 320.9h6M560.6 285.5V334.5M557.6 285.5h6M557.6 334.5h6M556.9 302.1V327.8M553.9 302.1h6M553.9 327.8h6M554.4 294.8V312.7M551.4 294.8h6M551.4 312.7h6M549.2 294.3V320.0M546.2 294.3h6M546.2 320.0h6M559.7 302.2V320.6M556.7 302.2h6M556.7 320.6h6M559.5 293.8V315.0M556.5 293.8h6M556.5 315.0h6M556.7 275.1V302.2M553.7 275.1h6M553.7 302.2h6M547.7 306.2V327.7M544.7 306.2h6M544.7 327.7h6M541.4 297.4V333.8M538.4 297.4h6M538.4 333.8h6M542.3 300.4V319.2M539.3 300.4h6M539.3 319.2h6M548.5 293.2V310.9M545.5 293.2h6M545.5 310.9h6M541.0 299.5V321.9M538.0 299.5h6M538.0 321.9h6M527.5 294.6V308.9M524.5 294.6h6M524.5 308.9h6M545.7 284.4V312.2M542.7 284.4h6M542.7 312.2h6M550.7 306.6V333.1M547.7 306.6h6M547.7 333.1h6M547.0 302.3V319.6M544.0 302.3h6M544.0 319.6h6M549.7 286.8V309.5M546.7 286.8h6M546.7 309.5h6M541.8 312.6V341.5M538.8 312.6h6M538.8 341.5h6M542.6 310.2V330.6M539.6 310.2h6M539.6 330.6h6M550.7 305.8V336.5M547.7 305.8h6M547.7 336.5h6M526.9 300.4V311.1M523.9 300.4h6M523.9 311.1h6M539.8 310.4V332.9M536.8 310.4h6M536.8 332.9h6M526.8 298.6V320.9M523.8 298.6h6M523.8 320.9h6M541.8 326.9V352.5M538.8 326.9h6M538.8 352.5h6M551.1 335.1V356.5M548.1 335.1h6M548.1 356.5h6M554.4 292.5V309.8M551.4 292.5h6M551.4 309.8h6M546.5 274.9V304.5M543.5 274.9h6M543.5 304.5h6M528.9 303.0V321.1M525.9 303.0h6M525.9 321.1h6M144.2 261.4V298.8M141.2 261.4h6M141.2 298.8h6M169.5 318.8V361.2M166.5 318.8h6M166.5 361.2h6M400.9 252.6V291.4M397.9 252.6h6M397.9 291.4h6M561.5 262.0V291.0M558.5 262.0h6M558.5 291.0h6M581.9 131.4V139.0M578.9 131.4h6M578.9 139.0h6M582.0 143.5V153.7M579.0 143.5h6M579.0 153.7h6M583.0 184.0V193.5M580.0 184.0h6M580.0 193.5h6M581.1 205.6V221.9M578.1 205.6h6M578.1 221.9h6M584.5 237.7V251.1M581.5 237.7h6M581.5 251.1h6" stroke="#000" stroke-width="1" fill="none"/>
<path d="M110.0 309.8h0M109.1 318.6h0M98.4 318.0h0M107.7 308.1h0M109.9 310.3h0M118.3 312.0h0M109.9 299.8h0M124.1 296.5h0M98.0 316.3h0M108.3 308.1h0M93.8 317.0h0M128.4 307.9h0M102.0 302.2h0M124.7 306.7h0M114.5 323.9h0M98.6 324.2h0M95.1 311.8h0M118.9 303.9h0M95.7 303.9h0M115.5 310.7h0M100.9 311.1h0M106.2 305.4h0M120.5 305.2h0M114.9 313.9h0M119.4 301.9h0M104.0 319.8h0M111.4 311.2h0M94.1 323.8h0M103.1 296.6h0M106.5 322.2h0M92.9 296.5h0M114.0 312.3h0M128.4 319.3h0M106.5 309.4h0M99.9 307.9h0M91.4 317.1h0M98.5 300.9h0M125.7 314.4h0M118.4 305.0h0M119.9 307.4h0M121.6 329.2h0M121.8 313.5h0M114.4 303.9h0M107.4 308.9h0M127.8 315.4h0M110.1 320.9h0M102.3 304.6h0M91.8 301.1h0M119.4 317.1h0M97.7 314.0h0M112.8 304.6h0M118.8 310.9h0M100.0 298.2h0M110.1 318.5h0M96.9 307.3h0M96.3 293.8h0M115.3 302.9h0M113.9 298.0h0M117.2 301.4h0M105.7 309.0h0M122.4 319.2h0M108.2 301.6h0M104.7 318.9h0M92.5 303.5h0M119.9 297.4h0M105.2 307.5h0M93.8 296.8h0M119.2 314.9h0M106.6 300.2h0M104.4 303.7h0M115.8 307.5h0M115.5 303.9h0M127.2 312.2h0M104.7 313.2h0M121.5 310.3h0M98.4 321.8h0M119.7 295.4h0M109.9 298.7h0M113.3 293.7h0M110.1 312.8h0M117.3 320.1h0M108.7 309.7h0M101.1 322.6h0M105.1 306.5h0M97.6 325.5h0M116.3 289.2h0M121.2 313.0h0M123.9 316.8h0M125.7 315.3h0M127.1 316.2h0M119.7 294.2h0M90.9 306.0h0M119.7 307.8h0M104.6 308.6h0M118.2 287.1h0M121.3 315.0h0M108.0 306.5h0M122.6 309.4h0M102.7 312.9h0M110.3 310.2h0M95.4 312.0h0M92.3 307.6h0M112.4 311.9h0M116.7 299.9h0M97.3 334.6h0M96.1 304.7h0M108.4 307.8h0M110.7 311.6h0M97.5 313.3h0M108.9 301.3h0M104.6 314.5h0M126.5 317.1h0M121.0 304.1h0M93.5 313.4h0M92.4 306.9h0M112.8 304.1h0M115.1 304.4h0M126.1 307.6h0M106.4 312.7h0M107.2 321.4h0M119.3 308.3h0M108.5 300.9h0M103.5 316.1h0M99.9 320.2h0M107.7 308.3h0M115.9 313.0h0M114.1 304.8h0M118.6 292.2h0M123.7 320.0h0M105.7 307.2h0M127.1 317.9h0M92.7 305.2h0M93.5 312.8h0M107.5 307.2h0M98.4 301.4h0M107.9 299.7h0M127.6 316.7h0M118.2 296.4h0M116.9 321.9h0M106.9 319.9h0M91.4 322.4h0M126.4 313.4h0M109.0 316.7h0M125.4 307.4h0M97.8 314.5h0M103.8 307.6h0M121.6 299.4h0M123.9 308.9h0M119.7 316.6h0M115.7 301.7h0M105.0 310.7h0M121.1 302.5h0M110.6 308.8h0M126.4 317.3h0M115.1 313.0h0M119.6 317.7h0M93.3 305.9h0M121.7 312.5h0M117.6 311.8h0M112.6 320.5h0M120.0 307.7h0M102.3 304.0h0M105.5 310.4h0M115.9 318.7h0M124.1 324.1h0M125.5 309.3h0M98.3 320.2h0M107.5 304.5h0M127.0 297.3h0M115.6 312.1h0M107.9 312.5h0M114.1 313.9h0M99.3 311.6h0M98.9 312.1h0M120.4 303.9h0M114.2 311.3h0M117.9 302.5h0M98.5 310.6h0M115.0 294.4h0M101.6 312.7h0M93.9 318.8h0M126.5 323.9h0M101.9 317.3h0M106.1 317.6h0M92.5 305.9h0M103.4 305.9h0M93.8 312.9h0M109.4 301.0h0M104.6 313.3h0M126.6 313.7h0M106.0 325.4h0M121.3 311.0h0M108.2 298.7h0M121.4 296.8h0M99.1 316.8h0M92.5 297.1h0M103.8 313.0h0M102.3 306.9h0M110.4 300.8h0M106.6 323.4h0M108.5 309.7h0M120.1 305.7h0M115.7 306.5h0M99.2 315.7h0M108.5 306.5h0M123.5 311.7h0M100.3 300.2h0M102.6 311.5h0M106.7 297.8h0M125.1 306.8h0M113.3 306.6h0M104.9 315.8h0M110.8 312.5h0M119.7 312.4h0M128.2 312.4h0M103.7 314.1h0M124.9 320.1h0M117.5 310.1h0M92.5 311.1h0M116.6 313.7h0M91.8 300.5h0M102.6 307.6h0M127.1 325.1h0M108.8 312.7h0M115.1 313.5h0M108.8 314.8h0M97.7 312.5h0M119.9 318.1h0M125.8 298.1h0M124.3 315.1h0M119.5 320.8h0M125.1 323.3h0M97.5 322.6h0M98.7 313.2h0M113.9 292.6h0M112.7 316.2h0M94.9 310.3h0M119.2 309.2h0M98.7 312.0h0M108.2 300.4h0M106.8 308.0h0M121.7 304.8h0M98.1 298.8h0M97.6 334.6h0M114.9 314.8h0M116.3 321.9h0M115.8 294.6h0M98.4 308.0h0M103.6 314.2h0M111.3 305.2h0M111.0 315.7h0M97.6 307.5h0M92.8 304.4h0M101.5 309.5h0M120.7 316.3h0M127.9 304.8h0M116.3 310.6h0M97.4 305.7h0M114.8 316.5h0M125.4 304.2h0M103.0 305.8h0M103.3 306.7h0M108.2 305.4h0M96.0 304.3h0M120.8 311.5h0M119.6 324.5h0M120.7 315.0h0M105.4 309.4h0M115.4 306.2h0M116.7 310.4h0M116.8 313.7h0M95.2 316.6h0M106.8 306.5h0M113.1 316.4h0M92.3 313.0h0M112.5 331.5h0M107.7 302.5h0M124.9 317.7h0M94.3 304.7h0M105.5 313.6h0M107.7 315.5h0M112.2 325.1h0M123.5 300.0h0M114.6 310.1h0M91.8 321.8h0M122.4 302.6h0M118.5 316.6h0M112.5 304.0h0M94.1 305.6h0M106.3 285.4h0M117.4 306.9h0M91.2 301.9h0M103.0 321.2h0M101.0 311.4h0M108.2 305.0h0M122.2 301.6h0M106.9 304.9h0M128.3 337.2h0M109.7 312.0h0M96.7 319.4h0M99.7 308.1h0M106.1 318.0h0M109.1 316.9h0M107.5 309.0h0M117.1 317.4h0M96.9 313.3h0M106.0 304.4h0M125.0 309.8h0M98.5 293.3h0M105.2 306.7h0M105.2 309.1h0M109.3 294.8h0M121.3 322.8h0M109.8 295.8h0M105.3 313.2h0M97.8 306.4h0M124.8 310.1h0M104.8 310.7h0M118.8 307.0h0M118.4 299.4h0M127.8 309.7h0M108.7 310.8h0M110.6 311.3h0M117.8 308.7h0M117.1 312.6h0M95.9 313.4h0M102.0 318.9h0M95.6 305.0h0M112.7 321.7h0M106.8 305.7h0M123.3 307.7h0M113.8 303.9h0M108.7 319.2h0M128.8 330.0h0M100.8 307.8h0M103.8 306.8h0M123.2 313.1h0M107.6 305.5h0M97.6 325.6h0M104.8 319.0h0M104.7 309.5h0M104.7 319.8h0M110.6 314.6h0M104.4 308.7h0M107.2 327.9h0M93.5 299.7h0M96.3 300.9h0M115.6 314.7h0M98.6 307.7h0M97.8 325.8h0M110.1 295.8h0M102.9 300.3h0M99.9 314.6h0M94.2 300.3h0M116.2 302.6h0M102.7 308.8h0M124.5 317.4h0M112.6 312.4h0M103.1 312.9h0M117.8 308.1h0M107.5 304.9h0M92.6 306.3h0M125.4 313.5h0M92.1 319.7h0M122.5 303.8h0M113.0 302.1h0M125.5 308.8h0M100.9 296.1h0M128.2 319.5h0M91.8 307.3h0M93.4 314.4h0M119.3 323.0h0M119.4 317.0h0M101.0 313.6h0M107.1 336.6h0M108.8 320.3h0M97.3 309.7h0M126.8 317.4h0M119.7 333.1h0M99.9 302.9h0M116.0 313.4h0M104.2 307.1h0M100.0 315.5h0M110.4 294.2h0M118.6 308.0h0M95.0 313.7h0M93.8 315.5h0M114.0 308.1h0M105.8 314.1h0M111.9 311.3h0M108.7 297.1h0M111.6 306.9h0M99.9 314.7h0M106.4 300.2h0M113.7 314.8h0M112.3 314.5h0M125.7 297.8h0M94.4 293.5h0M102.0 314.6h0M112.7 305.5h0M125.0 313.0h0M93.2 318.9h0M94.7 300.2h0M121.7 319.7h0M104.8 319.4h0M102.7 315.6h0M120.2 324.2h0M121.9 318.2h0M127.1 298.9h0M98.5 302.9h0M124.4 313.2h0M123.9 309.6h0M100.9 324.3h0M105.3 299.0h0M112.9 303.9h0M114.1 310.4h0M101.6 311.7h0M105.2 303.7h0M102.6 302.8h0M102.4 310.8h0M93.9 314.7h0M91.1 312.5h0M100.2 326.1h0M106.5 316.2h0M102.2 307.4h0M107.2 311.0h0M127.5 301.0h0M102.9 308.9h0M118.0 299.3h0M100.7 321.7h0M102.9 310.2h0M118.8 312.1h0M119.9 305.2h0M110.6 319.7h0M93.9 308.7h0M94.8 313.5h0M127.5 318.3h0M117.9 304.1h0M103.1 301.7h0M125.0 313.8h0M102.5 312.1h0M107.6 313.5h0M95.4 292.5h0M111.5 312.8h0M108.0 313.8h0M94.0 327.3h0M101.0 299.1h0M115.0 315.8h0M91.3 329.2h0M125.4 318.4h0M92.9 306.0h0M101.0 298.5h0M110.5 303.3h0M126.8 309.0h0M95.9 313.6h0M116.8 300.0h0M109.2 312.9h0M113.4 305.3h0M128.5 312.2h0M118.7 304.6h0M116.6 314.0h0M125.9 314.2h0M127.3 303.5h0M120.2 311.3h0M121.1 308.8h0M94.2 316.8h0M117.8 310.6h0M97.6 300.2h0M108.4 298.9h0M108.8 309.5h0M120.2 304.7h0M119.0 317.1h0M114.3 307.1h0M102.8 314.2h0M91.5 306.7h0M93.3 308.8h0M94.8 313.3h0M119.1 304.7h0M99.6 310.4h0M121.7 302.2h0M107.3 309.3h0M118.2 315.9h0M108.6 297.8h0M96.2 318.5h0M98.8 321.2h0M109.1 315.2h0M101.0 312.6h0M117.9 305.4h0M109.3 316.3h0M91.6 326.6h0M93.8 304.7h0M121.4 320.5h0M100.5 298.6h0M117.1 301.5h0M124.8 304.5h0M120.3 306.3h0M110.2 320.1h0M94.1 296.4h0M92.6 309.6h0M118.0 308.9h0M120.0 343.6h0M111.1 299.2h0M94.2 303.9h0M102.8 314.2h0M126.2 314.2h0M122.5 315.7h0M119.3 331.3h0M111.2 306.9h0M115.7 303.6h0M122.5 303.1h0M116.4 292.8h0M114.8 316.2h0M124.6 314.9h0M95.0 301.5h0M112.5 292.2h0M93.0 320.0h0M103.2 311.0h0M110.1 311.1h0M104.7 300.7h0M115.5 303.5h0M108.2 313.3h0M100.8 303.6h0M115.2 314.5h0M112.9 313.5h0M93.8 296.8h0M110.8 295.1h0M121.4 302.3h0M112.7 306.4h0M120.5 302.5h0M112.8 317.4h0M128.4 310.5h0M106.0 312.3h0M102.9 309.3h0M104.8 347.9h0M114.8 309.3h0M117.3 308.4h0M115.0 319.0h0M102.2 308.9h0M101.3 323.2h0M124.0 300.4h0M149.6 321.0h0M166.0 308.1h0M182.7 326.5h0M151.5 315.9h0M168.8 314.1h0M144.7 307.5h0M165.4 303.6h0M168.7 315.8h0M151.4 308.8h0M166.7 317.5h0M151.9 301.9h0M160.4 301.0h0M150.8 306.9h0M177.4 307.2h0M170.9 319.2h0M182.5 296.2h0M172.8 314.2h0M158.0 301.4h0M151.6 324.4h0M152.6 315.6h0M179.5 306.2h0M181.7 310.3h0M153.1 296.9h0M174.0 323.8h0M175.7 306.8h0M173.5 308.9h0M177.0 314.8h0M169.7 309.4h0M162.8 301.1h0M179.3 311.4h0M156.9 303.7h0M149.8 292.7h0M175.7 306.8h0M168.7 314.2h0M159.9 303.2h0M160.5 306.9h0M152.4 321.0h0M148.5 323.4h0M168.0 306.5h0M178.2 314.2h0M151.6 320.0h0M172.2 319.3h0M179.2 320.3h0M177.4 316.4h0M165.0 313.2h0M167.9 321.8h0M167.5 310.2h0M160.2 306.8h0M180.4 300.3h0M164.3 318.1h0M176.1 305.4h0M174.9 300.9h0M151.4 292.9h0M164.3 314.8h0M167.8 318.3h0M156.1 317.6h0M149.3 315.6h0M173.7 310.0h0M155.3 316.5h0M150.0 306.2h0M144.7 298.3h0M160.4 311.6h0M149.9 293.5h0M161.5 312.2h0M157.8 308.0h0M178.2 319.6h0M181.3 299.8h0M150.3 312.5h0M155.8 307.5h0M163.4 312.5h0M180.5 312.0h0M179.6 311.2h0M182.8 324.9h0M175.7 311.6h0M176.4 304.2h0M169.6 312.3h0M177.6 307.5h0M150.4 298.2h0M157.0 315.0h0M147.4 315.0h0M174.9 317.5h0M177.2 322.1h0M159.6 312.1h0M170.0 303.3h0M152.4 310.5h0M151.5 301.8h0M153.4 311.0h0M174.0 316.7h0M173.0 320.9h0M156.2 322.4h0M165.6 314.2h0M146.9 298.7h0M151.4 308.3h0M145.8 303.7h0M149.4 311.0h0M149.5 314.5h0M157.2 309.6h0M154.5 314.0h0M159.1 299.5h0M166.0 312.3h0M160.0 323.4h0M170.0 308.6h0M163.7 295.0h0M167.7 307.5h0M173.1 305.2h0M162.9 311.7h0M180.0 305.8h0M178.5 291.7h0M155.9 324.4h0M155.7 314.0h0M157.5 303.3h0M170.9 314.6h0M166.1 311.0h0M169.3 308.0h0M166.4 310.9h0M148.2 325.3h0M177.9 298.8h0M180.4 303.0h0M148.6 309.3h0M151.9 321.1h0M155.0 302.0h0M176.6 310.6h0M158.3 316.4h0M177.1 312.2h0M162.0 310.6h0M158.5 315.8h0M170.9 310.2h0M145.3 325.5h0M167.9 314.9h0M149.6 300.7h0M171.0 310.4h0M170.9 313.5h0M181.7 309.5h0M172.9 307.9h0M180.4 317.6h0M172.6 290.9h0M182.5 296.6h0M154.0 306.9h0M161.7 311.4h0M153.8 315.5h0M176.1 316.9h0M146.2 324.0h0M167.6 314.2h0M162.1 314.8h0M145.4 304.4h0M154.6 309.2h0M176.6 311.0h0M157.7 314.4h0M183.0 323.9h0M149.7 316.3h0M145.0 318.9h0M164.6 309.7h0M165.3 310.0h0M170.3 313.2h0M148.3 321.8h0M178.8 315.7h0M172.9 310.2h0M179.0 302.4h0M177.0 308.0h0M180.4 304.2h0M182.1 316.6h0M161.0 327.5h0M166.8 303.4h0M147.8 304.5h0M164.0 307.4h0M172.0 301.2h0M181.7 311.5h0M176.2 323.5h0M149.5 304.7h0M149.9 310.4h0M152.1 320.2h0M182.3 298.1h0M175.5 309.9h0M150.3 299.4h0M171.2 303.0h0M161.2 308.7h0M166.3 316.1h0M162.8 312.9h0M174.7 319.0h0M171.2 306.9h0M157.4 317.1h0M155.5 321.6h0M155.2 296.9h0M180.7 287.9h0M149.0 320.3h0M153.3 304.0h0M167.6 320.9h0M166.6 310.6h0M156.1 307.8h0M155.6 305.8h0M178.7 311.4h0M171.6 319.9h0M171.7 317.3h0M166.4 310.6h0M147.5 305.1h0M174.2 315.3h0M177.5 312.6h0M161.5 301.0h0M167.0 313.7h0M182.7 315.5h0M170.0 312.6h0M153.4 294.1h0M176.3 315.1h0M166.8 302.9h0M151.9 315.7h0M179.8 322.6h0M168.7 297.1h0M168.1 311.4h0M160.3 307.0h0M179.8 316.6h0M180.1 311.3h0M170.4 321.8h0M154.7 311.2h0M161.7 309.1h0M160.1 311.2h0M173.6 307.6h0M156.9 307.1h0M175.5 315.7h0M168.5 327.3h0M153.2 291.1h0M162.0 320.3h0M158.5 304.5h0M148.9 306.9h0M169.9 296.1h0M164.0 309.9h0M146.8 298.8h0M164.5 301.3h0M181.9 309.3h0M166.4 314.5h0M165.3 313.3h0M146.9 307.4h0M146.8 305.5h0M169.2 321.3h0M181.2 304.2h0M168.2 311.4h0M172.8 316.7h0M165.8 309.1h0M153.9 317.9h0M147.6 303.2h0M151.4 304.0h0M171.5 307.7h0M177.5 307.2h0M171.0 308.4h0M178.4 305.5h0M153.6 299.2h0M149.9 303.4h0M153.8 300.8h0M154.5 332.4h0M180.2 308.8h0M156.6 317.5h0M152.1 312.9h0M182.0 319.9h0M175.6 304.4h0M150.7 308.3h0M179.7 312.9h0M175.8 315.2h0M167.0 308.9h0M156.0 309.5h0M147.6 303.9h0M171.4 300.5h0M151.1 316.7h0M149.5 308.4h0M173.9 324.8h0M178.2 318.0h0M177.9 307.6h0M159.6 301.4h0M156.1 311.9h0M153.8 312.1h0M162.9 316.3h0M147.0 300.0h0M146.6 296.8h0M158.9 307.3h0M182.3 305.0h0M172.9 308.5h0M164.9 306.6h0M173.7 304.5h0M154.0 317.8h0M173.6 313.2h0M159.7 302.4h0M171.3 302.5h0M154.5 309.5h0M164.7 301.3h0M167.9 307.7h0M167.3 306.1h0M161.1 303.1h0M171.7 297.0h0M148.0 313.5h0M147.8 300.5h0M163.6 308.5h0M157.0 313.4h0M160.0 305.2h0M180.8 305.0h0M161.8 306.5h0M151.7 305.0h0M173.4 311.1h0M182.8 321.8h0M157.2 303.4h0M172.4 313.3h0M175.4 311.0h0M170.6 308.8h0M148.6 307.7h0M148.9 326.3h0M182.3 305.4h0M176.8 322.0h0M168.4 315.9h0M149.7 325.1h0M155.1 304.9h0M149.1 313.4h0M172.4 310.3h0M164.7 300.2h0M172.5 306.1h0M158.0 316.1h0M150.9 317.2h0M149.2 311.8h0M151.9 321.3h0M166.3 307.1h0M174.8 324.3h0M146.1 316.6h0M162.1 314.3h0M170.4 302.0h0M159.6 333.5h0M167.6 316.4h0M149.8 315.2h0M165.8 296.5h0M155.6 318.0h0M156.5 291.8h0M175.7 299.0h0M163.7 307.4h0M155.9 318.1h0M168.0 317.6h0M158.8 303.7h0M177.7 301.8h0M162.0 303.2h0M157.4 323.7h0M168.5 316.3h0M158.3 322.0h0M178.2 312.8h0M173.2 298.0h0M182.6 309.8h0M174.7 306.4h0M149.3 294.3h0M179.7 308.8h0M176.9 309.8h0M144.9 310.2h0M152.8 311.7h0M164.4 317.6h0M171.7 298.5h0M146.0 304.3h0M149.7 295.9h0M171.0 286.8h0M163.9 307.5h0M152.2 311.6h0M167.3 308.3h0M169.6 312.8h0M151.5 308.9h0M152.3 312.6h0M160.5 307.0h0M175.7 309.1h0M146.0 313.6h0M154.6 300.4h0M165.6 313.5h0M181.8 311.5h0M160.8 311.4h0M173.1 305.8h0M152.0 311.3h0M173.7 310.7h0M151.6 304.6h0M174.2 293.2h0M182.5 317.4h0M181.2 298.3h0M159.6 307.2h0M168.4 298.0h0M158.0 313.0h0M171.6 317.3h0M156.2 294.8h0M163.9 314.0h0M180.3 320.4h0M156.2 303.0h0M180.8 319.2h0M158.8 291.8h0M180.0 301.5h0M157.5 304.4h0M161.6 307.3h0M180.3 335.5h0M152.0 319.8h0M178.3 323.4h0M147.9 304.6h0M182.1 308.7h0M146.5 328.5h0M151.5 306.4h0M156.7 306.4h0M154.4 321.4h0M160.6 309.3h0M166.8 290.3h0M156.1 298.6h0M156.0 290.5h0M149.1 307.8h0M148.1 316.8h0M148.0 308.6h0M172.3 309.7h0M176.3 313.3h0M153.6 298.7h0M177.8 306.7h0M156.1 313.1h0M159.2 320.3h0M174.1 301.1h0M159.3 309.8h0M147.3 333.1h0M148.5 327.7h0M151.9 314.9h0M176.1 312.9h0M168.6 308.6h0M165.3 307.3h0M175.8 313.3h0M153.6 308.1h0M177.4 307.7h0M148.8 299.2h0M175.2 313.4h0M170.0 306.4h0M151.3 307.4h0M162.7 286.9h0M180.3 306.5h0M151.3 320.0h0M163.4 312.3h0M148.4 306.7h0M178.6 321.4h0M156.6 308.1h0M155.2 308.3h0M158.4 294.1h0M175.1 301.3h0M178.4 319.8h0M148.7 317.2h0M170.0 308.2h0M179.3 316.7h0M168.5 315.3h0M161.5 303.4h0M175.0 311.3h0M155.6 321.3h0M151.4 301.4h0M149.3 322.0h0M147.0 299.8h0M155.2 327.8h0M146.4 311.8h0M170.6 308.3h0M165.3 304.1h0M181.0 303.9h0M177.5 310.0h0M172.1 321.8h0M149.1 314.7h0M146.1 320.8h0M166.2 305.6h0M172.9 307.6h0M155.7 307.6h0M150.8 308.6h0M150.6 318.2h0M145.9 317.2h0M169.2 319.6h0M158.6 313.8h0M170.1 309.6h0M180.6 309.4h0M179.2 296.3h0M154.1 318.0h0M159.2 306.9h0M172.7 316.4h0M162.0 321.9h0M152.7 318.9h0M150.5 304.7h0M145.2 317.7h0M177.7 291.1h0M176.5 321.0h0M147.8 310.3h0M167.9 306.2h0M149.1 307.8h0M176.1 310.1h0M173.3 302.2h0M159.1 322.1h0M158.5 325.7h0M176.0 307.4h0M170.4 327.2h0M149.2 314.5h0M178.3 316.5h0M151.7 290.0h0M150.5 301.1h0M174.1 311.0h0M161.7 324.2h0M165.4 304.5h0M170.4 312.8h0M175.2 315.7h0M165.8 317.8h0M167.4 321.5h0M175.9 301.2h0M172.4 299.5h0M177.9 318.0h0M167.5 329.0h0M174.6 323.7h0M173.6 305.7h0M145.6 314.3h0M176.3 306.4h0M154.6 309.2h0M154.1 302.5h0M183.0 309.6h0M177.7 299.0h0M158.6 299.1h0M161.5 315.8h0M162.1 318.8h0M175.1 318.7h0M154.4 328.4h0M167.2 312.7h0M160.1 313.6h0M160.1 311.2h0M159.9 322.5h0M173.4 317.8h0M169.6 312.4h0M169.6 320.9h0M171.8 315.4h0M175.7 321.7h0M162.8 313.9h0M172.1 303.6h0M153.8 310.7h0M174.4 330.1h0M151.0 316.2h0M181.0 308.5h0M175.0 321.0h0M159.7 317.7h0M152.1 320.7h0M162.1 337.6h0M179.7 305.8h0M176.2 318.9h0M166.1 308.0h0M147.6 319.1h0M163.6 298.2h0M157.3 315.1h0M174.1 306.5h0M180.1 302.8h0M176.3 312.6h0M173.8 321.2h0M182.7 315.0h0M174.2 306.3h0M152.2 309.3h0M174.5 322.7h0M205.2 305.7h0M220.7 324.8h0M237.2 306.4h0M207.0 311.0h0M223.4 318.6h0M200.0 302.6h0M220.2 310.2h0M223.3 299.8h0M207.2 319.9h0M221.3 308.0h0M207.7 324.9h0M215.5 315.7h0M206.3 313.7h0M231.5 307.1h0M225.2 303.1h0M236.7 316.7h0M227.0 308.7h0M213.3 317.2h0M207.0 302.8h0M208.1 301.9h0M233.7 306.4h0M235.8 306.7h0M208.6 318.4h0M228.3 294.9h0M229.9 314.6h0M227.7 300.7h0M231.4 326.0h0M224.0 315.9h0M217.7 306.2h0M233.4 310.3h0M212.3 297.7h0M205.4 322.2h0M229.9 306.4h0M223.2 308.8h0M215.4 314.7h0M215.6 309.4h0M207.9 302.1h0M204.1 311.3h0M222.6 303.4h0M232.2 290.5h0M207.0 307.2h0M226.6 314.4h0M233.2 302.2h0M231.5 306.4h0M219.8 321.1h0M222.5 323.8h0M222.1 306.4h0M215.3 314.1h0M234.6 321.3h0M219.1 319.3h0M230.4 321.4h0M229.0 317.0h0M207.2 312.9h0M219.2 321.9h0M222.4 310.2h0M211.3 307.0h0M205.1 301.6h0M227.9 318.7h0M210.7 305.8h0M205.9 302.0h0M199.9 296.0h0M215.6 314.7h0M205.4 317.3h0M216.5 317.4h0M213.1 315.4h0M232.4 310.0h0M235.6 317.5h0M205.8 306.7h0M211.1 299.2h0M218.3 311.6h0M234.6 291.0h0M233.7 312.4h0M237.3 307.5h0M229.9 320.6h0M230.5 298.6h0M224.0 312.6h0M231.8 307.1h0M205.9 312.3h0M212.4 311.9h0M203.1 311.1h0M229.2 326.3h0M231.0 311.8h0M214.7 304.4h0M224.4 312.4h0M207.8 307.8h0M207.1 299.5h0M209.1 314.6h0M228.1 315.4h0M227.4 318.1h0M211.5 321.4h0M220.3 312.1h0M202.4 304.4h0M206.9 310.5h0M201.3 303.2h0M204.8 310.9h0M205.0 315.9h0M212.5 320.3h0M209.9 321.4h0M214.2 314.1h0M220.8 298.4h0M215.1 308.4h0M224.5 303.4h0M218.6 311.0h0M222.1 314.6h0M227.2 309.6h0M217.8 313.9h0M234.1 298.0h0M232.6 312.5h0M211.2 322.5h0M211.1 308.8h0M212.8 295.8h0M225.3 307.3h0M220.7 305.1h0M223.7 311.8h0M221.1 305.7h0M203.8 294.3h0M231.8 326.1h0M234.2 314.5h0M204.4 304.2h0M207.8 314.2h0M210.4 311.0h0M230.5 307.7h0M213.5 310.9h0M231.3 327.1h0M216.9 299.0h0M213.8 303.3h0M225.3 309.2h0M200.7 319.4h0M222.4 301.7h0M205.3 310.6h0M225.4 316.7h0M225.0 312.3h0M236.1 310.7h0M227.0 316.2h0M234.7 310.1h0M227.0 326.6h0M236.9 315.6h0M209.5 301.5h0M216.6 310.4h0M209.5 313.3h0M230.4 309.4h0M201.6 308.3h0M222.2 317.8h0M217.1 291.2h0M200.8 298.9h0M210.2 307.2h0M230.8 311.5h0M213.0 315.3h0M237.5 318.1h0M205.9 322.5h0M200.3 313.6h0M219.4 314.9h0M220.0 304.3h0M224.8 309.1h0M203.8 310.9h0M232.9 314.9h0M226.9 324.9h0M233.0 317.1h0M231.3 319.8h0M234.6 309.6h0M236.3 309.9h0M216.0 313.2h0M221.5 322.1h0M203.3 315.0h0M218.8 310.2h0M226.4 301.9h0M235.8 307.5h0M230.2 303.5h0M205.2 315.9h0M205.5 325.4h0M208.0 304.1h0M236.5 303.5h0M229.8 307.1h0M206.0 302.3h0M225.7 311.6h0M216.2 323.2h0M221.0 304.6h0M217.7 310.4h0M228.8 321.1h0M236.4 296.0h0M218.4 309.9h0M221.8 299.1h0M230.8 302.1h0M207.5 308.9h0M221.9 316.3h0M227.4 313.1h0M229.4 319.9h0M208.3 307.2h0M224.9 317.5h0M219.5 321.7h0M220.5 296.7h0M201.9 291.4h0M215.2 320.0h0M217.6 304.1h0M226.7 321.6h0M217.1 310.6h0M224.3 307.7h0M202.3 306.5h0M222.1 311.4h0M208.4 319.0h0M200.6 316.1h0M231.4 310.6h0M204.0 305.8h0M205.8 314.7h0M234.0 312.9h0M221.5 300.8h0M210.8 313.5h0M210.7 315.1h0M203.9 312.3h0M222.6 293.5h0M202.7 314.4h0M204.1 303.9h0M228.1 316.1h0M223.3 323.1h0M206.8 298.6h0M220.5 311.4h0M220.4 306.9h0M216.4 316.5h0M208.0 311.2h0M216.5 321.6h0M226.0 311.3h0M230.5 308.9h0M224.8 311.2h0M219.5 307.6h0M209.3 307.4h0M235.9 316.6h0M222.5 327.9h0M218.5 291.1h0M202.1 318.8h0M213.0 304.8h0M231.4 306.5h0M236.2 293.8h0M212.8 309.9h0M215.8 299.1h0M202.9 302.6h0M206.4 309.4h0M216.8 314.4h0M212.6 313.1h0M236.9 306.9h0M232.3 304.9h0M205.8 320.1h0M215.4 304.4h0M204.7 311.3h0M206.5 316.0h0M223.5 309.0h0M229.2 318.6h0M228.6 302.5h0M226.1 303.6h0M217.5 307.8h0M206.0 307.6h0M226.9 308.3h0M228.3 305.0h0M200.1 301.1h0M221.4 303.2h0M223.6 300.3h0M207.0 330.1h0M205.5 309.0h0M222.8 317.8h0M232.8 313.2h0M220.6 320.1h0M226.8 304.0h0M228.0 308.1h0M218.8 312.9h0M214.8 315.0h0M202.3 309.2h0M216.2 309.5h0M215.4 304.1h0M236.3 298.8h0M214.3 316.5h0M222.4 308.4h0M236.6 327.2h0M228.0 318.7h0M211.9 307.8h0M202.1 302.8h0M216.4 311.9h0M207.5 312.0h0M212.6 316.0h0M228.7 299.0h0M206.0 298.4h0M199.7 307.9h0M225.7 304.7h0M209.9 308.6h0M219.5 306.6h0M222.4 304.3h0M221.9 318.1h0M216.1 313.2h0M226.1 301.8h0M203.7 303.6h0M203.3 309.6h0M218.5 301.3h0M212.3 307.9h0M215.1 306.2h0M235.2 301.9h0M216.8 297.2h0M207.4 313.2h0M227.7 299.7h0M223.0 308.4h0M199.9 312.9h0M228.6 304.7h0M202.4 305.8h0M217.0 306.6h0M227.6 304.5h0M226.1 311.1h0M221.1 322.1h0M201.2 304.6h0M215.0 313.2h0M225.3 311.0h0M218.2 308.8h0M233.9 307.3h0M220.7 326.6h0M207.0 305.9h0M215.3 321.6h0M227.3 316.3h0M217.7 325.0h0M228.9 304.4h0M235.1 313.8h0M222.2 310.3h0M213.2 300.7h0M235.6 305.4h0M209.4 315.6h0M215.0 316.9h0M221.1 311.8h0M223.4 321.8h0M215.0 307.2h0M227.9 325.5h0M216.8 316.5h0M234.5 314.8h0M208.1 302.8h0M218.1 333.4h0M213.7 316.1h0M225.8 315.5h0M222.2 296.0h0M212.8 317.6h0M204.7 294.2h0M223.8 298.5h0M219.0 307.4h0M221.0 318.2h0M223.3 317.9h0M216.6 303.9h0M201.0 303.3h0M200.5 304.4h0M229.8 325.1h0M214.1 316.1h0M201.1 320.1h0M233.9 313.2h0M234.4 296.2h0M233.4 309.7h0M207.5 306.8h0M227.3 293.0h0M229.8 308.6h0M223.6 309.8h0M219.9 310.2h0M224.4 311.7h0M215.9 317.4h0M211.3 299.3h0M233.0 303.4h0M220.1 295.7h0M233.9 283.5h0M209.2 307.7h0M233.7 311.7h0M224.2 308.2h0M222.6 312.9h0M206.2 309.1h0M201.2 312.2h0M224.4 306.8h0M222.1 309.1h0M215.9 313.6h0M230.0 299.4h0M215.7 313.4h0M202.6 311.4h0M201.8 311.3h0M202.1 306.5h0M224.9 311.3h0M218.8 310.7h0M216.4 304.7h0M223.3 292.4h0M218.6 317.4h0M221.0 298.0h0M202.2 307.7h0M213.2 298.6h0M204.5 312.7h0M215.6 317.1h0M211.7 295.8h0M221.1 314.1h0M231.7 321.6h0M202.3 304.1h0M211.4 318.6h0M223.5 291.0h0M212.8 302.0h0M217.1 304.5h0M224.7 307.1h0M219.0 335.6h0M212.1 319.3h0M209.8 322.3h0M215.7 304.8h0M221.4 308.7h0M211.4 327.3h0M237.6 305.7h0M236.7 305.7h0M211.7 320.7h0M236.5 309.1h0M211.2 291.7h0M209.8 299.6h0M216.2 290.9h0M215.3 307.9h0M211.9 316.4h0M234.8 308.3h0M202.2 309.8h0M215.4 313.2h0M233.7 297.1h0M234.5 306.1h0M229.4 313.4h0M219.1 320.3h0M212.1 301.7h0M224.8 309.8h0M202.4 329.7h0M231.8 329.8h0M204.7 314.4h0M224.2 313.0h0M220.1 308.6h0M206.4 307.7h0M225.1 313.4h0M235.6 307.7h0M219.8 307.7h0M208.8 300.3h0M223.2 313.6h0M216.2 306.5h0M222.0 307.3h0M224.1 285.7h0M219.8 306.4h0M205.0 318.8h0M234.5 312.6h0M217.9 306.7h0M220.6 321.5h0M215.1 308.2h0M207.2 308.6h0M208.6 295.6h0M206.2 302.4h0M217.5 319.7h0M215.7 317.0h0M226.8 308.0h0M234.9 317.6h0M231.6 315.9h0M227.1 302.9h0M235.1 311.4h0M229.6 322.4h0M210.2 302.1h0M210.8 321.2h0M204.1 301.2h0M206.6 325.9h0M222.0 311.9h0M236.3 307.9h0M228.0 303.5h0M209.6 304.4h0M222.6 310.0h0M227.6 322.7h0M223.7 314.9h0M236.4 322.5h0M223.2 305.4h0M221.3 307.5h0M215.7 307.6h0M209.0 308.7h0M202.0 317.0h0M214.6 316.9h0M213.7 319.2h0M223.6 314.0h0M229.4 309.5h0M210.4 309.5h0M231.0 294.7h0M237.0 319.3h0M225.0 306.7h0M201.0 315.4h0M233.5 323.5h0M210.1 318.2h0M229.9 304.0h0M223.3 318.0h0M219.3 291.0h0M217.5 320.9h0M208.0 310.3h0M217.8 306.3h0M208.9 308.0h0M222.3 310.1h0M214.1 302.5h0M222.4 322.5h0M228.3 327.0h0M219.2 307.4h0M217.6 327.1h0M207.1 314.0h0M230.3 317.2h0M230.6 287.7h0M208.0 302.0h0M221.9 311.0h0M230.1 325.7h0M226.8 304.1h0M232.0 313.1h0M222.1 315.9h0M228.7 318.4h0M227.8 322.4h0M201.3 302.7h0M230.4 298.3h0M210.2 317.5h0M209.6 327.5h0M237.6 326.1h0M231.8 305.2h0M213.9 314.2h0M216.5 306.5h0M217.0 309.2h0M229.2 301.7h0M209.8 309.7h0M221.6 298.7h0M215.2 299.5h0M215.2 315.7h0M215.1 318.5h0M227.7 319.4h0M224.0 329.2h0M224.1 312.8h0M226.2 313.8h0M229.8 311.2h0M217.8 322.4h0M226.5 318.4h0M209.5 312.2h0M228.8 321.8h0M206.7 314.8h0M235.3 323.4h0M229.3 314.2h0M214.8 303.9h0M207.8 310.7h0M217.0 329.9h0M233.6 316.9h0M230.4 308.2h0M220.8 321.2h0M203.4 316.7h0M218.5 320.7h0M212.6 336.1h0M228.3 305.4h0M234.4 320.1h0M230.5 307.7h0M228.1 319.9h0M237.0 296.2h0M228.5 315.5h0M254.4 307.2h0M254.9 339.3h0M254.9 321.7h0M255.8 302.2h0M256.8 306.2h0M257.6 313.9h0M254.9 300.8h0M256.5 311.5h0M255.4 311.3h0M257.5 323.0h0M256.8 305.4h0M255.2 317.9h0M254.6 303.9h0M256.3 309.4h0M255.6 319.1h0M258.1 311.4h0M257.4 311.0h0M257.3 316.4h0M258.2 315.1h0M257.3 306.5h0M257.3 305.6h0M256.3 298.4h0M255.9 312.2h0M254.7 318.7h0M254.5 313.7h0M257.4 295.4h0M257.0 308.3h0M256.1 326.2h0M255.2 311.4h0M257.4 309.8h0M254.9 311.8h0M258.0 304.3h0M257.5 321.3h0M256.7 304.2h0M255.7 305.9h0M256.0 322.8h0M254.5 315.4h0M257.7 316.3h0M257.2 304.1h0M254.8 320.8h0M256.4 311.0h0M255.7 320.4h0M256.4 307.9h0M256.7 307.7h0M256.2 309.0h0M257.4 315.1h0M256.6 295.8h0M256.6 312.8h0M257.0 315.6h0M257.3 296.7h0M255.9 320.1h0M255.6 310.2h0M256.7 315.7h0M257.6 314.3h0M257.6 303.1h0M258.1 320.6h0M255.8 314.6h0M258.1 311.2h0M256.6 313.2h0M254.4 302.5h0M255.5 313.1h0M256.1 311.8h0M256.5 305.5h0M257.4 310.9h0M258.1 309.4h0M256.9 319.6h0M254.7 302.0h0M256.2 319.4h0M255.8 311.5h0M256.5 312.1h0M256.4 318.7h0M255.7 320.3h0M254.4 304.6h0M257.1 325.4h0M256.4 328.4h0M258.0 288.6h0M258.0 313.9h0M257.6 310.7h0M255.4 315.7h0M255.2 312.6h0M255.2 317.7h0M256.4 315.4h0M258.0 312.4h0M256.2 307.1h0M254.9 305.7h0M256.5 314.8h0M256.4 309.4h0M255.2 323.2h0M255.8 304.4h0M254.6 306.5h0M257.7 307.7h0M258.1 295.6h0M254.5 323.2h0M257.8 300.4h0M254.9 313.7h0M258.1 319.8h0M256.1 315.7h0M257.7 313.5h0M256.5 305.4h0M256.1 317.8h0M254.8 318.3h0M258.1 302.2h0M255.5 306.3h0M257.6 303.8h0M255.1 293.7h0M254.7 335.8h0M256.6 308.6h0M255.1 322.8h0M256.6 309.9h0M256.6 311.3h0M257.2 307.6h0M255.4 312.5h0M257.4 296.7h0M254.7 303.2h0M257.5 314.3h0M256.2 299.7h0M256.7 290.9h0M258.2 296.5h0M256.4 306.6h0M255.5 305.4h0M256.1 308.4h0M255.1 313.8h0M257.8 311.3h0M256.3 305.9h0M256.8 318.2h0M254.6 307.2h0M255.6 317.9h0M258.0 302.7h0M255.6 311.4h0M257.2 318.5h0M255.4 327.3h0M257.2 318.3h0M255.7 310.9h0M256.7 298.2h0M256.7 301.7h0M256.5 308.2h0M256.0 317.4h0M254.8 310.8h0M257.7 319.5h0M256.0 303.5h0M257.1 321.9h0M255.5 315.4h0M256.2 301.8h0M256.0 303.2h0M256.1 312.5h0M254.8 300.6h0M254.9 313.0h0M255.1 310.3h0M257.6 326.4h0M255.4 308.4h0M254.8 319.5h0M257.2 317.0h0M254.6 314.7h0M258.1 317.5h0M257.1 296.7h0M257.5 304.6h0M256.3 298.2h0M255.5 310.1h0M257.2 313.8h0M255.6 323.1h0M393.0 304.8h0M394.1 312.3h0M392.2 338.6h0M390.4 334.4h0M392.8 317.0h0M397.0 297.3h0M399.0 319.9h0M394.7 308.8h0M388.5 336.4h0M390.3 303.8h0M399.1 310.9h0M397.4 299.6h0M391.4 311.0h0M398.8 341.8h0M393.1 306.4h0M392.9 335.2h0M389.9 307.4h0M397.3 325.4h0M395.2 322.9h0M389.0 305.0h0M389.0 327.0h0M390.8 284.5h0M390.6 317.6h0M393.5 311.6h0M400.2 320.2h0M396.3 314.0h0M389.2 299.0h0M389.6 304.3h0M392.4 314.5h0M394.6 306.9h0M396.1 320.0h0M398.6 321.9h0M391.2 323.6h0M389.1 297.2h0M394.7 315.2h0M396.8 319.2h0M389.0 343.6h0M399.3 295.6h0M390.5 314.9h0M399.6 295.3h0M389.4 313.6h0M395.5 308.3h0M397.7 328.2h0M392.2 328.0h0M389.7 304.2h0M398.4 288.7h0M393.2 312.0h0M388.7 306.9h0M398.0 305.2h0M388.8 286.6h0M390.1 313.4h0M395.0 324.5h0M392.4 294.1h0M389.9 320.9h0M389.9 311.3h0M391.2 315.4h0M397.5 300.3h0M389.5 323.9h0M397.0 303.8h0M397.8 314.0h0M392.0 316.7h0M395.2 314.5h0M391.6 299.0h0M394.8 305.2h0M396.4 325.2h0M391.0 280.9h0M392.9 269.8h0M390.0 300.1h0M392.4 313.9h0M396.2 294.1h0M394.1 307.1h0M390.9 301.9h0M400.2 314.5h0M389.7 301.9h0M395.8 319.5h0M395.0 321.6h0M396.5 319.4h0M395.0 295.2h0M394.0 295.7h0M390.7 294.4h0M389.0 295.6h0M392.2 306.1h0M393.9 319.1h0M392.1 301.5h0M398.3 309.3h0M393.4 314.2h0M397.5 328.8h0M391.5 324.5h0M394.2 302.2h0M394.7 314.7h0M395.1 306.7h0M396.7 328.7h0M396.7 311.4h0M399.2 320.7h0M396.8 331.1h0M393.0 298.0h0M395.2 290.9h0M388.5 303.7h0M388.8 319.1h0M393.0 310.3h0M390.3 308.6h0M388.7 301.7h0M397.5 310.2h0M392.0 315.9h0M396.5 319.6h0M396.1 309.7h0M397.2 287.9h0M392.1 306.8h0M394.4 308.6h0M399.1 297.2h0M391.9 306.3h0M391.5 301.0h0M391.9 289.5h0M396.2 295.3h0M391.7 273.4h0M391.0 308.8h0M396.3 308.8h0M394.1 316.1h0M391.4 315.7h0M398.7 313.6h0M392.0 332.8h0M399.4 323.4h0M389.7 314.4h0M393.0 303.5h0M397.2 343.4h0M389.8 304.0h0M392.7 320.1h0M391.7 311.3h0M395.3 307.4h0M400.1 312.3h0M397.2 313.5h0M400.2 316.6h0M394.0 312.5h0M399.7 305.6h0M396.1 285.1h0M392.8 327.0h0M398.6 290.6h0M397.5 328.2h0M398.6 311.6h0M395.8 310.8h0M390.6 307.9h0M394.1 311.1h0M388.5 298.8h0M399.2 328.4h0M390.5 314.4h0M388.3 313.0h0M397.8 311.1h0M397.1 318.8h0M399.1 318.3h0M391.6 332.9h0M390.8 286.8h0M399.9 299.3h0M396.7 290.9h0M391.5 313.3h0M398.1 297.6h0M393.6 311.9h0M390.1 316.3h0M397.4 305.9h0M390.2 295.6h0M394.3 323.2h0M399.4 304.5h0M394.2 318.1h0M391.8 317.6h0M393.6 334.5h0M397.6 314.4h0M398.5 306.3h0M398.2 322.9h0M392.7 312.6h0M398.3 305.0h0M394.7 320.0h0M396.0 295.8h0M397.6 326.0h0M391.1 311.0h0M397.1 299.5h0M391.9 320.4h0M391.5 297.0h0M389.7 298.8h0M395.3 301.2h0M396.8 328.0h0M398.0 310.4h0M393.9 307.9h0M390.9 307.9h0M391.5 303.6h0M391.2 299.7h0M388.8 327.3h0M388.5 310.8h0M397.8 278.6h0M392.3 329.3h0M393.5 297.6h0M400.1 312.8h0M390.0 308.6h0M395.6 300.6h0M389.0 295.0h0M389.2 328.9h0M394.3 318.2h0M390.6 316.1h0M392.0 314.3h0M397.3 306.0h0M399.4 301.6h0M389.8 322.1h0M398.8 309.7h0M389.6 310.1h0M389.9 316.4h0M396.0 330.3h0M397.8 296.2h0M392.7 308.8h0M400.2 293.5h0M398.3 295.0h0M391.9 304.7h0M397.9 308.4h0M391.5 287.3h0M394.7 307.0h0M397.9 320.6h0M392.3 305.0h0M395.0 310.5h0M388.8 310.1h0M389.8 317.1h0M396.8 287.1h0M395.6 314.7h0M398.6 309.6h0M448.8 317.4h0M419.8 312.0h0M420.7 295.9h0M419.7 300.6h0M424.2 318.5h0M421.6 318.8h0M420.7 307.4h0M432.9 311.0h0M447.3 294.4h0M427.1 316.2h0M444.5 320.2h0M421.3 318.7h0M434.4 311.3h0M436.2 317.3h0M430.0 307.7h0M440.6 317.6h0M431.8 313.1h0M428.9 301.1h0M421.4 320.1h0M435.4 303.9h0M440.4 305.1h0M427.8 321.3h0M426.3 311.0h0M434.7 316.2h0M448.0 303.6h0M426.5 322.1h0M448.8 299.4h0M433.0 300.6h0M441.5 311.2h0M439.0 313.0h0M431.0 310.0h0M420.5 309.2h0M433.5 312.6h0M429.6 298.4h0M419.4 317.6h0M434.3 303.4h0M437.7 312.0h0M444.2 310.0h0M429.8 321.9h0M433.7 305.3h0M427.9 301.1h0M436.7 323.2h0M432.6 317.4h0M446.4 298.6h0M430.6 310.0h0M423.8 308.7h0M431.0 304.8h0M435.3 296.0h0M444.9 297.7h0M438.6 303.3h0M437.3 318.2h0M447.4 324.9h0M440.6 300.1h0M451.3 309.2h0M435.5 314.2h0M428.2 297.7h0M426.7 317.3h0M443.4 313.0h0M421.8 317.3h0M421.1 325.4h0M421.8 312.5h0M439.0 320.2h0M430.5 316.2h0M429.1 314.7h0M431.5 293.9h0M422.8 306.3h0M422.4 306.7h0M420.2 323.1h0M421.9 315.1h0M424.9 291.6h0M424.7 297.5h0M435.1 315.9h0M421.6 309.1h0M435.8 321.6h0M443.1 316.9h0M446.0 308.0h0M423.2 319.5h0M434.8 316.1h0M436.0 313.5h0M426.8 315.7h0M446.8 325.0h0M420.1 313.4h0M434.2 304.9h0M441.5 321.4h0M432.4 303.7h0M430.2 319.5h0M433.3 312.1h0M438.7 321.7h0M442.5 314.7h0M434.9 324.7h0M428.1 314.1h0M419.6 303.1h0M429.8 302.2h0M441.0 295.8h0M425.1 317.5h0M442.9 321.3h0M420.2 298.9h0M432.8 311.2h0M431.9 336.0h0M438.2 318.0h0M433.0 311.0h0M435.7 299.0h0M433.8 315.2h0M431.6 306.4h0M439.2 323.6h0M422.5 312.0h0M432.5 314.1h0M451.7 315.5h0M433.7 312.7h0M431.7 316.7h0M478.1 302.8h0M473.5 318.8h0M500.9 305.1h0M483.6 305.6h0M481.9 313.8h0M486.9 310.9h0M481.3 329.8h0M492.2 316.4h0M487.1 313.9h0M486.9 305.6h0M501.4 307.0h0M487.7 310.7h0M474.2 304.0h0M495.4 306.0h0M505.3 305.0h0M497.7 318.7h0M486.0 316.5h0M492.3 312.4h0M495.6 307.7h0M490.5 316.2h0M476.8 312.9h0M493.1 308.6h0M488.7 300.2h0M498.6 308.8h0M498.2 312.6h0M488.9 294.6h0M479.2 315.7h0M491.8 314.9h0M492.8 320.8h0M508.5 311.7h0M507.7 326.7h0M503.5 321.4h0M504.3 313.1h0M481.2 320.3h0M508.5 306.5h0M492.6 302.1h0M503.6 323.0h0M485.4 303.0h0M490.6 308.7h0M504.3 304.8h0M480.0 322.9h0M500.8 321.3h0M504.2 307.4h0M483.8 312.3h0M493.6 312.8h0M491.3 305.0h0M501.2 311.3h0M497.8 305.8h0M493.1 305.8h0M493.6 315.1h0M476.2 318.3h0M496.7 312.9h0M486.7 318.2h0M497.2 308.1h0M502.2 297.5h0M506.2 310.5h0M486.0 313.4h0M497.4 300.2h0M503.5 316.9h0M490.5 313.6h0M479.2 317.8h0M475.5 290.2h0M495.4 319.1h0M501.6 304.9h0M493.7 315.0h0M489.7 323.0h0M476.7 312.7h0M488.5 323.6h0M486.3 316.3h0M483.9 307.4h0M475.6 302.9h0M503.4 314.0h0M480.2 313.0h0M489.6 304.1h0M494.2 306.9h0M486.6 312.8h0M476.0 315.1h0M502.4 312.3h0M495.7 314.3h0M495.5 321.0h0M473.6 303.6h0M507.8 310.4h0M475.9 321.7h0M494.8 303.7h0M488.2 306.6h0M500.6 324.5h0M479.2 326.8h0M502.9 303.2h0M493.6 308.6h0M479.6 301.0h0M499.1 307.9h0M499.7 308.4h0M497.0 313.1h0M478.9 306.6h0M496.7 303.6h0M500.4 316.4h0M499.5 316.7h0M477.8 308.0h0M495.6 313.3h0M485.4 305.1h0M529.2 301.1h0M554.2 302.7h0M560.0 328.6h0M550.4 322.5h0M553.7 323.6h0M532.8 277.0h0M553.4 311.9h0M534.9 309.3h0M553.2 311.3h0M549.4 315.8h0M560.6 301.0h0M554.3 302.8h0M534.4 298.4h0M535.2 326.7h0M540.8 290.0h0M557.5 309.9h0M560.2 313.1h0M553.0 309.4h0M542.3 308.6h0M537.6 311.8h0M545.6 316.8h0M550.1 294.9h0M542.3 305.0h0M551.7 293.6h0M542.3 308.3h0M531.8 319.1h0M538.0 298.1h0M560.6 315.6h0M546.5 317.1h0M535.8 330.4h0M543.0 299.1h0M529.4 310.6h0M527.5 308.8h0M540.8 298.8h0M546.8 310.4h0M532.6 324.1h0M535.0 314.9h0M528.6 304.9h0M540.5 326.7h0M556.9 305.4h0M529.7 299.6h0M534.0 308.3h0M545.1 316.1h0M540.3 314.4h0M534.2 298.5h0M528.2 316.1h0M545.2 319.1h0M538.6 318.5h0M541.0 306.7h0M536.8 307.3h0M549.5 323.4h0M540.9 311.9h0M538.9 304.8h0M529.0 319.0h0M546.1 302.2h0M544.7 322.7h0M530.7 308.9h0M536.9 293.7h0M534.1 311.4h0M539.1 300.4h0M536.6 326.0h0M557.4 316.4h0M530.4 324.5h0M554.5 320.9h0M543.0 308.0h0M550.6 315.8h0M529.2 313.5h0M560.2 302.8h0M529.9 306.1h0M557.0 298.1h0M557.1 300.7h0M541.1 317.1h0M547.8 333.0h0M557.3 305.7h0M533.3 323.0h0M547.9 310.9h0M540.0 311.0h0M541.2 303.1h0M536.2 318.6h0M544.8 294.7h0M559.8 305.7h0M551.9 328.8h0M555.5 315.1h0M530.7 296.8h0M537.4 309.9h0M533.9 332.3h0M542.1 310.8h0M560.6 310.0h0M556.9 314.9h0M554.4 303.8h0M549.2 307.2h0M559.7 311.4h0M559.5 304.4h0M556.7 288.6h0M547.7 317.0h0M541.4 315.6h0M542.3 309.8h0M548.5 302.0h0M541.0 310.7h0M527.5 301.8h0M545.7 298.3h0M550.7 319.8h0M547.0 311.0h0M549.7 298.1h0M541.8 327.1h0M542.6 320.4h0M550.7 321.2h0M526.9 305.8h0M539.8 321.6h0M526.8 309.8h0M541.8 339.7h0M551.1 345.8h0M554.4 301.1h0M546.5 289.7h0M528.9 312.1h0M144.2 280.1h0M169.5 340.0h0M400.9 272.0h0M561.5 276.5h0M581.9 135.2h0M582.0 148.6h0M583.0 188.7h0M581.1 213.7h0M584.5 244.4h0" stroke="#000" stroke-width="5.2" stroke-linecap="round" fill="none"/>
<path d="M87.46 310.53L90.43 310.53L93.4 310.53L96.38 310.53L99.35 310.53L102.32 310.53L105.3 310.53L108.27 310.53L111.24 310.53L114.22 310.53L117.19 310.53L120.16 310.53L123.14 310.53L126.11 310.53L129.08 310.53L132.06 310.53L135.03 310.53L138.0 310.53L140.98 310.53L143.95 310.53L146.92 310.53L149.9 310.53L152.87 310.53L155.84 310.53L158.82 310.53L161.79 310.53L164.76 310.53L167.74 310.53L170.71 310.53L173.68 310.53L176.66 310.53L179.63 310.53L182.6 310.53L185.58 310.53L188.55 310.53L191.52 310.53L194.5 310.53L197.47 310.53L200.44 310.53L203.42 310.53L206.39 310.53L209.36 310.53L212.34 310.53L215.31 310.53L218.28 310.53L221.26 310.53L224.23 310.53L227.2 310.53L230.18 310.53L233.15 310.53L236.12 310.53L239.1 310.53L242.07 310.53L245.04 310.53L248.02 310.53L250.99 310.53L253.96 310.53L256.94 310.53L259.91 310.53L262.88 310.53L265.86 310.53L268.83 310.53L271.8 310.53L274.78 310.53L277.75 310.53L280.72 310.53L283.7 310.53L286.67 310.53L289.64 310.53L292.62 310.53L295.59 310.53L298.56 310.53L301.54 310.53L304.51 310.53L307.48 310.53L310.46 310.53L313.43 310.53L316.4 310.53L319.38 310.53L322.35 310.53L325.32 310.53L328.3 310.53L331.27 310.53L334.24 310.53L337.22 310.53L340.19 310.53L343.16 310.53L346.14 310.53L349.11 310.53L352.08 310.53L355.06 310.53L358.03 310.53L361.0 310.53L363.98 310.53L366.95 310.53L369.92 310.53L372.9 310.53L375.87 310.53L378.84 310.53L381.82 310.53L384.79 310.53L387.76 310.53L390.74 310.53L393.71 310.53L396.68 310.53L399.66 310.53L402.63 310.53L405.6 310.53L408.58 310.53L411.55 310.53L414.52 310.53L417.5 310.53L420.47 310.53L423.44 310.53L426.42 310.53L429.39 310.53L432.36 310.53L435.34 310.53L438.31 310.53L441.28 310.53L444.26 310.53L447.23 310.53L450.2 310.53L453.18 310.53L456.15 310.53L459.12 310.53L462.1 310.53L465.07 310.53L468.04 310.53L471.02 310.53L473.99 310.53L476.96 310.53L479.94 310.53L482.91 310.53L485.88 310.53L488.86 310.53L491.83 310.53L494.8 310.53L497.78 310.53L500.75 310.53L503.72 310.53L506.7 310.53L509.67 310.53L512.64 310.53L515.62 310.53L518.59 310.53L521.56 310.53L524.54 310.53L527.51 310.52L530.48 310.52L533.46 310.52L536.43 310.52L539.4 310.52L542.38 310.52L545.35 310.52L548.32 310.52L551.3 310.52L554.27 310.51L557.24 310.5L559.9 310.49L559.94 310.49L559.97 310.49L560.01 310.49L560.05 310.49L560.09 310.49L560.12 310.49L560.16 310.49L560.2 310.49L560.23 310.49L560.27 310.49L560.31 310.49L560.35 310.49L560.38 310.49L560.42 310.49L560.46 310.49L560.49 310.49L560.53 310.49L560.57 310.49L560.61 310.49L560.64 310.49L560.68 310.49L560.72 310.49L560.75 310.49L560.79 310.49L560.83 310.48L560.87 310.48L560.9 310.48L560.94 310.48L560.98 310.48L561.02 310.48L561.05 310.48L561.09 310.48L561.13 310.48L561.16 310.48L561.2 310.48L561.24 310.48L561.28 310.48L561.31 310.48L561.35 310.48L561.39 310.48L561.42 310.48L561.46 310.48L561.5 310.48L561.54 310.48L561.57 310.48L561.61 310.48L561.65 310.48L561.68 310.48L561.72 310.48L561.76 310.48L561.8 310.48L561.83 310.48L561.87 310.48L561.91 310.48L561.94 310.48L561.98 310.47L562.02 310.47L562.06 310.47L562.09 310.47L562.13 310.47L562.17 310.47L562.2 310.47L562.24 310.47L562.28 310.47L562.32 310.47L562.35 310.47L562.39 310.47L562.43 310.47L562.46 310.47L562.5 310.47L562.54 310.47L562.58 310.47L562.61 310.47L562.65 310.47L562.69 310.47L562.72 310.47L562.76 310.47L562.8 310.47L562.84 310.47L562.87 310.47L562.91 310.46L562.95 310.46L562.98 310.46L563.02 310.46L563.06 310.46L563.1 310.46L563.13 310.46L563.17 310.46L563.21 310.46L563.25 310.46L563.28 310.46L563.32 310.46L563.36 310.46L563.39 310.46L563.43 310.46L563.47 310.46L563.51 310.46L563.54 310.46L563.58 310.46L563.62 310.46L563.65 310.45L563.69 310.45L563.73 310.45L563.77 310.45L563.8 310.45L563.84 310.45L563.88 310.45L563.91 310.45L563.95 310.45L563.99 310.45L564.03 310.45L564.06 310.45L564.1 310.45L564.14 310.45L564.17 310.45L564.21 310.45L564.25 310.44L564.29 310.44L564.32 310.44L564.36 310.44L564.4 310.44L564.43 310.44L564.47 310.44L564.51 310.44L564.55 310.44L564.58 310.44L564.62 310.44L564.66 310.44L564.69 310.44L564.73 310.44L564.77 310.44L564.81 310.43L564.84 310.43L564.88 310.43L564.92 310.43L564.95 310.43L564.99 310.43L565.03 310.43L565.07 310.43L565.1 310.43L565.14 310.43L565.18 310.43L565.21 310.43L565.25 310.42L565.29 310.42L565.33 310.42L565.36 310.42L565.4 310.42L565.44 310.42L565.48 310.42L565.51 310.42L565.55 310.42L565.59 310.42L565.62 310.42L565.66 310.41L565.7 310.41L565.74 310.41L565.77 310.41L565.81 310.41L565.85 310.41L565.88 310.41L565.92 310.41L565.96 310.41L566.0 310.41L566.03 310.4L566.07 310.4L566.11 310.4L566.14 310.4L566.18 310.4L566.22 310.4L566.26 310.4L566.29 310.4L566.33 310.4L566.37 310.39L566.4 310.39L566.44 310.39L566.48 310.39L566.52 310.39L566.55 310.39L566.59 310.39L566.63 310.39L566.66 310.38L566.7 310.38L566.74 310.38L566.78 310.38L566.81 310.38L566.85 310.38L566.89 310.38L566.92 310.37L566.96 310.37L567.0 310.37L567.04 310.37L567.07 310.37L567.11 310.37L567.15 310.37L567.18 310.36L567.22 310.36L567.26 310.36L567.3 310.36L567.33 310.36L567.37 310.36L567.41 310.36L567.44 310.35L567.48 310.35L567.52 310.35L567.56 310.35L567.59 310.35L567.63 310.35L567.67 310.34L567.71 310.34L567.74 310.34L567.78 310.34L567.82 310.34L567.85 310.33L567.89 310.33L567.93 310.33L567.97 310.33L568.0 310.33L568.04 310.32L568.08 310.32L568.11 310.32L568.15 310.32L568.19 310.32L568.23 310.31L568.26 310.31L568.3 310.31L568.34 310.31L568.37 310.31L568.41 310.3L568.45 310.3L568.49 310.3L568.52 310.3L568.56 310.29L568.6 310.29L568.63 310.29L568.67 310.29L568.71 310.28L568.75 310.28L568.78 310.28L568.82 310.28L568.86 310.27L568.89 310.27L568.93 310.27L568.97 310.27L569.01 310.26L569.04 310.26L569.08 310.26L569.12 310.25L569.15 310.25L569.19 310.25L569.23 310.24L569.27 310.24L569.3 310.24L569.34 310.24L569.38 310.23L569.41 310.23L569.45 310.23L569.49 310.22L569.53 310.22L569.56 310.22L569.6 310.21L569.64 310.21L569.67 310.21L569.71 310.2L569.75 310.2L569.79 310.19L569.82 310.19L569.86 310.19L569.9 310.18L569.94 310.18L569.97 310.17L570.01 310.17L570.05 310.17L570.08 310.16L570.12 310.16L570.16 310.15L570.2 310.15L570.23 310.15L570.27 310.14L570.31 310.14L570.34 310.13L570.38 310.13L570.42 310.12L570.46 310.12L570.49 310.11L570.53 310.11L570.57 310.1L570.6 310.1L570.64 310.09L570.68 310.09L570.72 310.08L570.75 310.08L570.79 310.07L570.83 310.07L570.86 310.06L570.9 310.05L570.94 310.05L570.98 310.04L571.01 310.04L571.05 310.03L571.09 310.02L571.12 310.02L571.16 310.01L571.2 310.01L571.24 310.0L571.27 309.99L571.31 309.99L571.35 309.98L571.38 309.97L571.42 309.97L571.46 309.96L571.5 309.95L571.53 309.94L571.57 309.94L571.61 309.93L571.64 309.92L571.68 309.91L571.72 309.9L571.76 309.9L571.79 309.89L571.83 309.88L571.87 309.87L571.9 309.86L571.94 309.85L571.98 309.84L572.02 309.84L572.05 309.83L572.09 309.82L572.13 309.81L572.17 309.8L572.2 309.79L572.24 309.78L572.28 309.77L572.31 309.76L572.35 309.75L572.39 309.74L572.43 309.72L572.46 309.71L572.5 309.7L572.54 309.69L572.57 309.68L572.61 309.67L572.65 309.65L572.69 309.64L572.72 309.63L572.76 309.62L572.8 309.6L572.83 309.59L572.87 309.58L572.91 309.56L572.95 309.55L572.98 309.54L573.02 309.52L573.06 309.51L573.09 309.49L573.13 309.48L573.17 309.46L573.21 309.45L573.24 309.43L573.28 309.41L573.32 309.4L573.35 309.38L573.39 309.36L573.43 309.34L573.47 309.33L573.5 309.31L573.54 309.29L573.58 309.27L573.61 309.25L573.65 309.23L573.69 309.21L573.73 309.19L573.76 309.17L573.8 309.15L573.84 309.13L573.87 309.11L573.91 309.08L573.95 309.06L573.99 309.04L574.02 309.01L574.06 308.99L574.1 308.96L574.13 308.94L574.17 308.91L574.21 308.89L574.25 308.86L574.28 308.83L574.32 308.81L574.36 308.78L574.4 308.75L574.43 308.72L574.47 308.69L574.51 308.66L574.54 308.63L574.58 308.6L574.62 308.56L574.66 308.53L574.69 308.5L574.73 308.46L574.77 308.43L574.8 308.39L574.84 308.35L574.88 308.32L574.92 308.28L574.95 308.24L574.99 308.2L575.03 308.16L575.06 308.12L575.1 308.07L575.14 308.03L575.18 307.98L575.21 307.94L575.25 307.89L575.29 307.85L575.32 307.8L575.36 307.75L575.4 307.7L575.44 307.64L575.47 307.59L575.51 307.54L575.55 307.48L575.58 307.43L575.62 307.37L575.66 307.31L575.7 307.25L575.73 307.19L575.77 307.12L575.81 307.06L575.84 306.99L575.88 306.92L575.92 306.86L575.96 306.78L575.99 306.71L576.03 306.64L576.07 306.56L576.1 306.48L576.14 306.41L576.18 306.32L576.22 306.24L576.25 306.16L576.29 306.07L576.33 305.98L576.36 305.89L576.4 305.79L576.44 305.7L576.48 305.6L576.51 305.5L576.55 305.39L576.59 305.29L576.63 305.18L576.66 305.07L576.7 304.96L576.74 304.84L576.77 304.72L576.81 304.6L576.85 304.47L576.89 304.34L576.92 304.21L576.96 304.07L577.0 303.94L577.03 303.79L577.07 303.65L577.11 303.5L577.15 303.34L577.18 303.19L577.22 303.02L577.26 302.86L577.29 302.69L577.33 302.51L577.37 302.33L577.41 302.15L577.44 301.96L577.48 301.77L577.52 301.57L577.55 301.36L577.59 301.15L577.63 300.94L577.67 300.72L577.7 300.49L577.74 300.25L577.78 300.01L577.81 299.77L577.85 299.51L577.89 299.25L577.93 298.99L577.96 298.71L578.0 298.43L578.04 298.14L578.07 297.84L578.11 297.53L578.15 297.22L578.19 296.89L578.22 296.56L578.26 296.22L578.3 295.86L578.33 295.5L578.37 295.13L578.41 294.74L578.45 294.35L578.48 293.94L578.52 293.52L578.56 293.09L578.59 292.65L578.63 292.2L578.67 291.73L578.71 291.25L578.74 290.75L578.78 290.24L578.82 289.71L578.86 289.17L578.89 288.62L578.93 288.04L578.97 287.45L579.0 286.84L579.04 286.22L579.08 285.57L579.12 284.91L579.15 284.23L579.19 283.52L579.23 282.8L579.26 282.05L579.3 281.28L579.34 280.49L579.38 279.68L579.41 278.84L579.45 277.97L579.49 277.08L579.52 276.17L579.56 275.22L579.6 274.25L579.64 273.24L579.67 272.21L579.71 271.15L579.75 270.05L579.78 268.93L579.82 267.76L579.86 266.57L579.9 265.34L579.93 264.07L579.97 262.76L580.01 261.42L580.04 260.03L580.08 258.61L580.12 257.14L580.16 255.63L580.19 254.08L580.23 252.48L580.27 250.84L580.3 249.15L580.34 247.41L580.38 245.62L580.42 243.78L580.45 241.89L580.49 239.95L580.53 237.96L580.56 235.91L580.6 233.81L580.64 231.65L580.68 229.44L580.71 227.17L580.75 224.84L580.79 222.46L580.82 220.02L580.86 217.52L580.9 214.97L580.94 212.36L580.97 209.7L581.01 206.98L581.05 204.21L581.09 201.39L581.12 198.52L581.16 195.6L581.2 192.65L581.23 189.65L581.27 186.62L581.31 183.57L581.35 180.49L581.38 177.39L581.42 174.29L581.46 171.19L581.49 168.1L581.53 165.03L581.57 161.99L581.61 159.0L581.64 156.06L581.68 153.2L581.72 150.44L581.75 147.77L581.79 145.23L581.83 142.84L581.87 140.6L581.9 138.54L581.94 136.67L581.98 135.01L582.01 133.58L582.05 132.39L582.09 131.45L582.13 130.77L582.16 130.36L582.2 130.22L582.24 130.36L582.27 130.77L582.31 131.45L582.35 132.39L582.39 133.58L582.42 135.01L582.46 136.67L582.5 138.54L582.53 140.6L582.57 142.84L582.61 145.23L582.65 147.77L582.68 150.44L582.72 153.2L582.76 156.06L582.79 159.0L582.83 161.99L582.87 165.03L582.91 168.1L582.94 171.19L582.98 174.29L583.02 177.39L583.05 180.49L583.09 183.57L583.13 186.62L583.17 189.65L583.2 192.65L583.24 195.6L583.28 198.52L583.32 201.39L583.35 204.21L583.39 206.98L583.43 209.7L583.46 212.36L583.5 214.97L583.54 217.52L583.58 220.02L583.61 222.46L583.65 224.84L583.69 227.17L583.72 229.44L583.76 231.65L583.8 233.81L583.84 235.91L583.87 237.96L583.91 239.95L583.95 241.89L583.98 243.78L584.02 245.62L584.06 247.41L584.1 249.15L584.13 250.84L584.17 252.48L584.21 254.08L584.24 255.63L584.28 257.14L584.32 258.61L584.36 260.03L584.39 261.42L584.43 262.76L584.47 264.07L584.5 265.34L584.54 266.57L584.58 267.76L584.62 268.93L584.65 270.05L584.69 271.15L584.73 272.21L584.76 273.24L584.8 274.25L584.84 275.22L584.88 276.17L584.91 277.08L584.95 277.97L584.99 278.84L585.02 279.68L585.06 280.49L585.1 281.28L585.14 282.05L585.17 282.8L585.21 283.52L585.25 284.23L585.28 284.91L585.32 285.57L585.36 286.22L585.4 286.84L585.43 287.45L585.47 288.04L585.51 288.62L585.55 289.17L585.58 289.71L585.62 290.24L585.66 290.75L585.69 291.25L585.73 291.73L585.77 292.2L585.81 292.65L585.84 293.09L585.88 293.52L585.92 293.94L585.95 294.35L585.99 294.74L586.03 295.13L586.07 295.5L586.1 295.86L586.14 296.22L586.18 296.56L586.21 296.89L586.25 297.22L586.29 297.53L586.33 297.84L586.36 298.14L586.4 298.43L586.44 298.71L586.47 298.99L586.51 299.25L586.55 299.51L586.59 299.77L586.62 300.01L586.66 300.25L586.7 300.49L586.73 300.72L586.77 300.94L586.81 301.15L586.85 301.36L586.88 301.57L586.92 301.77L586.96 301.96L586.99 302.15L587.03 302.33L587.07 302.51L587.11 302.69L587.14 302.86L587.18 303.02L587.22 303.19L587.25 303.34L587.29 303.5L587.33 303.65L587.37 303.79L587.4 303.94L587.44 304.07L587.48 304.21L587.51 304.34L587.55 304.47L587.59 304.6L587.63 304.72L587.66 304.84L587.7 304.96L587.74 305.07L587.78 305.18L587.81 305.29L587.85 305.39L587.89 305.5L587.92 305.6L587.96 305.7L588.0 305.79L588.04 305.89L588.07 305.98L588.11 306.07L588.15 306.16L588.18 306.24L588.22 306.32L588.26 306.41L588.3 306.48L588.33 306.56L588.37 306.64L588.41 306.71L588.44 306.78L588.48 306.86L588.52 306.92L588.56 306.99L588.59 307.06L588.63 307.12L588.67 307.19L588.7 307.25L588.74 307.31L588.78 307.37L588.82 307.43L588.85 307.48L588.89 307.54L588.93 307.59L588.96 307.64L589.0 307.7L589.04 307.75L589.08 307.8L589.11 307.85L589.15 307.89L589.19 307.94L589.22 307.98L589.26 308.03L589.3 308.07L589.34 308.12L589.37 308.16L589.41 308.2L589.45 308.24L589.48 308.28L589.52 308.32L589.56 308.35L589.6 308.39L589.63 308.43L589.67 308.46L589.71 308.5L589.74 308.53L589.78 308.56L589.82 308.6L589.86 308.63L589.89 308.66L589.93 308.69L589.97 308.72L590.01 308.75L590.04 308.78L590.08 308.81L590.12 308.83L590.15 308.86L590.19 308.89L590.23 308.91L590.27 308.94L590.3 308.96L590.34 308.99L590.38 309.01L590.41 309.04L590.45 309.06L590.49 309.08L590.53 309.11L590.56 309.13L590.6 309.15L590.64 309.17L590.67 309.19L590.71 309.21L590.75 309.23L590.79 309.25L590.82 309.27L590.86 309.29L590.9 309.31L590.93 309.33L590.97 309.34L591.01 309.36L591.05 309.38L591.08 309.4L591.12 309.41L591.16 309.43L591.19 309.45L591.23 309.46L591.27 309.48L591.31 309.49L591.34 309.51L591.38 309.52L591.42 309.54L591.45 309.55L591.49 309.56L591.53 309.58L591.57 309.59L591.6 309.6L591.64 309.62L591.68 309.63L591.71 309.64L591.75 309.65L591.79 309.67L591.83 309.68L591.86 309.69L591.9 309.7L591.94 309.71L591.97 309.72L592.01 309.74L592.05 309.75L592.09 309.76L592.12 309.77L592.16 309.78L592.2 309.79L592.24 309.8L592.27 309.81L592.31 309.82L592.35 309.83L592.38 309.84L592.42 309.84L592.46 309.85L592.5 309.86L592.53 309.87L592.57 309.88L592.61 309.89L592.64 309.9L592.68 309.9L592.72 309.91L592.76 309.92L592.79 309.93L592.83 309.94L592.87 309.94L592.9 309.95L592.94 309.96L592.98 309.97L593.02 309.97L593.05 309.98L593.09 309.99L593.13 309.99L593.16 310.0L593.2 310.01L593.24 310.01L593.28 310.02L593.31 310.02L593.35 310.03L593.39 310.04L593.42 310.04L593.46 310.05L593.5 310.05L593.54 310.06L593.57 310.07L593.61 310.07L593.65 310.08L593.68 310.08L593.72 310.09L593.76 310.09L593.8 310.1L593.83 310.1L593.87 310.11L593.91 310.11L593.94 310.12L593.98 310.12L594.02 310.13L594.06 310.13L594.09 310.14L594.13 310.14L594.17 310.15L594.2 310.15L594.24 310.15L594.28 310.16L594.32 310.16L594.35 310.17L594.39 310.17L594.43 310.17L594.47 310.18L594.5 310.18L594.54 310.19L594.58 310.19L594.61 310.19L594.65 310.2L594.69 310.2L594.73 310.21L594.76 310.21L594.8 310.21L594.84 310.22L594.87 310.22L594.91 310.22L594.95 310.23L594.99 310.23L595.02 310.23L595.06 310.24L595.1 310.24L595.13 310.24L595.17 310.24L595.21 310.25L595.25 310.25L595.28 310.25L595.32 310.26L595.36 310.26L595.39 310.26L595.43 310.27L595.47 310.27L595.51 310.27L595.54 310.27L595.58 310.28L595.62 310.28L595.65 310.28L595.69 310.28L595.73 310.29L595.77 310.29L595.8 310.29L595.84 310.29L595.88 310.3L595.91 310.3L595.95 310.3L595.99 310.3L596.03 310.31L596.06 310.31L596.1 310.31L596.14 310.31L596.17 310.31L596.21 310.32L596.25 310.32L596.29 310.32L596.32 310.32L596.36 310.32L596.4 310.33L596.43 310.33L596.47 310.33L596.51 310.33L596.55 310.33L596.58 310.34L596.62 310.34L596.66 310.34L596.7 310.34L596.73 310.34L596.77 310.35L596.81 310.35L596.84 310.35L596.88 310.35L596.92 310.35L596.96 310.35L596.99 310.36L597.03 310.36" stroke="#f0f" stroke-width="1.2" stroke-linejoin="round" fill="none"/>
</g>
<path d="M91.77 437.0v-9.5M91.77 62.5v9.5M121.50 437.0v-19M121.50 62.5v19M151.23 437.0v-9.5M151.23 62.5v9.5M180.97 437.0v-9.5M180.97 62.5v9.5M210.70 437.0v-9.5M210.70 62.5v9.5M240.43 437.0v-9.5M240.43 62.5v9.5M270.17 437.0v-19M270.17 62.5v19M299.90 437.0v-9.5M299.90 62.5v9.5M329.63 437.0v-9.5M329.63 62.5v9.5M359.37 437.0v-9.5M359.37 62.5v9.5M389.10 437.0v-9.5M389.10 62.5v9.5M418.83 437.0v-19M418.83 62.5v19M448.57 437.0v-9.5M448.57 62.5v9.5M478.30 437.0v-9.5M478.30 62.5v9.5M508.03 437.0v-9.5M508.03 62.5v9.5M537.77 437.0v-9.5M537.77 62.5v9.5M567.50 437.0v-19M567.50 62.5v19M87.5 66.13h9.5M587.5 66.13h-9.5M87.5 84.22h9.5M587.5 84.22h-9.5M87.5 102.31h9.5M587.5 102.31h-9.5M87.5 120.40h19M587.5 120.40h-19M87.5 138.49h9.5M587.5 138.49h-9.5M87.5 156.58h9.5M587.5 156.58h-9.5M87.5 174.67h9.5M587.5 174.67h-9.5M87.5 192.76h9.5M587.5 192.76h-9.5M87.5 210.85h19M587.5 210.85h-19M87.5 228.94h9.5M587.5 228.94h-9.5M87.5 247.03h9.5M587.5 247.03h-9.5M87.5 265.12h9.5M587.5 265.12h-9.5M87.5 283.21h9.5M587.5 283.21h-9.5M87.5 301.30h19M587.5 301.30h-19M87.5 319.39h9.5M587.5 319.39h-9.5M87.5 337.48h9.5M587.5 337.48h-9.5M87.5 355.57h9.5M587.5 355.57h-9.5M87.5 373.66h9.5M587.5 373.66h-9.5M87.5 391.75h19M587.5 391.75h-19M87.5 409.84h9.5M587.5 409.84h-9.5M87.5 427.93h9.5M587.5 427.93h-9.5" stroke="#000" stroke-width="1" fill="none"/>
<path d="M87.5 437.0V62.5H587.5V437.0" stroke="#000" stroke-width="1.05" fill="none"/>
<path d="M87.0 437.0H588.0" stroke="#000" stroke-width="1.25" fill="none"/>
</svg></body></html>
